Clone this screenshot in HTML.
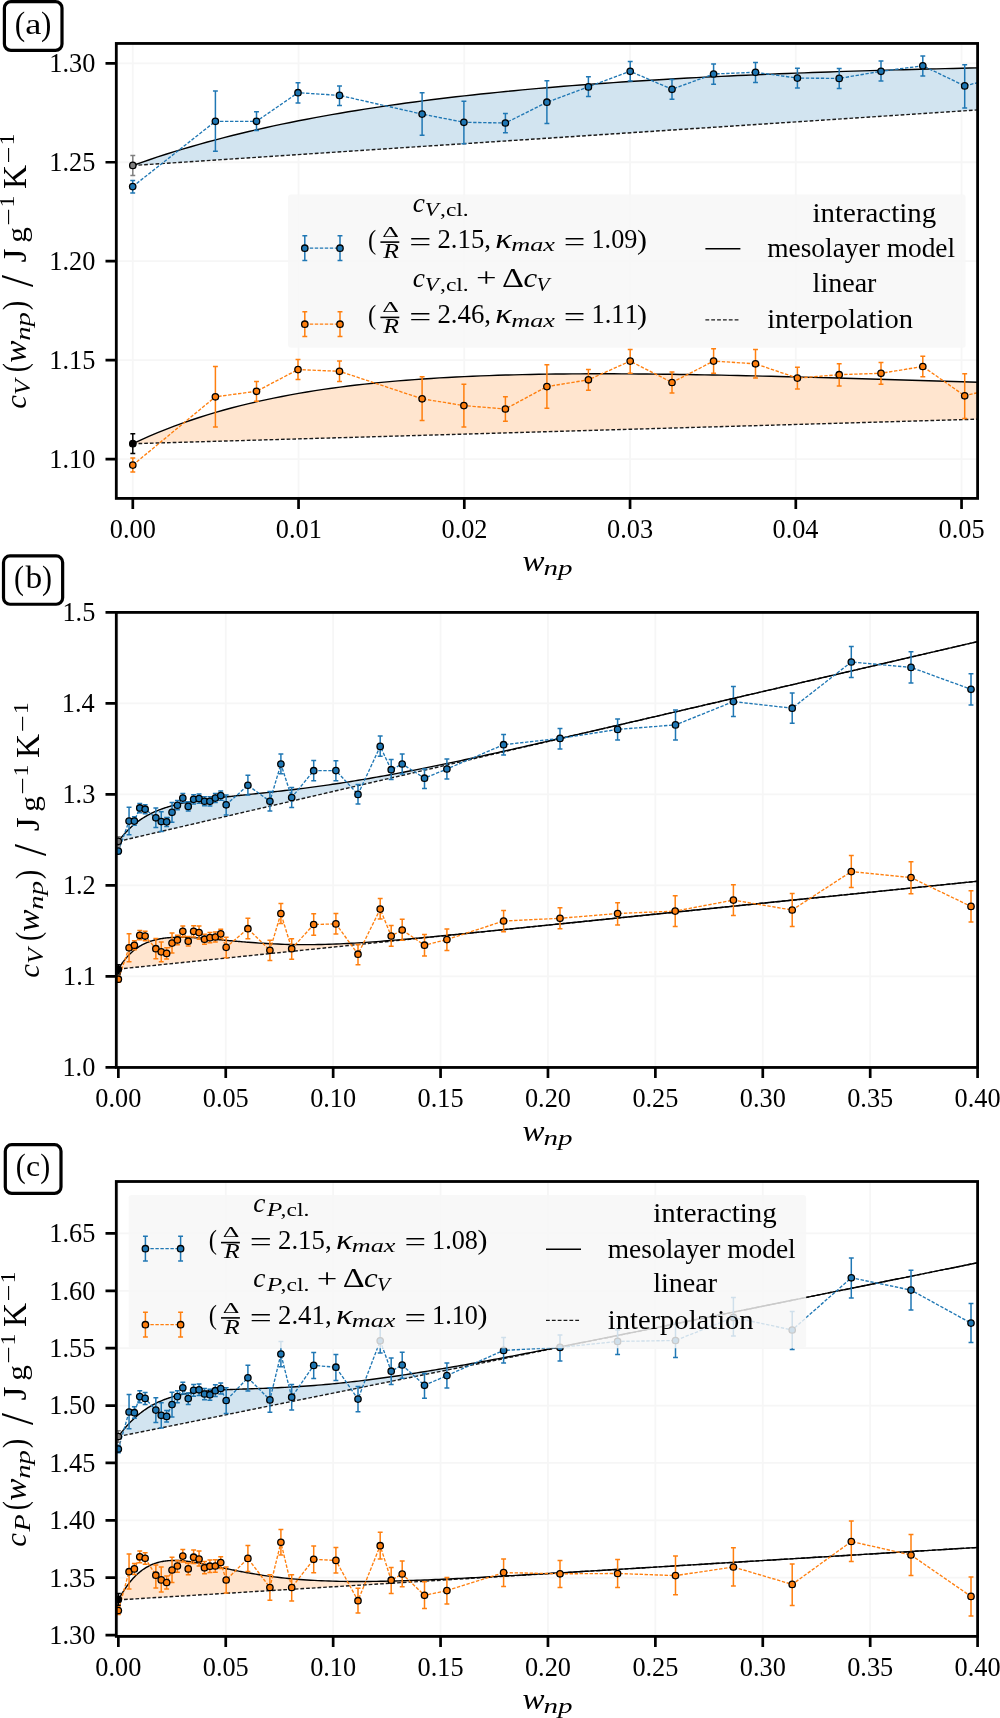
<!DOCTYPE html>
<html><head><meta charset="utf-8"><style>html,body{margin:0;padding:0;background:#fff;}</style></head><body>
<svg width="1000" height="1718" viewBox="0 0 1000 1718" style="display:block;font-family:'Liberation Serif', serif;font-kerning:none;will-change:transform">
<rect x="0" y="0" width="1000" height="1718" fill="#fff"/>
<defs><clipPath id="clipa"><rect x="116.30" y="43.45" width="861.30" height="454.95"/></clipPath></defs>
<path d="M132.80,43.45 V498.40 M298.55,43.45 V498.40 M464.30,43.45 V498.40 M630.05,43.45 V498.40 M795.80,43.45 V498.40 M961.55,43.45 V498.40 M116.30,459.10 H977.60 M116.30,360.15 H977.60 M116.30,261.20 H977.60 M116.30,162.25 H977.60 M116.30,63.30 H977.60" stroke="#f6f6f6" stroke-width="1.8" fill="none" clip-path="url(#clipa)"/>
<g clip-path="url(#clipa)">
<path d="M132.80,165.52 L141.09,162.58 L149.38,159.72 L157.66,156.95 L165.95,154.27 L174.24,151.67 L182.53,149.15 L190.81,146.71 L199.10,144.34 L207.39,142.04 L215.68,139.81 L223.96,137.64 L232.25,135.54 L240.54,133.50 L248.83,131.53 L257.11,129.60 L265.40,127.74 L273.69,125.93 L281.98,124.17 L290.26,122.46 L298.55,120.81 L306.84,119.19 L315.12,117.63 L323.41,116.11 L331.70,114.63 L339.99,113.19 L348.28,111.80 L356.56,110.44 L364.85,109.12 L373.14,107.84 L381.43,106.59 L389.71,105.38 L398.00,104.20 L406.29,103.05 L414.58,101.94 L422.86,100.85 L431.15,99.80 L439.44,98.77 L447.73,97.78 L456.01,96.80 L464.30,95.86 L472.59,94.94 L480.88,94.05 L489.16,93.18 L497.45,92.33 L505.74,91.51 L514.02,90.70 L522.31,89.92 L530.60,89.16 L538.89,88.42 L547.17,87.71 L555.46,87.01 L563.75,86.32 L572.04,85.66 L580.33,85.02 L588.61,84.39 L596.90,83.78 L605.19,83.18 L613.48,82.60 L621.76,82.04 L630.05,81.49 L638.34,80.96 L646.62,80.44 L654.91,79.93 L663.20,79.44 L671.49,78.96 L679.78,78.50 L688.06,78.04 L696.35,77.60 L704.64,77.17 L712.92,76.75 L721.21,76.35 L729.50,75.95 L737.79,75.57 L746.08,75.19 L754.36,74.83 L762.65,74.47 L770.94,74.13 L779.22,73.79 L787.51,73.46 L795.80,73.14 L804.09,72.83 L812.38,72.53 L820.66,72.24 L828.95,71.95 L837.24,71.67 L845.53,71.40 L853.81,71.14 L862.10,70.88 L870.39,70.63 L878.67,70.39 L886.96,70.15 L895.25,69.91 L903.54,69.69 L911.83,69.47 L920.11,69.25 L928.40,69.04 L936.69,68.84 L944.98,68.64 L953.26,68.44 L961.55,68.25 L969.84,68.06 L978.12,67.88 L986.41,67.70 L994.70,67.52 L1002.99,67.35 L1011.28,67.18 L1019.56,67.02 L1027.85,66.86 L1036.14,66.70 L1044.42,66.54 L1052.71,66.39 L1061.00,66.23 L1069.29,66.08 L1077.58,65.94 L1085.86,65.79 L1094.15,65.65 L1102.44,65.50 L1110.73,65.36 L1119.01,65.22 L1127.30,65.08 L1135.59,64.95 L1134.84,64.96 L1134.09,64.97 L1133.34,64.98 L1132.59,65.00 L1131.84,65.01 L1131.09,65.02 L1130.34,65.03 L1129.59,65.05 L1128.84,65.06 L1128.09,65.07 L1127.34,65.08 L1126.59,65.10 L1125.84,65.11 L1125.09,65.12 L1124.34,65.13 L1123.59,65.15 L1122.84,65.16 L1122.09,65.17 L1121.34,65.18 L1120.60,65.20 L1119.85,65.21 L1119.10,65.22 L1118.35,65.23 L1117.60,65.25 L1116.85,65.26 L1116.10,65.27 L1115.35,65.28 L1114.60,65.30 L1113.85,65.31 L1113.10,65.32 L1112.35,65.34 L1111.60,65.35 L1110.85,65.36 L1110.10,65.37 L1109.35,65.39 L1108.60,65.40 L1107.85,65.41 L1107.10,65.42 L1106.35,65.44 L1105.60,65.45 L1104.85,65.46 L1104.10,65.48 L1103.35,65.49 L1102.60,65.50 L1101.85,65.51 L1101.10,65.53 L1100.36,65.54 L1099.61,65.55 L1098.86,65.57 L1098.11,65.58 L1097.36,65.59 L1096.61,65.60 L1095.86,65.62 L1095.11,65.63 L1094.36,65.64 L1093.61,65.66 L1092.86,65.67 L1092.11,65.68 L1091.36,65.69 L1090.61,65.71 L1089.86,65.72 L1089.11,65.73 L1088.36,65.75 L1087.61,65.76 L1086.86,65.77 L1086.11,65.79 L1085.36,65.80 L1084.61,65.81 L1083.86,65.83 L1083.11,65.84 L1082.36,65.85 L1081.61,65.86 L1080.87,65.88 L1080.12,65.89 L1079.37,65.90 L1078.62,65.92 L1077.87,65.93 L1077.12,65.94 L1076.37,65.96 L1075.62,65.97 L1074.87,65.98 L1074.12,66.00 L1073.37,66.01 L1072.62,66.02 L1071.87,66.04 L1071.12,66.05 L1070.37,66.06 L1069.62,66.08 L1068.87,66.09 L1068.12,66.10 L1067.37,66.12 L1066.62,66.13 L1065.87,66.15 L1065.12,66.16 L1064.37,66.17 L1063.62,66.19 L1062.87,66.20 L1062.12,66.21 L1061.37,66.23 L1060.63,66.24 L1059.88,66.25 L1059.13,66.27 L1058.38,66.28 L1057.63,66.29 L1056.88,66.31 L1056.13,66.32 L1055.38,66.34 L1054.63,66.35 L1053.88,66.36 L1053.13,66.38 L1052.38,66.39 L1051.63,66.41 L1050.88,66.42 L1050.13,66.43 L1049.38,66.45 L1048.63,66.46 L1047.88,66.47 L1047.13,66.49 L1046.38,66.50 L1045.63,66.52 L1044.88,66.53 L1044.13,66.54 L1043.38,66.56 L1042.63,66.57 L1041.88,66.59 L1041.13,66.60 L1040.39,66.62 L1039.64,66.63 L1038.89,66.64 L1038.14,66.66 L1037.39,66.67 L1036.64,66.69 L1035.89,66.70 L1035.14,66.72 L1034.39,66.73 L1033.64,66.74 L1032.89,66.76 L1032.14,66.77 L1031.39,66.79 L1030.64,66.80 L1029.89,66.82 L1029.14,66.83 L1028.39,66.85 L1027.64,66.86 L1026.89,66.87 L1026.14,66.89 L1025.39,66.90 L1024.64,66.92 L1023.89,66.93 L1023.14,66.95 L1022.39,66.96 L1021.64,66.98 L1020.90,66.99 L1020.15,67.01 L1019.40,67.02 L1018.65,67.04 L1017.90,67.05 L1017.15,67.07 L1016.40,67.08 L1015.65,67.10 L1014.90,67.11 L1014.15,67.13 L1013.40,67.14 L1012.65,67.16 L1011.90,67.17 L1011.15,67.19 L1010.40,67.20 L1009.65,67.22 L1008.90,67.23 L1008.15,67.25 L1007.40,67.26 L1006.65,67.28 L1005.90,67.29 L1005.15,67.31 L1004.40,67.32 L1003.65,67.34 L1002.90,67.35 L1002.15,67.37 L1001.40,67.38 L1000.66,67.40 L999.91,67.42 L999.16,67.43 L998.41,67.45 L997.66,67.46 L996.91,67.48 L996.16,67.49 L995.41,67.51 L994.66,67.52 L993.91,67.54 L993.16,67.56 L992.41,67.57 L991.66,67.59 L990.91,67.60 L990.16,67.62 L989.41,67.64 L988.66,67.65 L987.91,67.67 L987.16,67.68 L986.41,67.70 L986.41,109.31 L987.16,109.26 L987.91,109.21 L988.66,109.16 L989.41,109.11 L990.16,109.06 L990.91,109.01 L991.66,108.96 L992.41,108.91 L993.16,108.86 L993.91,108.81 L994.66,108.76 L995.41,108.71 L996.16,108.67 L996.91,108.62 L997.66,108.57 L998.41,108.52 L999.16,108.47 L999.91,108.42 L1000.66,108.37 L1001.40,108.32 L1002.15,108.27 L1002.90,108.22 L1003.65,108.17 L1004.40,108.12 L1005.15,108.07 L1005.90,108.02 L1006.65,107.97 L1007.40,107.93 L1008.15,107.88 L1008.90,107.83 L1009.65,107.78 L1010.40,107.73 L1011.15,107.68 L1011.90,107.63 L1012.65,107.58 L1013.40,107.53 L1014.15,107.48 L1014.90,107.43 L1015.65,107.38 L1016.40,107.33 L1017.15,107.28 L1017.90,107.23 L1018.65,107.18 L1019.40,107.14 L1020.15,107.09 L1020.90,107.04 L1021.64,106.99 L1022.39,106.94 L1023.14,106.89 L1023.89,106.84 L1024.64,106.79 L1025.39,106.74 L1026.14,106.69 L1026.89,106.64 L1027.64,106.59 L1028.39,106.54 L1029.14,106.49 L1029.89,106.44 L1030.64,106.39 L1031.39,106.35 L1032.14,106.30 L1032.89,106.25 L1033.64,106.20 L1034.39,106.15 L1035.14,106.10 L1035.89,106.05 L1036.64,106.00 L1037.39,105.95 L1038.14,105.90 L1038.89,105.85 L1039.64,105.80 L1040.39,105.75 L1041.13,105.70 L1041.88,105.65 L1042.63,105.60 L1043.38,105.56 L1044.13,105.51 L1044.88,105.46 L1045.63,105.41 L1046.38,105.36 L1047.13,105.31 L1047.88,105.26 L1048.63,105.21 L1049.38,105.16 L1050.13,105.11 L1050.88,105.06 L1051.63,105.01 L1052.38,104.96 L1053.13,104.91 L1053.88,104.86 L1054.63,104.81 L1055.38,104.77 L1056.13,104.72 L1056.88,104.67 L1057.63,104.62 L1058.38,104.57 L1059.13,104.52 L1059.88,104.47 L1060.63,104.42 L1061.37,104.37 L1062.12,104.32 L1062.87,104.27 L1063.62,104.22 L1064.37,104.17 L1065.12,104.12 L1065.87,104.07 L1066.62,104.03 L1067.37,103.98 L1068.12,103.93 L1068.87,103.88 L1069.62,103.83 L1070.37,103.78 L1071.12,103.73 L1071.87,103.68 L1072.62,103.63 L1073.37,103.58 L1074.12,103.53 L1074.87,103.48 L1075.62,103.43 L1076.37,103.38 L1077.12,103.33 L1077.87,103.28 L1078.62,103.24 L1079.37,103.19 L1080.12,103.14 L1080.87,103.09 L1081.61,103.04 L1082.36,102.99 L1083.11,102.94 L1083.86,102.89 L1084.61,102.84 L1085.36,102.79 L1086.11,102.74 L1086.86,102.69 L1087.61,102.64 L1088.36,102.59 L1089.11,102.54 L1089.86,102.49 L1090.61,102.45 L1091.36,102.40 L1092.11,102.35 L1092.86,102.30 L1093.61,102.25 L1094.36,102.20 L1095.11,102.15 L1095.86,102.10 L1096.61,102.05 L1097.36,102.00 L1098.11,101.95 L1098.86,101.90 L1099.61,101.85 L1100.36,101.80 L1101.10,101.75 L1101.85,101.70 L1102.60,101.66 L1103.35,101.61 L1104.10,101.56 L1104.85,101.51 L1105.60,101.46 L1106.35,101.41 L1107.10,101.36 L1107.85,101.31 L1108.60,101.26 L1109.35,101.21 L1110.10,101.16 L1110.85,101.11 L1111.60,101.06 L1112.35,101.01 L1113.10,100.96 L1113.85,100.91 L1114.60,100.87 L1115.35,100.82 L1116.10,100.77 L1116.85,100.72 L1117.60,100.67 L1118.35,100.62 L1119.10,100.57 L1119.85,100.52 L1120.60,100.47 L1121.34,100.42 L1122.09,100.37 L1122.84,100.32 L1123.59,100.27 L1124.34,100.22 L1125.09,100.17 L1125.84,100.13 L1126.59,100.08 L1127.34,100.03 L1128.09,99.98 L1128.84,99.93 L1129.59,99.88 L1130.34,99.83 L1131.09,99.78 L1131.84,99.73 L1132.59,99.68 L1133.34,99.63 L1134.09,99.58 L1134.84,99.53 L1135.59,99.48 L1127.30,100.03 L1119.01,100.57 L1110.73,101.12 L1102.44,101.67 L1094.15,102.21 L1085.86,102.76 L1077.58,103.30 L1069.29,103.85 L1061.00,104.40 L1052.71,104.94 L1044.42,105.49 L1036.14,106.03 L1027.85,106.58 L1019.56,107.12 L1011.28,107.67 L1002.99,108.22 L994.70,108.76 L986.41,109.31 L978.12,109.85 L969.84,110.40 L961.55,110.94 L953.26,111.49 L944.98,112.04 L936.69,112.58 L928.40,113.13 L920.11,113.67 L911.83,114.22 L903.54,114.77 L895.25,115.31 L886.96,115.86 L878.67,116.40 L870.39,116.95 L862.10,117.49 L853.81,118.04 L845.53,118.59 L837.24,119.13 L828.95,119.68 L820.66,120.22 L812.38,120.77 L804.09,121.31 L795.80,121.86 L787.51,122.41 L779.22,122.95 L770.94,123.50 L762.65,124.04 L754.36,124.59 L746.08,125.14 L737.79,125.68 L729.50,126.23 L721.21,126.77 L712.92,127.32 L704.64,127.86 L696.35,128.41 L688.06,128.96 L679.78,129.50 L671.49,130.05 L663.20,130.59 L654.91,131.14 L646.62,131.68 L638.34,132.23 L630.05,132.78 L621.76,133.32 L613.48,133.87 L605.19,134.41 L596.90,134.96 L588.61,135.50 L580.33,136.05 L572.04,136.60 L563.75,137.14 L555.46,137.69 L547.17,138.23 L538.89,138.78 L530.60,139.33 L522.31,139.87 L514.02,140.42 L505.74,140.96 L497.45,141.51 L489.16,142.05 L480.88,142.60 L472.59,143.15 L464.30,143.69 L456.01,144.24 L447.73,144.78 L439.44,145.33 L431.15,145.87 L422.86,146.42 L414.58,146.97 L406.29,147.51 L398.00,148.06 L389.71,148.60 L381.43,149.15 L373.14,149.70 L364.85,150.24 L356.56,150.79 L348.28,151.33 L339.99,151.88 L331.70,152.42 L323.41,152.97 L315.12,153.52 L306.84,154.06 L298.55,154.61 L290.26,155.15 L281.98,155.70 L273.69,156.24 L265.40,156.79 L257.11,157.34 L248.83,157.88 L240.54,158.43 L232.25,158.97 L223.96,159.52 L215.68,160.06 L207.39,160.61 L199.10,161.16 L190.81,161.70 L182.53,162.25 L174.24,162.79 L165.95,163.34 L157.66,163.89 L149.38,164.43 L141.09,164.98 L132.80,165.52 Z" fill="#d2e4f0" stroke="none"/>
<path d="M132.80,443.72 L141.09,439.87 L149.38,436.20 L157.66,432.70 L165.95,429.36 L174.24,426.18 L182.53,423.15 L190.81,420.26 L199.10,417.52 L207.39,414.90 L215.68,412.41 L223.96,410.04 L232.25,407.79 L240.54,405.65 L248.83,403.61 L257.11,401.68 L265.40,399.85 L273.69,398.11 L281.98,396.45 L290.26,394.89 L298.55,393.41 L306.84,392.00 L315.12,390.67 L323.41,389.42 L331.70,388.23 L339.99,387.11 L348.28,386.05 L356.56,385.05 L364.85,384.12 L373.14,383.23 L381.43,382.41 L389.71,381.63 L398.00,380.90 L406.29,380.22 L414.58,379.58 L422.86,378.99 L431.15,378.43 L439.44,377.92 L447.73,377.45 L456.01,377.01 L464.30,376.60 L472.59,376.23 L480.88,375.89 L489.16,375.58 L497.45,375.30 L505.74,375.05 L514.02,374.83 L522.31,374.63 L530.60,374.45 L538.89,374.30 L547.17,374.17 L555.46,374.06 L563.75,373.97 L572.04,373.90 L580.33,373.85 L588.61,373.82 L596.90,373.81 L605.19,373.81 L613.48,373.82 L621.76,373.86 L630.05,373.90 L638.34,373.96 L646.62,374.03 L654.91,374.12 L663.20,374.21 L671.49,374.32 L679.78,374.44 L688.06,374.56 L696.35,374.70 L704.64,374.84 L712.92,375.00 L721.21,375.16 L729.50,375.33 L737.79,375.51 L746.08,375.69 L754.36,375.88 L762.65,376.08 L770.94,376.28 L779.22,376.48 L787.51,376.69 L795.80,376.91 L804.09,377.13 L812.38,377.35 L820.66,377.58 L828.95,377.81 L837.24,378.05 L845.53,378.28 L853.81,378.52 L862.10,378.76 L870.39,379.01 L878.67,379.25 L886.96,379.50 L895.25,379.75 L903.54,379.99 L911.83,380.24 L920.11,380.49 L928.40,380.74 L936.69,380.99 L944.98,381.24 L953.26,381.49 L961.55,381.74 L969.84,381.99 L978.12,382.24 L986.41,382.49 L994.70,382.73 L1002.99,382.98 L1011.28,383.22 L1019.56,383.47 L1027.85,383.71 L1036.14,383.94 L1044.42,384.18 L1052.71,384.42 L1061.00,384.65 L1069.29,384.88 L1077.58,385.11 L1085.86,385.33 L1094.15,385.56 L1102.44,385.78 L1110.73,385.99 L1119.01,386.21 L1127.30,386.42 L1135.59,386.63 L1134.84,386.61 L1134.09,386.59 L1133.34,386.57 L1132.59,386.55 L1131.84,386.53 L1131.09,386.51 L1130.34,386.49 L1129.59,386.48 L1128.84,386.46 L1128.09,386.44 L1127.34,386.42 L1126.59,386.40 L1125.84,386.38 L1125.09,386.36 L1124.34,386.34 L1123.59,386.32 L1122.84,386.30 L1122.09,386.29 L1121.34,386.27 L1120.60,386.25 L1119.85,386.23 L1119.10,386.21 L1118.35,386.19 L1117.60,386.17 L1116.85,386.15 L1116.10,386.13 L1115.35,386.11 L1114.60,386.09 L1113.85,386.07 L1113.10,386.05 L1112.35,386.03 L1111.60,386.02 L1110.85,386.00 L1110.10,385.98 L1109.35,385.96 L1108.60,385.94 L1107.85,385.92 L1107.10,385.90 L1106.35,385.88 L1105.60,385.86 L1104.85,385.84 L1104.10,385.82 L1103.35,385.80 L1102.60,385.78 L1101.85,385.76 L1101.10,385.74 L1100.36,385.72 L1099.61,385.70 L1098.86,385.68 L1098.11,385.66 L1097.36,385.64 L1096.61,385.62 L1095.86,385.60 L1095.11,385.58 L1094.36,385.56 L1093.61,385.54 L1092.86,385.52 L1092.11,385.50 L1091.36,385.48 L1090.61,385.46 L1089.86,385.44 L1089.11,385.42 L1088.36,385.40 L1087.61,385.38 L1086.86,385.36 L1086.11,385.34 L1085.36,385.32 L1084.61,385.30 L1083.86,385.28 L1083.11,385.26 L1082.36,385.24 L1081.61,385.22 L1080.87,385.20 L1080.12,385.18 L1079.37,385.16 L1078.62,385.14 L1077.87,385.12 L1077.12,385.09 L1076.37,385.07 L1075.62,385.05 L1074.87,385.03 L1074.12,385.01 L1073.37,384.99 L1072.62,384.97 L1071.87,384.95 L1071.12,384.93 L1070.37,384.91 L1069.62,384.89 L1068.87,384.87 L1068.12,384.85 L1067.37,384.83 L1066.62,384.81 L1065.87,384.78 L1065.12,384.76 L1064.37,384.74 L1063.62,384.72 L1062.87,384.70 L1062.12,384.68 L1061.37,384.66 L1060.63,384.64 L1059.88,384.62 L1059.13,384.60 L1058.38,384.58 L1057.63,384.55 L1056.88,384.53 L1056.13,384.51 L1055.38,384.49 L1054.63,384.47 L1053.88,384.45 L1053.13,384.43 L1052.38,384.41 L1051.63,384.39 L1050.88,384.36 L1050.13,384.34 L1049.38,384.32 L1048.63,384.30 L1047.88,384.28 L1047.13,384.26 L1046.38,384.24 L1045.63,384.22 L1044.88,384.19 L1044.13,384.17 L1043.38,384.15 L1042.63,384.13 L1041.88,384.11 L1041.13,384.09 L1040.39,384.07 L1039.64,384.05 L1038.89,384.02 L1038.14,384.00 L1037.39,383.98 L1036.64,383.96 L1035.89,383.94 L1035.14,383.92 L1034.39,383.89 L1033.64,383.87 L1032.89,383.85 L1032.14,383.83 L1031.39,383.81 L1030.64,383.79 L1029.89,383.77 L1029.14,383.74 L1028.39,383.72 L1027.64,383.70 L1026.89,383.68 L1026.14,383.66 L1025.39,383.64 L1024.64,383.61 L1023.89,383.59 L1023.14,383.57 L1022.39,383.55 L1021.64,383.53 L1020.90,383.50 L1020.15,383.48 L1019.40,383.46 L1018.65,383.44 L1017.90,383.42 L1017.15,383.40 L1016.40,383.37 L1015.65,383.35 L1014.90,383.33 L1014.15,383.31 L1013.40,383.29 L1012.65,383.26 L1011.90,383.24 L1011.15,383.22 L1010.40,383.20 L1009.65,383.18 L1008.90,383.15 L1008.15,383.13 L1007.40,383.11 L1006.65,383.09 L1005.90,383.07 L1005.15,383.04 L1004.40,383.02 L1003.65,383.00 L1002.90,382.98 L1002.15,382.96 L1001.40,382.93 L1000.66,382.91 L999.91,382.89 L999.16,382.87 L998.41,382.84 L997.66,382.82 L996.91,382.80 L996.16,382.78 L995.41,382.76 L994.66,382.73 L993.91,382.71 L993.16,382.69 L992.41,382.67 L991.66,382.64 L990.91,382.62 L990.16,382.60 L989.41,382.58 L988.66,382.56 L987.91,382.53 L987.16,382.51 L986.41,382.49 L986.41,418.93 L987.16,418.91 L987.91,418.89 L988.66,418.86 L989.41,418.84 L990.16,418.82 L990.91,418.80 L991.66,418.78 L992.41,418.76 L993.16,418.73 L993.91,418.71 L994.66,418.69 L995.41,418.67 L996.16,418.65 L996.91,418.62 L997.66,418.60 L998.41,418.58 L999.16,418.56 L999.91,418.54 L1000.66,418.52 L1001.40,418.49 L1002.15,418.47 L1002.90,418.45 L1003.65,418.43 L1004.40,418.41 L1005.15,418.39 L1005.90,418.36 L1006.65,418.34 L1007.40,418.32 L1008.15,418.30 L1008.90,418.28 L1009.65,418.25 L1010.40,418.23 L1011.15,418.21 L1011.90,418.19 L1012.65,418.17 L1013.40,418.15 L1014.15,418.12 L1014.90,418.10 L1015.65,418.08 L1016.40,418.06 L1017.15,418.04 L1017.90,418.02 L1018.65,417.99 L1019.40,417.97 L1020.15,417.95 L1020.90,417.93 L1021.64,417.91 L1022.39,417.88 L1023.14,417.86 L1023.89,417.84 L1024.64,417.82 L1025.39,417.80 L1026.14,417.78 L1026.89,417.75 L1027.64,417.73 L1028.39,417.71 L1029.14,417.69 L1029.89,417.67 L1030.64,417.65 L1031.39,417.62 L1032.14,417.60 L1032.89,417.58 L1033.64,417.56 L1034.39,417.54 L1035.14,417.51 L1035.89,417.49 L1036.64,417.47 L1037.39,417.45 L1038.14,417.43 L1038.89,417.41 L1039.64,417.38 L1040.39,417.36 L1041.13,417.34 L1041.88,417.32 L1042.63,417.30 L1043.38,417.28 L1044.13,417.25 L1044.88,417.23 L1045.63,417.21 L1046.38,417.19 L1047.13,417.17 L1047.88,417.14 L1048.63,417.12 L1049.38,417.10 L1050.13,417.08 L1050.88,417.06 L1051.63,417.04 L1052.38,417.01 L1053.13,416.99 L1053.88,416.97 L1054.63,416.95 L1055.38,416.93 L1056.13,416.90 L1056.88,416.88 L1057.63,416.86 L1058.38,416.84 L1059.13,416.82 L1059.88,416.80 L1060.63,416.77 L1061.37,416.75 L1062.12,416.73 L1062.87,416.71 L1063.62,416.69 L1064.37,416.67 L1065.12,416.64 L1065.87,416.62 L1066.62,416.60 L1067.37,416.58 L1068.12,416.56 L1068.87,416.53 L1069.62,416.51 L1070.37,416.49 L1071.12,416.47 L1071.87,416.45 L1072.62,416.43 L1073.37,416.40 L1074.12,416.38 L1074.87,416.36 L1075.62,416.34 L1076.37,416.32 L1077.12,416.30 L1077.87,416.27 L1078.62,416.25 L1079.37,416.23 L1080.12,416.21 L1080.87,416.19 L1081.61,416.16 L1082.36,416.14 L1083.11,416.12 L1083.86,416.10 L1084.61,416.08 L1085.36,416.06 L1086.11,416.03 L1086.86,416.01 L1087.61,415.99 L1088.36,415.97 L1089.11,415.95 L1089.86,415.93 L1090.61,415.90 L1091.36,415.88 L1092.11,415.86 L1092.86,415.84 L1093.61,415.82 L1094.36,415.79 L1095.11,415.77 L1095.86,415.75 L1096.61,415.73 L1097.36,415.71 L1098.11,415.69 L1098.86,415.66 L1099.61,415.64 L1100.36,415.62 L1101.10,415.60 L1101.85,415.58 L1102.60,415.56 L1103.35,415.53 L1104.10,415.51 L1104.85,415.49 L1105.60,415.47 L1106.35,415.45 L1107.10,415.42 L1107.85,415.40 L1108.60,415.38 L1109.35,415.36 L1110.10,415.34 L1110.85,415.32 L1111.60,415.29 L1112.35,415.27 L1113.10,415.25 L1113.85,415.23 L1114.60,415.21 L1115.35,415.19 L1116.10,415.16 L1116.85,415.14 L1117.60,415.12 L1118.35,415.10 L1119.10,415.08 L1119.85,415.05 L1120.60,415.03 L1121.34,415.01 L1122.09,414.99 L1122.84,414.97 L1123.59,414.95 L1124.34,414.92 L1125.09,414.90 L1125.84,414.88 L1126.59,414.86 L1127.34,414.84 L1128.09,414.81 L1128.84,414.79 L1129.59,414.77 L1130.34,414.75 L1131.09,414.73 L1131.84,414.71 L1132.59,414.68 L1133.34,414.66 L1134.09,414.64 L1134.84,414.62 L1135.59,414.60 L1127.30,414.84 L1119.01,415.08 L1110.73,415.32 L1102.44,415.56 L1094.15,415.80 L1085.86,416.04 L1077.58,416.28 L1069.29,416.52 L1061.00,416.76 L1052.71,417.00 L1044.42,417.24 L1036.14,417.49 L1027.85,417.73 L1019.56,417.97 L1011.28,418.21 L1002.99,418.45 L994.70,418.69 L986.41,418.93 L978.12,419.17 L969.84,419.41 L961.55,419.65 L953.26,419.89 L944.98,420.13 L936.69,420.37 L928.40,420.61 L920.11,420.86 L911.83,421.10 L903.54,421.34 L895.25,421.58 L886.96,421.82 L878.67,422.06 L870.39,422.30 L862.10,422.54 L853.81,422.78 L845.53,423.02 L837.24,423.26 L828.95,423.50 L820.66,423.74 L812.38,423.98 L804.09,424.22 L795.80,424.47 L787.51,424.71 L779.22,424.95 L770.94,425.19 L762.65,425.43 L754.36,425.67 L746.08,425.91 L737.79,426.15 L729.50,426.39 L721.21,426.63 L712.92,426.87 L704.64,427.11 L696.35,427.35 L688.06,427.59 L679.78,427.84 L671.49,428.08 L663.20,428.32 L654.91,428.56 L646.62,428.80 L638.34,429.04 L630.05,429.28 L621.76,429.52 L613.48,429.76 L605.19,430.00 L596.90,430.24 L588.61,430.48 L580.33,430.72 L572.04,430.96 L563.75,431.20 L555.46,431.45 L547.17,431.69 L538.89,431.93 L530.60,432.17 L522.31,432.41 L514.02,432.65 L505.74,432.89 L497.45,433.13 L489.16,433.37 L480.88,433.61 L472.59,433.85 L464.30,434.09 L456.01,434.33 L447.73,434.57 L439.44,434.82 L431.15,435.06 L422.86,435.30 L414.58,435.54 L406.29,435.78 L398.00,436.02 L389.71,436.26 L381.43,436.50 L373.14,436.74 L364.85,436.98 L356.56,437.22 L348.28,437.46 L339.99,437.70 L331.70,437.94 L323.41,438.19 L315.12,438.43 L306.84,438.67 L298.55,438.91 L290.26,439.15 L281.98,439.39 L273.69,439.63 L265.40,439.87 L257.11,440.11 L248.83,440.35 L240.54,440.59 L232.25,440.83 L223.96,441.07 L215.68,441.31 L207.39,441.55 L199.10,441.80 L190.81,442.04 L182.53,442.28 L174.24,442.52 L165.95,442.76 L157.66,443.00 L149.38,443.24 L141.09,443.48 L132.80,443.72 Z" fill="#ffe5cf" stroke="none"/>
<path d="M132.80,165.52 L986.41,109.31" stroke="#1a1a1a" stroke-width="1.4" stroke-dasharray="3.7 2.0" fill="none"/>
<path d="M132.80,165.52 L141.09,162.58 L149.38,159.72 L157.66,156.95 L165.95,154.27 L174.24,151.67 L182.53,149.15 L190.81,146.71 L199.10,144.34 L207.39,142.04 L215.68,139.81 L223.96,137.64 L232.25,135.54 L240.54,133.50 L248.83,131.53 L257.11,129.60 L265.40,127.74 L273.69,125.93 L281.98,124.17 L290.26,122.46 L298.55,120.81 L306.84,119.19 L315.12,117.63 L323.41,116.11 L331.70,114.63 L339.99,113.19 L348.28,111.80 L356.56,110.44 L364.85,109.12 L373.14,107.84 L381.43,106.59 L389.71,105.38 L398.00,104.20 L406.29,103.05 L414.58,101.94 L422.86,100.85 L431.15,99.80 L439.44,98.77 L447.73,97.78 L456.01,96.80 L464.30,95.86 L472.59,94.94 L480.88,94.05 L489.16,93.18 L497.45,92.33 L505.74,91.51 L514.02,90.70 L522.31,89.92 L530.60,89.16 L538.89,88.42 L547.17,87.71 L555.46,87.01 L563.75,86.32 L572.04,85.66 L580.33,85.02 L588.61,84.39 L596.90,83.78 L605.19,83.18 L613.48,82.60 L621.76,82.04 L630.05,81.49 L638.34,80.96 L646.62,80.44 L654.91,79.93 L663.20,79.44 L671.49,78.96 L679.78,78.50 L688.06,78.04 L696.35,77.60 L704.64,77.17 L712.92,76.75 L721.21,76.35 L729.50,75.95 L737.79,75.57 L746.08,75.19 L754.36,74.83 L762.65,74.47 L770.94,74.13 L779.22,73.79 L787.51,73.46 L795.80,73.14 L804.09,72.83 L812.38,72.53 L820.66,72.24 L828.95,71.95 L837.24,71.67 L845.53,71.40 L853.81,71.14 L862.10,70.88 L870.39,70.63 L878.67,70.39 L886.96,70.15 L895.25,69.91 L903.54,69.69 L911.83,69.47 L920.11,69.25 L928.40,69.04 L936.69,68.84 L944.98,68.64 L953.26,68.44 L961.55,68.25 L969.84,68.06 L978.12,67.88 L986.41,67.70 L994.70,67.52 L1002.99,67.35 L1011.28,67.18 L1019.56,67.02 L1027.85,66.86 L1036.14,66.70 L1044.42,66.54 L1052.71,66.39 L1061.00,66.23 L1069.29,66.08 L1077.58,65.94 L1085.86,65.79 L1094.15,65.65 L1102.44,65.50 L1110.73,65.36 L1119.01,65.22 L1127.30,65.08 L1135.59,64.95 L1134.84,64.96 L1134.09,64.97 L1133.34,64.98 L1132.59,65.00 L1131.84,65.01 L1131.09,65.02 L1130.34,65.03 L1129.59,65.05 L1128.84,65.06 L1128.09,65.07 L1127.34,65.08 L1126.59,65.10 L1125.84,65.11 L1125.09,65.12 L1124.34,65.13 L1123.59,65.15 L1122.84,65.16 L1122.09,65.17 L1121.34,65.18 L1120.60,65.20 L1119.85,65.21 L1119.10,65.22 L1118.35,65.23 L1117.60,65.25 L1116.85,65.26 L1116.10,65.27 L1115.35,65.28 L1114.60,65.30 L1113.85,65.31 L1113.10,65.32 L1112.35,65.34 L1111.60,65.35 L1110.85,65.36 L1110.10,65.37 L1109.35,65.39 L1108.60,65.40 L1107.85,65.41 L1107.10,65.42 L1106.35,65.44 L1105.60,65.45 L1104.85,65.46 L1104.10,65.48 L1103.35,65.49 L1102.60,65.50 L1101.85,65.51 L1101.10,65.53 L1100.36,65.54 L1099.61,65.55 L1098.86,65.57 L1098.11,65.58 L1097.36,65.59 L1096.61,65.60 L1095.86,65.62 L1095.11,65.63 L1094.36,65.64 L1093.61,65.66 L1092.86,65.67 L1092.11,65.68 L1091.36,65.69 L1090.61,65.71 L1089.86,65.72 L1089.11,65.73 L1088.36,65.75 L1087.61,65.76 L1086.86,65.77 L1086.11,65.79 L1085.36,65.80 L1084.61,65.81 L1083.86,65.83 L1083.11,65.84 L1082.36,65.85 L1081.61,65.86 L1080.87,65.88 L1080.12,65.89 L1079.37,65.90 L1078.62,65.92 L1077.87,65.93 L1077.12,65.94 L1076.37,65.96 L1075.62,65.97 L1074.87,65.98 L1074.12,66.00 L1073.37,66.01 L1072.62,66.02 L1071.87,66.04 L1071.12,66.05 L1070.37,66.06 L1069.62,66.08 L1068.87,66.09 L1068.12,66.10 L1067.37,66.12 L1066.62,66.13 L1065.87,66.15 L1065.12,66.16 L1064.37,66.17 L1063.62,66.19 L1062.87,66.20 L1062.12,66.21 L1061.37,66.23 L1060.63,66.24 L1059.88,66.25 L1059.13,66.27 L1058.38,66.28 L1057.63,66.29 L1056.88,66.31 L1056.13,66.32 L1055.38,66.34 L1054.63,66.35 L1053.88,66.36 L1053.13,66.38 L1052.38,66.39 L1051.63,66.41 L1050.88,66.42 L1050.13,66.43 L1049.38,66.45 L1048.63,66.46 L1047.88,66.47 L1047.13,66.49 L1046.38,66.50 L1045.63,66.52 L1044.88,66.53 L1044.13,66.54 L1043.38,66.56 L1042.63,66.57 L1041.88,66.59 L1041.13,66.60 L1040.39,66.62 L1039.64,66.63 L1038.89,66.64 L1038.14,66.66 L1037.39,66.67 L1036.64,66.69 L1035.89,66.70 L1035.14,66.72 L1034.39,66.73 L1033.64,66.74 L1032.89,66.76 L1032.14,66.77 L1031.39,66.79 L1030.64,66.80 L1029.89,66.82 L1029.14,66.83 L1028.39,66.85 L1027.64,66.86 L1026.89,66.87 L1026.14,66.89 L1025.39,66.90 L1024.64,66.92 L1023.89,66.93 L1023.14,66.95 L1022.39,66.96 L1021.64,66.98 L1020.90,66.99 L1020.15,67.01 L1019.40,67.02 L1018.65,67.04 L1017.90,67.05 L1017.15,67.07 L1016.40,67.08 L1015.65,67.10 L1014.90,67.11 L1014.15,67.13 L1013.40,67.14 L1012.65,67.16 L1011.90,67.17 L1011.15,67.19 L1010.40,67.20 L1009.65,67.22 L1008.90,67.23 L1008.15,67.25 L1007.40,67.26 L1006.65,67.28 L1005.90,67.29 L1005.15,67.31 L1004.40,67.32 L1003.65,67.34 L1002.90,67.35 L1002.15,67.37 L1001.40,67.38 L1000.66,67.40 L999.91,67.42 L999.16,67.43 L998.41,67.45 L997.66,67.46 L996.91,67.48 L996.16,67.49 L995.41,67.51 L994.66,67.52 L993.91,67.54 L993.16,67.56 L992.41,67.57 L991.66,67.59 L990.91,67.60 L990.16,67.62 L989.41,67.64 L988.66,67.65 L987.91,67.67 L987.16,67.68 L986.41,67.70" stroke="#000" stroke-width="1.4" fill="none" stroke-linejoin="round"/>
<path d="M132.80,443.72 L986.41,418.93" stroke="#1a1a1a" stroke-width="1.4" stroke-dasharray="3.7 2.0" fill="none"/>
<path d="M132.80,443.72 L141.09,439.87 L149.38,436.20 L157.66,432.70 L165.95,429.36 L174.24,426.18 L182.53,423.15 L190.81,420.26 L199.10,417.52 L207.39,414.90 L215.68,412.41 L223.96,410.04 L232.25,407.79 L240.54,405.65 L248.83,403.61 L257.11,401.68 L265.40,399.85 L273.69,398.11 L281.98,396.45 L290.26,394.89 L298.55,393.41 L306.84,392.00 L315.12,390.67 L323.41,389.42 L331.70,388.23 L339.99,387.11 L348.28,386.05 L356.56,385.05 L364.85,384.12 L373.14,383.23 L381.43,382.41 L389.71,381.63 L398.00,380.90 L406.29,380.22 L414.58,379.58 L422.86,378.99 L431.15,378.43 L439.44,377.92 L447.73,377.45 L456.01,377.01 L464.30,376.60 L472.59,376.23 L480.88,375.89 L489.16,375.58 L497.45,375.30 L505.74,375.05 L514.02,374.83 L522.31,374.63 L530.60,374.45 L538.89,374.30 L547.17,374.17 L555.46,374.06 L563.75,373.97 L572.04,373.90 L580.33,373.85 L588.61,373.82 L596.90,373.81 L605.19,373.81 L613.48,373.82 L621.76,373.86 L630.05,373.90 L638.34,373.96 L646.62,374.03 L654.91,374.12 L663.20,374.21 L671.49,374.32 L679.78,374.44 L688.06,374.56 L696.35,374.70 L704.64,374.84 L712.92,375.00 L721.21,375.16 L729.50,375.33 L737.79,375.51 L746.08,375.69 L754.36,375.88 L762.65,376.08 L770.94,376.28 L779.22,376.48 L787.51,376.69 L795.80,376.91 L804.09,377.13 L812.38,377.35 L820.66,377.58 L828.95,377.81 L837.24,378.05 L845.53,378.28 L853.81,378.52 L862.10,378.76 L870.39,379.01 L878.67,379.25 L886.96,379.50 L895.25,379.75 L903.54,379.99 L911.83,380.24 L920.11,380.49 L928.40,380.74 L936.69,380.99 L944.98,381.24 L953.26,381.49 L961.55,381.74 L969.84,381.99 L978.12,382.24 L986.41,382.49 L994.70,382.73 L1002.99,382.98 L1011.28,383.22 L1019.56,383.47 L1027.85,383.71 L1036.14,383.94 L1044.42,384.18 L1052.71,384.42 L1061.00,384.65 L1069.29,384.88 L1077.58,385.11 L1085.86,385.33 L1094.15,385.56 L1102.44,385.78 L1110.73,385.99 L1119.01,386.21 L1127.30,386.42 L1135.59,386.63 L1134.84,386.61 L1134.09,386.59 L1133.34,386.57 L1132.59,386.55 L1131.84,386.53 L1131.09,386.51 L1130.34,386.49 L1129.59,386.48 L1128.84,386.46 L1128.09,386.44 L1127.34,386.42 L1126.59,386.40 L1125.84,386.38 L1125.09,386.36 L1124.34,386.34 L1123.59,386.32 L1122.84,386.30 L1122.09,386.29 L1121.34,386.27 L1120.60,386.25 L1119.85,386.23 L1119.10,386.21 L1118.35,386.19 L1117.60,386.17 L1116.85,386.15 L1116.10,386.13 L1115.35,386.11 L1114.60,386.09 L1113.85,386.07 L1113.10,386.05 L1112.35,386.03 L1111.60,386.02 L1110.85,386.00 L1110.10,385.98 L1109.35,385.96 L1108.60,385.94 L1107.85,385.92 L1107.10,385.90 L1106.35,385.88 L1105.60,385.86 L1104.85,385.84 L1104.10,385.82 L1103.35,385.80 L1102.60,385.78 L1101.85,385.76 L1101.10,385.74 L1100.36,385.72 L1099.61,385.70 L1098.86,385.68 L1098.11,385.66 L1097.36,385.64 L1096.61,385.62 L1095.86,385.60 L1095.11,385.58 L1094.36,385.56 L1093.61,385.54 L1092.86,385.52 L1092.11,385.50 L1091.36,385.48 L1090.61,385.46 L1089.86,385.44 L1089.11,385.42 L1088.36,385.40 L1087.61,385.38 L1086.86,385.36 L1086.11,385.34 L1085.36,385.32 L1084.61,385.30 L1083.86,385.28 L1083.11,385.26 L1082.36,385.24 L1081.61,385.22 L1080.87,385.20 L1080.12,385.18 L1079.37,385.16 L1078.62,385.14 L1077.87,385.12 L1077.12,385.09 L1076.37,385.07 L1075.62,385.05 L1074.87,385.03 L1074.12,385.01 L1073.37,384.99 L1072.62,384.97 L1071.87,384.95 L1071.12,384.93 L1070.37,384.91 L1069.62,384.89 L1068.87,384.87 L1068.12,384.85 L1067.37,384.83 L1066.62,384.81 L1065.87,384.78 L1065.12,384.76 L1064.37,384.74 L1063.62,384.72 L1062.87,384.70 L1062.12,384.68 L1061.37,384.66 L1060.63,384.64 L1059.88,384.62 L1059.13,384.60 L1058.38,384.58 L1057.63,384.55 L1056.88,384.53 L1056.13,384.51 L1055.38,384.49 L1054.63,384.47 L1053.88,384.45 L1053.13,384.43 L1052.38,384.41 L1051.63,384.39 L1050.88,384.36 L1050.13,384.34 L1049.38,384.32 L1048.63,384.30 L1047.88,384.28 L1047.13,384.26 L1046.38,384.24 L1045.63,384.22 L1044.88,384.19 L1044.13,384.17 L1043.38,384.15 L1042.63,384.13 L1041.88,384.11 L1041.13,384.09 L1040.39,384.07 L1039.64,384.05 L1038.89,384.02 L1038.14,384.00 L1037.39,383.98 L1036.64,383.96 L1035.89,383.94 L1035.14,383.92 L1034.39,383.89 L1033.64,383.87 L1032.89,383.85 L1032.14,383.83 L1031.39,383.81 L1030.64,383.79 L1029.89,383.77 L1029.14,383.74 L1028.39,383.72 L1027.64,383.70 L1026.89,383.68 L1026.14,383.66 L1025.39,383.64 L1024.64,383.61 L1023.89,383.59 L1023.14,383.57 L1022.39,383.55 L1021.64,383.53 L1020.90,383.50 L1020.15,383.48 L1019.40,383.46 L1018.65,383.44 L1017.90,383.42 L1017.15,383.40 L1016.40,383.37 L1015.65,383.35 L1014.90,383.33 L1014.15,383.31 L1013.40,383.29 L1012.65,383.26 L1011.90,383.24 L1011.15,383.22 L1010.40,383.20 L1009.65,383.18 L1008.90,383.15 L1008.15,383.13 L1007.40,383.11 L1006.65,383.09 L1005.90,383.07 L1005.15,383.04 L1004.40,383.02 L1003.65,383.00 L1002.90,382.98 L1002.15,382.96 L1001.40,382.93 L1000.66,382.91 L999.91,382.89 L999.16,382.87 L998.41,382.84 L997.66,382.82 L996.91,382.80 L996.16,382.78 L995.41,382.76 L994.66,382.73 L993.91,382.71 L993.16,382.69 L992.41,382.67 L991.66,382.64 L990.91,382.62 L990.16,382.60 L989.41,382.58 L988.66,382.56 L987.91,382.53 L987.16,382.51 L986.41,382.49" stroke="#000" stroke-width="1.4" fill="none" stroke-linejoin="round"/>
<path d="M132.70,186.60 L215.40,121.30 L256.50,121.30 L298.00,92.70 L339.50,95.40 L422.10,114.10 L463.90,122.30 L505.40,123.00 L546.90,102.20 L588.40,86.90 L630.20,71.30 L672.00,89.30 L713.60,74.00 L755.50,72.30 L797.40,78.10 L839.20,78.40 L881.00,71.30 L922.80,65.80 L964.70,85.90 L1132.42,43.47 L1302.18,78.26 L1387.06,-2.85 L1470.39,70.00 L1640.14,11.72 L1811.44,11.50 L1981.97,63.26 L2153.27,-41.12 L2238.14,9.55 L2323.02,-2.85 L2495.09,28.03 L2667.93,8.02 L3105.44,-44.82 L3540.62,-58.51 L3985.07,-78.09 L4431.84,-87.87 L4878.60,-138.54 L5332.31,-124.18 L5788.33,-224.65 L6248.98,-212.90 L6711.95,-165.28" stroke="#1f77b4" stroke-width="1.35" stroke-dasharray="3.4 1.6" fill="none"/>
<path d="M132.70,180.40 V193.00 M130.25,180.40 H135.15 M130.25,193.00 H135.15 M215.40,91.00 V151.20 M212.95,91.00 H217.85 M212.95,151.20 H217.85 M256.50,111.70 V130.40 M254.05,111.70 H258.95 M254.05,130.40 H258.95 M298.00,82.80 V102.90 M295.55,82.80 H300.45 M295.55,102.90 H300.45 M339.50,85.90 V105.60 M337.05,85.90 H341.95 M337.05,105.60 H341.95 M422.10,92.70 V135.20 M419.65,92.70 H424.55 M419.65,135.20 H424.55 M463.90,101.20 V143.70 M461.45,101.20 H466.35 M461.45,143.70 H466.35 M505.40,113.40 V132.80 M502.95,113.40 H507.85 M502.95,132.80 H507.85 M546.90,80.80 V123.60 M544.45,80.80 H549.35 M544.45,123.60 H549.35 M588.40,76.70 V96.40 M585.95,76.70 H590.85 M585.95,96.40 H590.85 M630.20,61.40 V81.10 M627.75,61.40 H632.65 M627.75,81.10 H632.65 M672.00,79.40 V99.20 M669.55,79.40 H674.45 M669.55,99.20 H674.45 M713.60,64.10 V84.20 M711.15,64.10 H716.05 M711.15,84.20 H716.05 M755.50,62.40 V82.50 M753.05,62.40 H757.95 M753.05,82.50 H757.95 M797.40,68.20 V87.90 M794.95,68.20 H799.85 M794.95,87.90 H799.85 M839.20,68.60 V88.60 M836.75,68.60 H841.65 M836.75,88.60 H841.65 M881.00,61.10 V81.10 M878.55,61.10 H883.45 M878.55,81.10 H883.45 M922.80,56.00 V76.00 M920.35,56.00 H925.25 M920.35,76.00 H925.25 M964.70,64.80 V108.00 M962.25,64.80 H967.15 M962.25,108.00 H967.15 M1132.42,21.72 V64.56 M1129.97,21.72 H1134.87 M1129.97,64.56 H1134.87 M1302.18,57.17 V99.14 M1299.73,57.17 H1304.63 M1299.73,99.14 H1304.63 M1387.06,-24.59 V18.24 M1384.61,-24.59 H1389.51 M1384.61,18.24 H1389.51 M1470.39,48.25 V91.96 M1467.94,48.25 H1472.84 M1467.94,91.96 H1472.84 M1640.14,-10.68 V33.47 M1637.69,-10.68 H1642.59 M1637.69,33.47 H1642.59 M1811.44,-10.02 V33.47 M1808.99,-10.02 H1813.89 M1808.99,33.47 H1813.89 M1981.97,41.73 V84.13 M1979.52,41.73 H1984.42 M1979.52,84.13 H1984.42 M2153.27,-63.52 V-19.59 M2150.82,-63.52 H2155.72 M2150.82,-19.59 H2155.72 M2238.14,-12.42 V30.64 M2235.69,-12.42 H2240.59 M2235.69,30.64 H2240.59 M2323.02,-24.38 V18.68 M2320.57,-24.38 H2325.47 M2320.57,18.68 H2325.47 M2495.09,8.02 V50.43 M2492.64,8.02 H2497.54 M2492.64,50.43 H2497.54 M2667.93,-13.50 V29.55 M2665.48,-13.50 H2670.38 M2665.48,29.55 H2670.38 M3105.44,-67.00 V-22.64 M3102.99,-67.00 H3107.89 M3102.99,-22.64 H3107.89 M3540.62,-80.04 V-35.68 M3538.17,-80.04 H3543.07 M3538.17,-35.68 H3543.07 M3985.07,-100.92 V-55.25 M3982.62,-100.92 H3987.52 M3982.62,-55.25 H3987.52 M4431.84,-120.49 V-55.25 M4429.39,-120.49 H4434.29 M4429.39,-55.25 H4434.29 M4878.60,-171.15 V-105.92 M4876.15,-171.15 H4881.05 M4876.15,-105.92 H4881.05 M5332.31,-157.45 V-91.57 M5329.86,-157.45 H5334.76 M5329.86,-91.57 H5334.76 M5788.33,-258.57 V-190.72 M5785.88,-258.57 H5790.78 M5785.88,-190.72 H5790.78 M6248.98,-246.83 V-178.98 M6246.53,-246.83 H6251.43 M6246.53,-178.98 H6251.43 M6711.95,-199.20 V-131.36 M6709.50,-199.20 H6714.40 M6709.50,-131.36 H6714.40" stroke="#1f77b4" stroke-width="1.5" fill="none"/>
<g fill="#1f77b4" stroke="#000" stroke-width="1.3"><circle cx="132.70" cy="186.60" r="3.2"/><circle cx="215.40" cy="121.30" r="3.2"/><circle cx="256.50" cy="121.30" r="3.2"/><circle cx="298.00" cy="92.70" r="3.2"/><circle cx="339.50" cy="95.40" r="3.2"/><circle cx="422.10" cy="114.10" r="3.2"/><circle cx="463.90" cy="122.30" r="3.2"/><circle cx="505.40" cy="123.00" r="3.2"/><circle cx="546.90" cy="102.20" r="3.2"/><circle cx="588.40" cy="86.90" r="3.2"/><circle cx="630.20" cy="71.30" r="3.2"/><circle cx="672.00" cy="89.30" r="3.2"/><circle cx="713.60" cy="74.00" r="3.2"/><circle cx="755.50" cy="72.30" r="3.2"/><circle cx="797.40" cy="78.10" r="3.2"/><circle cx="839.20" cy="78.40" r="3.2"/><circle cx="881.00" cy="71.30" r="3.2"/><circle cx="922.80" cy="65.80" r="3.2"/><circle cx="964.70" cy="85.90" r="3.2"/><circle cx="1132.42" cy="43.47" r="3.2"/><circle cx="1302.18" cy="78.26" r="3.2"/><circle cx="1387.06" cy="-2.85" r="3.2"/><circle cx="1470.39" cy="70.00" r="3.2"/><circle cx="1640.14" cy="11.72" r="3.2"/><circle cx="1811.44" cy="11.50" r="3.2"/><circle cx="1981.97" cy="63.26" r="3.2"/><circle cx="2153.27" cy="-41.12" r="3.2"/><circle cx="2238.14" cy="9.55" r="3.2"/><circle cx="2323.02" cy="-2.85" r="3.2"/><circle cx="2495.09" cy="28.03" r="3.2"/><circle cx="2667.93" cy="8.02" r="3.2"/><circle cx="3105.44" cy="-44.82" r="3.2"/><circle cx="3540.62" cy="-58.51" r="3.2"/><circle cx="3985.07" cy="-78.09" r="3.2"/><circle cx="4431.84" cy="-87.87" r="3.2"/><circle cx="4878.60" cy="-138.54" r="3.2"/><circle cx="5332.31" cy="-124.18" r="3.2"/><circle cx="5788.33" cy="-224.65" r="3.2"/><circle cx="6248.98" cy="-212.90" r="3.2"/><circle cx="6711.95" cy="-165.28" r="3.2"/></g>
<path d="M132.80,155.50 V175.50 M130.35,155.50 H135.25 M130.35,175.50 H135.25" stroke="#7f7f7f" stroke-width="1.5" fill="none"/>
<circle cx="132.80" cy="165.40" r="3.2" fill="#7f7f7f" stroke="#000" stroke-width="1.3"/>
<path d="M132.80,465.10 L215.40,396.80 L256.50,391.30 L298.00,369.60 L339.50,371.30 L422.10,398.80 L463.90,405.60 L505.40,409.00 L546.90,386.60 L588.40,379.80 L630.20,361.10 L672.00,382.50 L713.60,361.10 L755.50,363.80 L797.40,378.10 L839.20,374.70 L881.00,373.30 L922.80,366.50 L964.70,395.80 L1132.42,355.29 L1302.18,402.26 L1387.06,322.24 L1470.39,398.78 L1640.14,346.16 L1811.44,344.85 L1981.97,410.74 L2153.27,312.67 L2238.14,371.16 L2323.02,358.12 L2495.09,391.17 L2667.93,378.99 L3105.44,338.55 L3540.62,332.68 L3985.07,322.24 L4429.52,317.02 L4878.60,293.10 L5332.31,314.63 L5788.33,231.13 L6248.98,244.17 L6711.95,306.80" stroke="#ff7f0e" stroke-width="1.35" stroke-dasharray="3.4 1.6" fill="none"/>
<path d="M132.80,458.00 V471.90 M130.35,458.00 H135.25 M130.35,471.90 H135.25 M215.40,366.50 V427.00 M212.95,366.50 H217.85 M212.95,427.00 H217.85 M256.50,381.50 V401.20 M254.05,381.50 H258.95 M254.05,401.20 H258.95 M298.00,359.40 V379.40 M295.55,359.40 H300.45 M295.55,379.40 H300.45 M339.50,361.10 V381.50 M337.05,361.10 H341.95 M337.05,381.50 H341.95 M422.10,376.70 V420.60 M419.65,376.70 H424.55 M419.65,420.60 H424.55 M463.90,384.20 V427.00 M461.45,384.20 H466.35 M461.45,427.00 H466.35 M505.40,396.80 V421.30 M502.95,396.80 H507.85 M502.95,421.30 H507.85 M546.90,364.80 V408.30 M544.45,364.80 H549.35 M544.45,408.30 H549.35 M588.40,369.60 V390.30 M585.95,369.60 H590.85 M585.95,390.30 H590.85 M630.20,349.50 V373.30 M627.75,349.50 H632.65 M627.75,373.30 H632.65 M672.00,372.00 V393.00 M669.55,372.00 H674.45 M669.55,393.00 H674.45 M713.60,348.80 V373.30 M711.15,348.80 H716.05 M711.15,373.30 H716.05 M755.50,349.50 V378.10 M753.05,349.50 H757.95 M753.05,378.10 H757.95 M797.40,367.20 V389.00 M794.95,367.20 H799.85 M794.95,389.00 H799.85 M839.20,363.80 V385.90 M836.75,363.80 H841.65 M836.75,385.90 H841.65 M881.00,362.40 V384.20 M878.55,362.40 H883.45 M878.55,384.20 H883.45 M922.80,356.30 V376.70 M920.35,356.30 H925.25 M920.35,376.70 H925.25 M964.70,373.70 V418.50 M962.25,373.70 H967.15 M962.25,418.50 H967.15 M1132.42,332.46 V377.25 M1129.97,332.46 H1134.87 M1129.97,377.25 H1134.87 M1302.18,380.30 V424.22 M1299.73,380.30 H1304.63 M1299.73,424.22 H1304.63 M1387.06,300.71 V343.77 M1384.61,300.71 H1389.51 M1384.61,343.77 H1389.51 M1470.39,377.25 V421.83 M1467.94,377.25 H1472.84 M1467.94,421.83 H1472.84 M1640.14,322.89 V369.64 M1637.69,322.89 H1642.59 M1637.69,369.64 H1642.59 M1811.44,322.24 V366.81 M1808.99,322.24 H1813.89 M1808.99,366.81 H1813.89 M1981.97,389.86 V433.79 M1979.52,389.86 H1984.42 M1979.52,433.79 H1984.42 M2153.27,289.40 V334.20 M2150.82,289.40 H2155.72 M2150.82,334.20 H2155.72 M2238.14,348.55 V393.56 M2235.69,348.55 H2240.59 M2235.69,393.56 H2240.59 M2323.02,334.85 V380.30 M2320.57,334.85 H2325.47 M2320.57,380.30 H2325.47 M2495.09,368.12 V414.44 M2492.64,368.12 H2497.54 M2492.64,414.44 H2497.54 M2667.93,356.16 V402.48 M2665.48,356.16 H2670.38 M2665.48,402.48 H2670.38 M3105.44,315.71 V362.03 M3102.99,315.71 H3107.89 M3102.99,362.03 H3107.89 M3540.62,309.84 V355.51 M3538.17,309.84 H3543.07 M3538.17,355.51 H3543.07 M3985.07,298.75 V347.03 M3982.62,298.75 H3987.52 M3982.62,347.03 H3987.52 M4429.52,283.75 V350.29 M4427.07,283.75 H4431.97 M4427.07,350.29 H4431.97 M4878.60,259.83 V326.37 M4876.15,259.83 H4881.05 M4876.15,326.37 H4881.05 M5332.31,278.75 V350.51 M5329.86,278.75 H5334.76 M5329.86,350.51 H5334.76 M5788.33,195.90 V265.70 M5785.88,195.90 H5790.78 M5785.88,265.70 H5790.78 M6248.98,209.60 V279.40 M6246.53,209.60 H6251.43 M6246.53,279.40 H6251.43 M6711.95,272.88 V340.72 M6709.50,272.88 H6714.40 M6709.50,340.72 H6714.40" stroke="#ff7f0e" stroke-width="1.5" fill="none"/>
<g fill="#ff7f0e" stroke="#000" stroke-width="1.3"><circle cx="132.80" cy="465.10" r="3.2"/><circle cx="215.40" cy="396.80" r="3.2"/><circle cx="256.50" cy="391.30" r="3.2"/><circle cx="298.00" cy="369.60" r="3.2"/><circle cx="339.50" cy="371.30" r="3.2"/><circle cx="422.10" cy="398.80" r="3.2"/><circle cx="463.90" cy="405.60" r="3.2"/><circle cx="505.40" cy="409.00" r="3.2"/><circle cx="546.90" cy="386.60" r="3.2"/><circle cx="588.40" cy="379.80" r="3.2"/><circle cx="630.20" cy="361.10" r="3.2"/><circle cx="672.00" cy="382.50" r="3.2"/><circle cx="713.60" cy="361.10" r="3.2"/><circle cx="755.50" cy="363.80" r="3.2"/><circle cx="797.40" cy="378.10" r="3.2"/><circle cx="839.20" cy="374.70" r="3.2"/><circle cx="881.00" cy="373.30" r="3.2"/><circle cx="922.80" cy="366.50" r="3.2"/><circle cx="964.70" cy="395.80" r="3.2"/><circle cx="1132.42" cy="355.29" r="3.2"/><circle cx="1302.18" cy="402.26" r="3.2"/><circle cx="1387.06" cy="322.24" r="3.2"/><circle cx="1470.39" cy="398.78" r="3.2"/><circle cx="1640.14" cy="346.16" r="3.2"/><circle cx="1811.44" cy="344.85" r="3.2"/><circle cx="1981.97" cy="410.74" r="3.2"/><circle cx="2153.27" cy="312.67" r="3.2"/><circle cx="2238.14" cy="371.16" r="3.2"/><circle cx="2323.02" cy="358.12" r="3.2"/><circle cx="2495.09" cy="391.17" r="3.2"/><circle cx="2667.93" cy="378.99" r="3.2"/><circle cx="3105.44" cy="338.55" r="3.2"/><circle cx="3540.62" cy="332.68" r="3.2"/><circle cx="3985.07" cy="322.24" r="3.2"/><circle cx="4429.52" cy="317.02" r="3.2"/><circle cx="4878.60" cy="293.10" r="3.2"/><circle cx="5332.31" cy="314.63" r="3.2"/><circle cx="5788.33" cy="231.13" r="3.2"/><circle cx="6248.98" cy="244.17" r="3.2"/><circle cx="6711.95" cy="306.80" r="3.2"/></g>
<path d="M132.80,433.80 V453.60 M130.35,433.80 H135.25 M130.35,453.60 H135.25" stroke="#000" stroke-width="1.5" fill="none"/>
<circle cx="132.80" cy="443.70" r="3.2" fill="#000" stroke="#000" stroke-width="1.3"/>
</g>
<rect x="116.30" y="43.45" width="861.30" height="454.95" fill="none" stroke="#000" stroke-width="2.8"/>
<path d="M132.80,498.40 V508.90 M298.55,498.40 V508.90 M464.30,498.40 V508.90 M630.05,498.40 V508.90 M795.80,498.40 V508.90 M961.55,498.40 V508.90 M105.50,459.10 H116.30 M105.50,360.15 H116.30 M105.50,261.20 H116.30 M105.50,162.25 H116.30 M105.50,63.30 H116.30" stroke="#000" stroke-width="2.7" fill="none"/>
<text x="109.79" y="537.90" font-size="26.30" font-style="normal" fill="#000">0.00</text>
<text x="275.83" y="537.90" font-size="26.30" font-style="normal" fill="#000">0.01</text>
<text x="441.51" y="537.90" font-size="26.30" font-style="normal" fill="#000">0.02</text>
<text x="607.05" y="537.90" font-size="26.30" font-style="normal" fill="#000">0.03</text>
<text x="772.49" y="537.90" font-size="26.30" font-style="normal" fill="#000">0.04</text>
<text x="938.55" y="537.90" font-size="26.30" font-style="normal" fill="#000">0.05</text>
<text x="49.28" y="468.00" font-size="26.30" font-style="normal" fill="#000">1.10</text>
<text x="49.30" y="369.05" font-size="26.30" font-style="normal" fill="#000">1.15</text>
<text x="49.28" y="270.10" font-size="26.30" font-style="normal" fill="#000">1.20</text>
<text x="49.30" y="171.15" font-size="26.30" font-style="normal" fill="#000">1.25</text>
<text x="49.28" y="72.20" font-size="26.30" font-style="normal" fill="#000">1.30</text>
<defs><clipPath id="clipb"><rect x="116.30" y="612.40" width="861.30" height="455.05"/></clipPath></defs>
<path d="M118.35,612.40 V1067.45 M225.75,612.40 V1067.45 M333.16,612.40 V1067.45 M440.57,612.40 V1067.45 M547.97,612.40 V1067.45 M655.38,612.40 V1067.45 M762.78,612.40 V1067.45 M870.19,612.40 V1067.45 M977.59,612.40 V1067.45 M116.30,1067.45 H977.60 M116.30,976.44 H977.60 M116.30,885.43 H977.60 M116.30,794.42 H977.60 M116.30,703.41 H977.60 M116.30,612.40 H977.60" stroke="#f6f6f6" stroke-width="1.8" fill="none" clip-path="url(#clipb)"/>
<g clip-path="url(#clipb)">
<path d="M118.35,841.38 L119.42,839.94 L120.50,838.56 L121.57,837.22 L122.65,835.92 L123.72,834.66 L124.79,833.45 L125.87,832.28 L126.94,831.14 L128.02,830.04 L129.09,828.98 L130.16,827.96 L131.24,826.97 L132.31,826.01 L133.39,825.08 L134.46,824.18 L135.53,823.31 L136.61,822.47 L137.68,821.66 L138.76,820.88 L139.83,820.12 L140.91,819.38 L141.98,818.67 L143.05,817.98 L144.13,817.32 L145.20,816.67 L146.28,816.05 L147.35,815.45 L148.42,814.86 L149.50,814.30 L150.57,813.75 L151.65,813.22 L152.72,812.71 L153.79,812.21 L154.87,811.73 L155.94,811.26 L157.02,810.81 L158.09,810.37 L159.16,809.95 L160.24,809.54 L161.31,809.14 L162.39,808.75 L163.46,808.37 L164.53,808.01 L165.61,807.65 L166.68,807.31 L167.76,806.98 L168.83,806.65 L169.90,806.34 L170.98,806.03 L172.05,805.73 L173.13,805.45 L174.20,805.16 L175.27,804.89 L176.35,804.62 L177.42,804.37 L178.50,804.11 L179.57,803.87 L180.64,803.63 L181.72,803.39 L182.79,803.17 L183.87,802.94 L184.94,802.73 L186.02,802.52 L187.09,802.31 L188.16,802.11 L189.24,801.91 L190.31,801.72 L191.39,801.53 L192.46,801.34 L193.53,801.16 L194.61,800.99 L195.68,800.81 L196.76,800.64 L197.83,800.48 L198.90,800.31 L199.98,800.15 L201.05,799.99 L202.13,799.84 L203.20,799.69 L204.27,799.54 L205.35,799.39 L206.42,799.24 L207.50,799.10 L208.57,798.96 L209.64,798.82 L210.72,798.68 L211.79,798.55 L212.87,798.42 L213.94,798.28 L215.01,798.15 L216.09,798.03 L217.16,797.90 L218.24,797.77 L219.31,797.65 L220.38,797.52 L221.46,797.40 L222.53,797.28 L223.61,797.16 L224.68,797.04 L225.75,796.92 L226.83,796.80 L227.90,796.69 L228.98,796.57 L230.05,796.45 L231.13,796.34 L232.20,796.22 L233.27,796.11 L234.35,796.00 L235.42,795.88 L236.50,795.77 L237.57,795.66 L238.64,795.55 L239.72,795.43 L240.79,795.32 L241.87,795.21 L242.94,795.10 L244.01,794.99 L245.09,794.88 L246.16,794.77 L247.24,794.66 L248.31,794.54 L251.97,794.16 L255.64,793.78 L259.30,793.40 L262.97,793.01 L266.63,792.62 L270.30,792.22 L273.96,791.82 L277.63,791.41 L281.29,791.00 L284.96,790.57 L288.62,790.14 L292.29,789.70 L295.95,789.26 L299.62,788.80 L303.28,788.34 L306.95,787.87 L310.61,787.39 L314.28,786.90 L317.94,786.40 L321.60,785.89 L325.27,785.37 L328.93,784.84 L332.60,784.31 L336.26,783.76 L339.93,783.21 L343.59,782.64 L347.26,782.07 L350.92,781.48 L354.59,780.89 L358.25,780.29 L361.92,779.68 L365.58,779.07 L369.25,778.44 L372.91,777.81 L376.58,777.16 L380.24,776.51 L383.90,775.85 L387.57,775.19 L391.23,774.52 L394.90,773.83 L398.56,773.15 L402.23,772.45 L405.89,771.75 L409.56,771.04 L413.22,770.33 L416.89,769.61 L420.55,768.88 L424.22,768.15 L427.88,767.42 L431.55,766.67 L435.21,765.93 L438.88,765.17 L442.54,764.42 L446.21,763.65 L449.87,762.89 L453.53,762.12 L457.20,761.34 L460.86,760.56 L464.53,759.78 L468.19,759.00 L471.86,758.21 L475.52,757.41 L479.19,756.62 L482.85,755.82 L486.52,755.02 L490.18,754.21 L493.85,753.40 L497.51,752.60 L501.18,751.78 L504.84,750.97 L508.51,750.15 L512.17,749.33 L515.83,748.51 L519.50,747.69 L523.16,746.87 L526.83,746.04 L530.49,745.21 L534.16,744.38 L537.82,743.55 L541.49,742.72 L545.15,741.89 L548.82,741.05 L552.48,740.22 L556.15,739.38 L559.81,738.54 L563.48,737.71 L567.14,736.87 L570.81,736.03 L574.47,735.19 L578.14,734.34 L581.80,733.50 L585.46,732.66 L589.13,731.82 L592.79,730.97 L596.46,730.13 L600.12,729.28 L603.79,728.44 L607.45,727.59 L611.12,726.74 L614.78,725.90 L618.45,725.05 L622.11,724.20 L625.78,723.35 L629.44,722.50 L633.11,721.66 L636.77,720.81 L640.44,719.96 L644.10,719.11 L647.76,718.26 L651.43,717.41 L655.09,716.56 L658.76,715.71 L662.42,714.86 L666.09,714.01 L669.75,713.16 L673.42,712.31 L677.08,711.46 L680.75,710.61 L684.41,709.76 L688.08,708.91 L691.74,708.05 L695.41,707.20 L699.07,706.35 L702.74,705.50 L706.40,704.65 L710.07,703.80 L713.73,702.95 L717.39,702.09 L721.06,701.24 L724.72,700.39 L728.39,699.54 L732.05,698.69 L735.72,697.84 L739.38,696.99 L743.05,696.13 L746.71,695.28 L750.38,694.43 L754.04,693.58 L757.71,692.73 L761.37,691.87 L765.04,691.02 L768.70,690.17 L772.37,689.32 L776.03,688.47 L779.69,687.61 L783.36,686.76 L787.02,685.91 L790.69,685.06 L794.35,684.21 L798.02,683.36 L801.68,682.50 L805.35,681.65 L809.01,680.80 L812.68,679.95 L816.34,679.10 L820.01,678.24 L823.67,677.39 L827.34,676.54 L831.00,675.69 L834.67,674.84 L838.33,673.98 L842.00,673.13 L845.66,672.28 L849.32,671.43 L852.99,670.58 L856.65,669.72 L860.32,668.87 L863.98,668.02 L867.65,667.17 L871.31,666.32 L874.98,665.46 L878.64,664.61 L882.31,663.76 L885.97,662.91 L889.64,662.05 L893.30,661.20 L896.97,660.35 L900.63,659.50 L904.30,658.65 L907.96,657.79 L911.62,656.94 L915.29,656.09 L918.95,655.24 L922.62,654.39 L926.28,653.53 L929.95,652.68 L933.61,651.83 L937.28,650.98 L940.94,650.13 L944.61,649.27 L948.27,648.42 L951.94,647.57 L955.60,646.72 L959.27,645.87 L962.93,645.01 L966.60,644.16 L970.26,643.31 L973.93,642.46 L977.59,641.61 L977.59,641.61 L973.93,642.46 L970.26,643.31 L966.60,644.16 L962.93,645.01 L959.27,645.87 L955.60,646.72 L951.94,647.57 L948.27,648.42 L944.61,649.27 L940.94,650.13 L937.28,650.98 L933.61,651.83 L929.95,652.68 L926.28,653.53 L922.62,654.39 L918.95,655.24 L915.29,656.09 L911.62,656.94 L907.96,657.79 L904.30,658.65 L900.63,659.50 L896.97,660.35 L893.30,661.20 L889.64,662.05 L885.97,662.91 L882.31,663.76 L878.64,664.61 L874.98,665.46 L871.31,666.32 L867.65,667.17 L863.98,668.02 L860.32,668.87 L856.65,669.72 L852.99,670.58 L849.32,671.43 L845.66,672.28 L842.00,673.13 L838.33,673.98 L834.67,674.84 L831.00,675.69 L827.34,676.54 L823.67,677.39 L820.01,678.24 L816.34,679.10 L812.68,679.95 L809.01,680.80 L805.35,681.65 L801.68,682.50 L798.02,683.36 L794.35,684.21 L790.69,685.06 L787.02,685.91 L783.36,686.76 L779.69,687.62 L776.03,688.47 L772.37,689.32 L768.70,690.17 L765.04,691.02 L761.37,691.88 L757.71,692.73 L754.04,693.58 L750.38,694.43 L746.71,695.28 L743.05,696.14 L739.38,696.99 L735.72,697.84 L732.05,698.69 L728.39,699.54 L724.72,700.40 L721.06,701.25 L717.39,702.10 L713.73,702.95 L710.07,703.80 L706.40,704.66 L702.74,705.51 L699.07,706.36 L695.41,707.21 L691.74,708.06 L688.08,708.92 L684.41,709.77 L680.75,710.62 L677.08,711.47 L673.42,712.32 L669.75,713.18 L666.09,714.03 L662.42,714.88 L658.76,715.73 L655.09,716.58 L651.43,717.44 L647.76,718.29 L644.10,719.14 L640.44,719.99 L636.77,720.85 L633.11,721.70 L629.44,722.55 L625.78,723.40 L622.11,724.25 L618.45,725.11 L614.78,725.96 L611.12,726.81 L607.45,727.66 L603.79,728.51 L600.12,729.37 L596.46,730.22 L592.79,731.07 L589.13,731.92 L585.46,732.77 L581.80,733.63 L578.14,734.48 L574.47,735.33 L570.81,736.18 L567.14,737.03 L563.48,737.89 L559.81,738.74 L556.15,739.59 L552.48,740.44 L548.82,741.29 L545.15,742.15 L541.49,743.00 L537.82,743.85 L534.16,744.70 L530.49,745.55 L526.83,746.41 L523.16,747.26 L519.50,748.11 L515.83,748.96 L512.17,749.81 L508.51,750.67 L504.84,751.52 L501.18,752.37 L497.51,753.22 L493.85,754.07 L490.18,754.93 L486.52,755.78 L482.85,756.63 L479.19,757.48 L475.52,758.33 L471.86,759.19 L468.19,760.04 L464.53,760.89 L460.86,761.74 L457.20,762.59 L453.53,763.45 L449.87,764.30 L446.21,765.15 L442.54,766.00 L438.88,766.85 L435.21,767.71 L431.55,768.56 L427.88,769.41 L424.22,770.26 L420.55,771.12 L416.89,771.97 L413.22,772.82 L409.56,773.67 L405.89,774.52 L402.23,775.38 L398.56,776.23 L394.90,777.08 L391.23,777.93 L387.57,778.78 L383.90,779.64 L380.24,780.49 L376.58,781.34 L372.91,782.19 L369.25,783.04 L365.58,783.90 L361.92,784.75 L358.25,785.60 L354.59,786.45 L350.92,787.30 L347.26,788.16 L343.59,789.01 L339.93,789.86 L336.26,790.71 L332.60,791.56 L328.93,792.42 L325.27,793.27 L321.60,794.12 L317.94,794.97 L314.28,795.82 L310.61,796.68 L306.95,797.53 L303.28,798.38 L299.62,799.23 L295.95,800.08 L292.29,800.94 L288.62,801.79 L284.96,802.64 L281.29,803.49 L277.63,804.34 L273.96,805.20 L270.30,806.05 L266.63,806.90 L262.97,807.75 L259.30,808.60 L255.64,809.46 L251.97,810.31 L248.31,811.16 L247.24,811.41 L246.16,811.66 L245.09,811.91 L244.01,812.16 L242.94,812.41 L241.87,812.66 L240.79,812.91 L239.72,813.16 L238.64,813.41 L237.57,813.66 L236.50,813.91 L235.42,814.16 L234.35,814.41 L233.27,814.66 L232.20,814.91 L231.13,815.16 L230.05,815.41 L228.98,815.66 L227.90,815.91 L226.83,816.15 L225.75,816.40 L224.68,816.65 L223.61,816.90 L222.53,817.15 L221.46,817.40 L220.38,817.65 L219.31,817.90 L218.24,818.15 L217.16,818.40 L216.09,818.65 L215.01,818.90 L213.94,819.15 L212.87,819.40 L211.79,819.65 L210.72,819.90 L209.64,820.15 L208.57,820.40 L207.50,820.65 L206.42,820.90 L205.35,821.15 L204.27,821.40 L203.20,821.65 L202.13,821.90 L201.05,822.15 L199.98,822.40 L198.90,822.65 L197.83,822.90 L196.76,823.15 L195.68,823.40 L194.61,823.65 L193.53,823.90 L192.46,824.15 L191.39,824.40 L190.31,824.65 L189.24,824.89 L188.16,825.14 L187.09,825.39 L186.02,825.64 L184.94,825.89 L183.87,826.14 L182.79,826.39 L181.72,826.64 L180.64,826.89 L179.57,827.14 L178.50,827.39 L177.42,827.64 L176.35,827.89 L175.27,828.14 L174.20,828.39 L173.13,828.64 L172.05,828.89 L170.98,829.14 L169.90,829.39 L168.83,829.64 L167.76,829.89 L166.68,830.14 L165.61,830.39 L164.53,830.64 L163.46,830.89 L162.39,831.14 L161.31,831.39 L160.24,831.64 L159.16,831.89 L158.09,832.14 L157.02,832.39 L155.94,832.64 L154.87,832.89 L153.79,833.14 L152.72,833.38 L151.65,833.63 L150.57,833.88 L149.50,834.13 L148.42,834.38 L147.35,834.63 L146.28,834.88 L145.20,835.13 L144.13,835.38 L143.05,835.63 L141.98,835.88 L140.91,836.13 L139.83,836.38 L138.76,836.63 L137.68,836.88 L136.61,837.13 L135.53,837.38 L134.46,837.63 L133.39,837.88 L132.31,838.13 L131.24,838.38 L130.16,838.63 L129.09,838.88 L128.02,839.13 L126.94,839.38 L125.87,839.63 L124.79,839.88 L123.72,840.13 L122.65,840.38 L121.57,840.63 L120.50,840.88 L119.42,841.13 L118.35,841.38 Z" fill="#d2e4f0" stroke="none"/>
<path d="M118.35,969.06 L119.42,967.30 L120.50,965.62 L121.57,964.03 L122.65,962.51 L123.72,961.06 L124.79,959.68 L125.87,958.37 L126.94,957.12 L128.02,955.93 L129.09,954.80 L130.16,953.73 L131.24,952.71 L132.31,951.74 L133.39,950.82 L134.46,949.95 L135.53,949.12 L136.61,948.33 L137.68,947.59 L138.76,946.88 L139.83,946.21 L140.91,945.58 L141.98,944.98 L143.05,944.42 L144.13,943.88 L145.20,943.38 L146.28,942.90 L147.35,942.45 L148.42,942.03 L149.50,941.63 L150.57,941.26 L151.65,940.91 L152.72,940.58 L153.79,940.27 L154.87,939.98 L155.94,939.71 L157.02,939.46 L158.09,939.23 L159.16,939.01 L160.24,938.81 L161.31,938.63 L162.39,938.46 L163.46,938.30 L164.53,938.16 L165.61,938.03 L166.68,937.91 L167.76,937.80 L168.83,937.71 L169.90,937.62 L170.98,937.55 L172.05,937.48 L173.13,937.42 L174.20,937.38 L175.27,937.34 L176.35,937.31 L177.42,937.28 L178.50,937.27 L179.57,937.26 L180.64,937.26 L181.72,937.26 L182.79,937.27 L183.87,937.29 L184.94,937.31 L186.02,937.34 L187.09,937.37 L188.16,937.40 L189.24,937.45 L190.31,937.49 L191.39,937.54 L192.46,937.59 L193.53,937.65 L194.61,937.71 L195.68,937.77 L196.76,937.84 L197.83,937.91 L198.90,937.98 L199.98,938.06 L201.05,938.13 L202.13,938.21 L203.20,938.30 L204.27,938.38 L205.35,938.46 L206.42,938.55 L207.50,938.64 L208.57,938.73 L209.64,938.82 L210.72,938.91 L211.79,939.01 L212.87,939.10 L213.94,939.20 L215.01,939.30 L216.09,939.39 L217.16,939.49 L218.24,939.59 L219.31,939.69 L220.38,939.79 L221.46,939.89 L222.53,939.99 L223.61,940.09 L224.68,940.19 L225.75,940.29 L226.83,940.39 L227.90,940.49 L228.98,940.59 L230.05,940.69 L231.13,940.79 L232.20,940.88 L233.27,940.98 L234.35,941.08 L235.42,941.18 L236.50,941.27 L237.57,941.37 L238.64,941.46 L239.72,941.56 L240.79,941.65 L241.87,941.74 L242.94,941.83 L244.01,941.92 L245.09,942.01 L246.16,942.10 L247.24,942.19 L248.31,942.27 L251.97,942.56 L255.64,942.82 L259.30,943.08 L262.97,943.31 L266.63,943.53 L270.30,943.73 L273.96,943.91 L277.63,944.07 L281.29,944.21 L284.96,944.33 L288.62,944.43 L292.29,944.51 L295.95,944.58 L299.62,944.62 L303.28,944.64 L306.95,944.64 L310.61,944.62 L314.28,944.58 L317.94,944.53 L321.60,944.45 L325.27,944.36 L328.93,944.26 L332.60,944.13 L336.26,944.00 L339.93,943.84 L343.59,943.67 L347.26,943.49 L350.92,943.30 L354.59,943.09 L358.25,942.87 L361.92,942.64 L365.58,942.40 L369.25,942.15 L372.91,941.89 L376.58,941.62 L380.24,941.34 L383.90,941.05 L387.57,940.76 L391.23,940.46 L394.90,940.15 L398.56,939.84 L402.23,939.52 L405.89,939.20 L409.56,938.87 L413.22,938.54 L416.89,938.21 L420.55,937.87 L424.22,937.52 L427.88,937.18 L431.55,936.83 L435.21,936.48 L438.88,936.12 L442.54,935.77 L446.21,935.41 L449.87,935.05 L453.53,934.69 L457.20,934.33 L460.86,933.96 L464.53,933.60 L468.19,933.23 L471.86,932.86 L475.52,932.50 L479.19,932.13 L482.85,931.76 L486.52,931.39 L490.18,931.02 L493.85,930.65 L497.51,930.28 L501.18,929.90 L504.84,929.53 L508.51,929.16 L512.17,928.79 L515.83,928.41 L519.50,928.04 L523.16,927.67 L526.83,927.29 L530.49,926.92 L534.16,926.54 L537.82,926.17 L541.49,925.80 L545.15,925.42 L548.82,925.05 L552.48,924.67 L556.15,924.30 L559.81,923.92 L563.48,923.55 L567.14,923.18 L570.81,922.80 L574.47,922.43 L578.14,922.05 L581.80,921.68 L585.46,921.30 L589.13,920.93 L592.79,920.55 L596.46,920.18 L600.12,919.80 L603.79,919.43 L607.45,919.06 L611.12,918.68 L614.78,918.31 L618.45,917.93 L622.11,917.56 L625.78,917.18 L629.44,916.81 L633.11,916.43 L636.77,916.06 L640.44,915.68 L644.10,915.31 L647.76,914.93 L651.43,914.56 L655.09,914.18 L658.76,913.81 L662.42,913.44 L666.09,913.06 L669.75,912.69 L673.42,912.31 L677.08,911.94 L680.75,911.56 L684.41,911.19 L688.08,910.81 L691.74,910.44 L695.41,910.06 L699.07,909.69 L702.74,909.31 L706.40,908.94 L710.07,908.56 L713.73,908.19 L717.39,907.82 L721.06,907.44 L724.72,907.07 L728.39,906.69 L732.05,906.32 L735.72,905.94 L739.38,905.57 L743.05,905.19 L746.71,904.82 L750.38,904.44 L754.04,904.07 L757.71,903.69 L761.37,903.32 L765.04,902.94 L768.70,902.57 L772.37,902.20 L776.03,901.82 L779.69,901.45 L783.36,901.07 L787.02,900.70 L790.69,900.32 L794.35,899.95 L798.02,899.57 L801.68,899.20 L805.35,898.82 L809.01,898.45 L812.68,898.07 L816.34,897.70 L820.01,897.32 L823.67,896.95 L827.34,896.58 L831.00,896.20 L834.67,895.83 L838.33,895.45 L842.00,895.08 L845.66,894.70 L849.32,894.33 L852.99,893.95 L856.65,893.58 L860.32,893.20 L863.98,892.83 L867.65,892.45 L871.31,892.08 L874.98,891.70 L878.64,891.33 L882.31,890.95 L885.97,890.58 L889.64,890.21 L893.30,889.83 L896.97,889.46 L900.63,889.08 L904.30,888.71 L907.96,888.33 L911.62,887.96 L915.29,887.58 L918.95,887.21 L922.62,886.83 L926.28,886.46 L929.95,886.08 L933.61,885.71 L937.28,885.33 L940.94,884.96 L944.61,884.59 L948.27,884.21 L951.94,883.84 L955.60,883.46 L959.27,883.09 L962.93,882.71 L966.60,882.34 L970.26,881.96 L973.93,881.59 L977.59,881.21 L977.59,881.21 L973.93,881.59 L970.26,881.96 L966.60,882.34 L962.93,882.71 L959.27,883.09 L955.60,883.46 L951.94,883.84 L948.27,884.21 L944.61,884.59 L940.94,884.96 L937.28,885.33 L933.61,885.71 L929.95,886.08 L926.28,886.46 L922.62,886.83 L918.95,887.21 L915.29,887.58 L911.62,887.96 L907.96,888.33 L904.30,888.71 L900.63,889.08 L896.97,889.46 L893.30,889.83 L889.64,890.21 L885.97,890.58 L882.31,890.95 L878.64,891.33 L874.98,891.70 L871.31,892.08 L867.65,892.45 L863.98,892.83 L860.32,893.20 L856.65,893.58 L852.99,893.95 L849.32,894.33 L845.66,894.70 L842.00,895.08 L838.33,895.45 L834.67,895.83 L831.00,896.20 L827.34,896.58 L823.67,896.95 L820.01,897.32 L816.34,897.70 L812.68,898.07 L809.01,898.45 L805.35,898.82 L801.68,899.20 L798.02,899.57 L794.35,899.95 L790.69,900.32 L787.02,900.70 L783.36,901.07 L779.69,901.45 L776.03,901.82 L772.37,902.20 L768.70,902.57 L765.04,902.94 L761.37,903.32 L757.71,903.69 L754.04,904.07 L750.38,904.44 L746.71,904.82 L743.05,905.19 L739.38,905.57 L735.72,905.94 L732.05,906.32 L728.39,906.69 L724.72,907.07 L721.06,907.44 L717.39,907.82 L713.73,908.19 L710.07,908.56 L706.40,908.94 L702.74,909.31 L699.07,909.69 L695.41,910.06 L691.74,910.44 L688.08,910.81 L684.41,911.19 L680.75,911.56 L677.08,911.94 L673.42,912.31 L669.75,912.69 L666.09,913.06 L662.42,913.44 L658.76,913.81 L655.09,914.18 L651.43,914.56 L647.76,914.93 L644.10,915.31 L640.44,915.68 L636.77,916.06 L633.11,916.43 L629.44,916.81 L625.78,917.18 L622.11,917.56 L618.45,917.93 L614.78,918.31 L611.12,918.68 L607.45,919.06 L603.79,919.43 L600.12,919.81 L596.46,920.18 L592.79,920.55 L589.13,920.93 L585.46,921.30 L581.80,921.68 L578.14,922.05 L574.47,922.43 L570.81,922.80 L567.14,923.18 L563.48,923.55 L559.81,923.93 L556.15,924.30 L552.48,924.68 L548.82,925.05 L545.15,925.43 L541.49,925.80 L537.82,926.17 L534.16,926.55 L530.49,926.92 L526.83,927.30 L523.16,927.67 L519.50,928.05 L515.83,928.42 L512.17,928.80 L508.51,929.17 L504.84,929.55 L501.18,929.92 L497.51,930.30 L493.85,930.67 L490.18,931.05 L486.52,931.42 L482.85,931.79 L479.19,932.17 L475.52,932.54 L471.86,932.92 L468.19,933.29 L464.53,933.67 L460.86,934.04 L457.20,934.42 L453.53,934.79 L449.87,935.17 L446.21,935.54 L442.54,935.92 L438.88,936.29 L435.21,936.67 L431.55,937.04 L427.88,937.42 L424.22,937.79 L420.55,938.16 L416.89,938.54 L413.22,938.91 L409.56,939.29 L405.89,939.66 L402.23,940.04 L398.56,940.41 L394.90,940.79 L391.23,941.16 L387.57,941.54 L383.90,941.91 L380.24,942.29 L376.58,942.66 L372.91,943.04 L369.25,943.41 L365.58,943.78 L361.92,944.16 L358.25,944.53 L354.59,944.91 L350.92,945.28 L347.26,945.66 L343.59,946.03 L339.93,946.41 L336.26,946.78 L332.60,947.16 L328.93,947.53 L325.27,947.91 L321.60,948.28 L317.94,948.66 L314.28,949.03 L310.61,949.40 L306.95,949.78 L303.28,950.15 L299.62,950.53 L295.95,950.90 L292.29,951.28 L288.62,951.65 L284.96,952.03 L281.29,952.40 L277.63,952.78 L273.96,953.15 L270.30,953.53 L266.63,953.90 L262.97,954.28 L259.30,954.65 L255.64,955.02 L251.97,955.40 L248.31,955.77 L247.24,955.88 L246.16,955.99 L245.09,956.10 L244.01,956.21 L242.94,956.32 L241.87,956.43 L240.79,956.54 L239.72,956.65 L238.64,956.76 L237.57,956.87 L236.50,956.98 L235.42,957.09 L234.35,957.20 L233.27,957.31 L232.20,957.42 L231.13,957.53 L230.05,957.64 L228.98,957.75 L227.90,957.86 L226.83,957.97 L225.75,958.08 L224.68,958.19 L223.61,958.30 L222.53,958.41 L221.46,958.52 L220.38,958.63 L219.31,958.74 L218.24,958.85 L217.16,958.96 L216.09,959.07 L215.01,959.18 L213.94,959.29 L212.87,959.40 L211.79,959.51 L210.72,959.62 L209.64,959.73 L208.57,959.84 L207.50,959.95 L206.42,960.06 L205.35,960.17 L204.27,960.28 L203.20,960.39 L202.13,960.50 L201.05,960.61 L199.98,960.72 L198.90,960.83 L197.83,960.94 L196.76,961.05 L195.68,961.15 L194.61,961.26 L193.53,961.37 L192.46,961.48 L191.39,961.59 L190.31,961.70 L189.24,961.81 L188.16,961.92 L187.09,962.03 L186.02,962.14 L184.94,962.25 L183.87,962.36 L182.79,962.47 L181.72,962.58 L180.64,962.69 L179.57,962.80 L178.50,962.91 L177.42,963.02 L176.35,963.13 L175.27,963.24 L174.20,963.35 L173.13,963.46 L172.05,963.57 L170.98,963.68 L169.90,963.79 L168.83,963.90 L167.76,964.01 L166.68,964.12 L165.61,964.23 L164.53,964.34 L163.46,964.45 L162.39,964.56 L161.31,964.67 L160.24,964.78 L159.16,964.89 L158.09,965.00 L157.02,965.11 L155.94,965.22 L154.87,965.33 L153.79,965.44 L152.72,965.55 L151.65,965.66 L150.57,965.77 L149.50,965.88 L148.42,965.99 L147.35,966.10 L146.28,966.21 L145.20,966.32 L144.13,966.43 L143.05,966.54 L141.98,966.65 L140.91,966.76 L139.83,966.87 L138.76,966.97 L137.68,967.08 L136.61,967.19 L135.53,967.30 L134.46,967.41 L133.39,967.52 L132.31,967.63 L131.24,967.74 L130.16,967.85 L129.09,967.96 L128.02,968.07 L126.94,968.18 L125.87,968.29 L124.79,968.40 L123.72,968.51 L122.65,968.62 L121.57,968.73 L120.50,968.84 L119.42,968.95 L118.35,969.06 Z" fill="#ffe5cf" stroke="none"/>
<path d="M118.35,841.38 L977.59,641.61" stroke="#1a1a1a" stroke-width="1.4" stroke-dasharray="3.7 2.0" fill="none"/>
<path d="M118.35,841.38 L119.42,839.94 L120.50,838.56 L121.57,837.22 L122.65,835.92 L123.72,834.66 L124.79,833.45 L125.87,832.28 L126.94,831.14 L128.02,830.04 L129.09,828.98 L130.16,827.96 L131.24,826.97 L132.31,826.01 L133.39,825.08 L134.46,824.18 L135.53,823.31 L136.61,822.47 L137.68,821.66 L138.76,820.88 L139.83,820.12 L140.91,819.38 L141.98,818.67 L143.05,817.98 L144.13,817.32 L145.20,816.67 L146.28,816.05 L147.35,815.45 L148.42,814.86 L149.50,814.30 L150.57,813.75 L151.65,813.22 L152.72,812.71 L153.79,812.21 L154.87,811.73 L155.94,811.26 L157.02,810.81 L158.09,810.37 L159.16,809.95 L160.24,809.54 L161.31,809.14 L162.39,808.75 L163.46,808.37 L164.53,808.01 L165.61,807.65 L166.68,807.31 L167.76,806.98 L168.83,806.65 L169.90,806.34 L170.98,806.03 L172.05,805.73 L173.13,805.45 L174.20,805.16 L175.27,804.89 L176.35,804.62 L177.42,804.37 L178.50,804.11 L179.57,803.87 L180.64,803.63 L181.72,803.39 L182.79,803.17 L183.87,802.94 L184.94,802.73 L186.02,802.52 L187.09,802.31 L188.16,802.11 L189.24,801.91 L190.31,801.72 L191.39,801.53 L192.46,801.34 L193.53,801.16 L194.61,800.99 L195.68,800.81 L196.76,800.64 L197.83,800.48 L198.90,800.31 L199.98,800.15 L201.05,799.99 L202.13,799.84 L203.20,799.69 L204.27,799.54 L205.35,799.39 L206.42,799.24 L207.50,799.10 L208.57,798.96 L209.64,798.82 L210.72,798.68 L211.79,798.55 L212.87,798.42 L213.94,798.28 L215.01,798.15 L216.09,798.03 L217.16,797.90 L218.24,797.77 L219.31,797.65 L220.38,797.52 L221.46,797.40 L222.53,797.28 L223.61,797.16 L224.68,797.04 L225.75,796.92 L226.83,796.80 L227.90,796.69 L228.98,796.57 L230.05,796.45 L231.13,796.34 L232.20,796.22 L233.27,796.11 L234.35,796.00 L235.42,795.88 L236.50,795.77 L237.57,795.66 L238.64,795.55 L239.72,795.43 L240.79,795.32 L241.87,795.21 L242.94,795.10 L244.01,794.99 L245.09,794.88 L246.16,794.77 L247.24,794.66 L248.31,794.54 L251.97,794.16 L255.64,793.78 L259.30,793.40 L262.97,793.01 L266.63,792.62 L270.30,792.22 L273.96,791.82 L277.63,791.41 L281.29,791.00 L284.96,790.57 L288.62,790.14 L292.29,789.70 L295.95,789.26 L299.62,788.80 L303.28,788.34 L306.95,787.87 L310.61,787.39 L314.28,786.90 L317.94,786.40 L321.60,785.89 L325.27,785.37 L328.93,784.84 L332.60,784.31 L336.26,783.76 L339.93,783.21 L343.59,782.64 L347.26,782.07 L350.92,781.48 L354.59,780.89 L358.25,780.29 L361.92,779.68 L365.58,779.07 L369.25,778.44 L372.91,777.81 L376.58,777.16 L380.24,776.51 L383.90,775.85 L387.57,775.19 L391.23,774.52 L394.90,773.83 L398.56,773.15 L402.23,772.45 L405.89,771.75 L409.56,771.04 L413.22,770.33 L416.89,769.61 L420.55,768.88 L424.22,768.15 L427.88,767.42 L431.55,766.67 L435.21,765.93 L438.88,765.17 L442.54,764.42 L446.21,763.65 L449.87,762.89 L453.53,762.12 L457.20,761.34 L460.86,760.56 L464.53,759.78 L468.19,759.00 L471.86,758.21 L475.52,757.41 L479.19,756.62 L482.85,755.82 L486.52,755.02 L490.18,754.21 L493.85,753.40 L497.51,752.60 L501.18,751.78 L504.84,750.97 L508.51,750.15 L512.17,749.33 L515.83,748.51 L519.50,747.69 L523.16,746.87 L526.83,746.04 L530.49,745.21 L534.16,744.38 L537.82,743.55 L541.49,742.72 L545.15,741.89 L548.82,741.05 L552.48,740.22 L556.15,739.38 L559.81,738.54 L563.48,737.71 L567.14,736.87 L570.81,736.03 L574.47,735.19 L578.14,734.34 L581.80,733.50 L585.46,732.66 L589.13,731.82 L592.79,730.97 L596.46,730.13 L600.12,729.28 L603.79,728.44 L607.45,727.59 L611.12,726.74 L614.78,725.90 L618.45,725.05 L622.11,724.20 L625.78,723.35 L629.44,722.50 L633.11,721.66 L636.77,720.81 L640.44,719.96 L644.10,719.11 L647.76,718.26 L651.43,717.41 L655.09,716.56 L658.76,715.71 L662.42,714.86 L666.09,714.01 L669.75,713.16 L673.42,712.31 L677.08,711.46 L680.75,710.61 L684.41,709.76 L688.08,708.91 L691.74,708.05 L695.41,707.20 L699.07,706.35 L702.74,705.50 L706.40,704.65 L710.07,703.80 L713.73,702.95 L717.39,702.09 L721.06,701.24 L724.72,700.39 L728.39,699.54 L732.05,698.69 L735.72,697.84 L739.38,696.99 L743.05,696.13 L746.71,695.28 L750.38,694.43 L754.04,693.58 L757.71,692.73 L761.37,691.87 L765.04,691.02 L768.70,690.17 L772.37,689.32 L776.03,688.47 L779.69,687.61 L783.36,686.76 L787.02,685.91 L790.69,685.06 L794.35,684.21 L798.02,683.36 L801.68,682.50 L805.35,681.65 L809.01,680.80 L812.68,679.95 L816.34,679.10 L820.01,678.24 L823.67,677.39 L827.34,676.54 L831.00,675.69 L834.67,674.84 L838.33,673.98 L842.00,673.13 L845.66,672.28 L849.32,671.43 L852.99,670.58 L856.65,669.72 L860.32,668.87 L863.98,668.02 L867.65,667.17 L871.31,666.32 L874.98,665.46 L878.64,664.61 L882.31,663.76 L885.97,662.91 L889.64,662.05 L893.30,661.20 L896.97,660.35 L900.63,659.50 L904.30,658.65 L907.96,657.79 L911.62,656.94 L915.29,656.09 L918.95,655.24 L922.62,654.39 L926.28,653.53 L929.95,652.68 L933.61,651.83 L937.28,650.98 L940.94,650.13 L944.61,649.27 L948.27,648.42 L951.94,647.57 L955.60,646.72 L959.27,645.87 L962.93,645.01 L966.60,644.16 L970.26,643.31 L973.93,642.46 L977.59,641.61" stroke="#000" stroke-width="1.4" fill="none" stroke-linejoin="round"/>
<path d="M118.35,969.06 L977.59,881.21" stroke="#1a1a1a" stroke-width="1.4" stroke-dasharray="3.7 2.0" fill="none"/>
<path d="M118.35,969.06 L119.42,967.30 L120.50,965.62 L121.57,964.03 L122.65,962.51 L123.72,961.06 L124.79,959.68 L125.87,958.37 L126.94,957.12 L128.02,955.93 L129.09,954.80 L130.16,953.73 L131.24,952.71 L132.31,951.74 L133.39,950.82 L134.46,949.95 L135.53,949.12 L136.61,948.33 L137.68,947.59 L138.76,946.88 L139.83,946.21 L140.91,945.58 L141.98,944.98 L143.05,944.42 L144.13,943.88 L145.20,943.38 L146.28,942.90 L147.35,942.45 L148.42,942.03 L149.50,941.63 L150.57,941.26 L151.65,940.91 L152.72,940.58 L153.79,940.27 L154.87,939.98 L155.94,939.71 L157.02,939.46 L158.09,939.23 L159.16,939.01 L160.24,938.81 L161.31,938.63 L162.39,938.46 L163.46,938.30 L164.53,938.16 L165.61,938.03 L166.68,937.91 L167.76,937.80 L168.83,937.71 L169.90,937.62 L170.98,937.55 L172.05,937.48 L173.13,937.42 L174.20,937.38 L175.27,937.34 L176.35,937.31 L177.42,937.28 L178.50,937.27 L179.57,937.26 L180.64,937.26 L181.72,937.26 L182.79,937.27 L183.87,937.29 L184.94,937.31 L186.02,937.34 L187.09,937.37 L188.16,937.40 L189.24,937.45 L190.31,937.49 L191.39,937.54 L192.46,937.59 L193.53,937.65 L194.61,937.71 L195.68,937.77 L196.76,937.84 L197.83,937.91 L198.90,937.98 L199.98,938.06 L201.05,938.13 L202.13,938.21 L203.20,938.30 L204.27,938.38 L205.35,938.46 L206.42,938.55 L207.50,938.64 L208.57,938.73 L209.64,938.82 L210.72,938.91 L211.79,939.01 L212.87,939.10 L213.94,939.20 L215.01,939.30 L216.09,939.39 L217.16,939.49 L218.24,939.59 L219.31,939.69 L220.38,939.79 L221.46,939.89 L222.53,939.99 L223.61,940.09 L224.68,940.19 L225.75,940.29 L226.83,940.39 L227.90,940.49 L228.98,940.59 L230.05,940.69 L231.13,940.79 L232.20,940.88 L233.27,940.98 L234.35,941.08 L235.42,941.18 L236.50,941.27 L237.57,941.37 L238.64,941.46 L239.72,941.56 L240.79,941.65 L241.87,941.74 L242.94,941.83 L244.01,941.92 L245.09,942.01 L246.16,942.10 L247.24,942.19 L248.31,942.27 L251.97,942.56 L255.64,942.82 L259.30,943.08 L262.97,943.31 L266.63,943.53 L270.30,943.73 L273.96,943.91 L277.63,944.07 L281.29,944.21 L284.96,944.33 L288.62,944.43 L292.29,944.51 L295.95,944.58 L299.62,944.62 L303.28,944.64 L306.95,944.64 L310.61,944.62 L314.28,944.58 L317.94,944.53 L321.60,944.45 L325.27,944.36 L328.93,944.26 L332.60,944.13 L336.26,944.00 L339.93,943.84 L343.59,943.67 L347.26,943.49 L350.92,943.30 L354.59,943.09 L358.25,942.87 L361.92,942.64 L365.58,942.40 L369.25,942.15 L372.91,941.89 L376.58,941.62 L380.24,941.34 L383.90,941.05 L387.57,940.76 L391.23,940.46 L394.90,940.15 L398.56,939.84 L402.23,939.52 L405.89,939.20 L409.56,938.87 L413.22,938.54 L416.89,938.21 L420.55,937.87 L424.22,937.52 L427.88,937.18 L431.55,936.83 L435.21,936.48 L438.88,936.12 L442.54,935.77 L446.21,935.41 L449.87,935.05 L453.53,934.69 L457.20,934.33 L460.86,933.96 L464.53,933.60 L468.19,933.23 L471.86,932.86 L475.52,932.50 L479.19,932.13 L482.85,931.76 L486.52,931.39 L490.18,931.02 L493.85,930.65 L497.51,930.28 L501.18,929.90 L504.84,929.53 L508.51,929.16 L512.17,928.79 L515.83,928.41 L519.50,928.04 L523.16,927.67 L526.83,927.29 L530.49,926.92 L534.16,926.54 L537.82,926.17 L541.49,925.80 L545.15,925.42 L548.82,925.05 L552.48,924.67 L556.15,924.30 L559.81,923.92 L563.48,923.55 L567.14,923.18 L570.81,922.80 L574.47,922.43 L578.14,922.05 L581.80,921.68 L585.46,921.30 L589.13,920.93 L592.79,920.55 L596.46,920.18 L600.12,919.80 L603.79,919.43 L607.45,919.06 L611.12,918.68 L614.78,918.31 L618.45,917.93 L622.11,917.56 L625.78,917.18 L629.44,916.81 L633.11,916.43 L636.77,916.06 L640.44,915.68 L644.10,915.31 L647.76,914.93 L651.43,914.56 L655.09,914.18 L658.76,913.81 L662.42,913.44 L666.09,913.06 L669.75,912.69 L673.42,912.31 L677.08,911.94 L680.75,911.56 L684.41,911.19 L688.08,910.81 L691.74,910.44 L695.41,910.06 L699.07,909.69 L702.74,909.31 L706.40,908.94 L710.07,908.56 L713.73,908.19 L717.39,907.82 L721.06,907.44 L724.72,907.07 L728.39,906.69 L732.05,906.32 L735.72,905.94 L739.38,905.57 L743.05,905.19 L746.71,904.82 L750.38,904.44 L754.04,904.07 L757.71,903.69 L761.37,903.32 L765.04,902.94 L768.70,902.57 L772.37,902.20 L776.03,901.82 L779.69,901.45 L783.36,901.07 L787.02,900.70 L790.69,900.32 L794.35,899.95 L798.02,899.57 L801.68,899.20 L805.35,898.82 L809.01,898.45 L812.68,898.07 L816.34,897.70 L820.01,897.32 L823.67,896.95 L827.34,896.58 L831.00,896.20 L834.67,895.83 L838.33,895.45 L842.00,895.08 L845.66,894.70 L849.32,894.33 L852.99,893.95 L856.65,893.58 L860.32,893.20 L863.98,892.83 L867.65,892.45 L871.31,892.08 L874.98,891.70 L878.64,891.33 L882.31,890.95 L885.97,890.58 L889.64,890.21 L893.30,889.83 L896.97,889.46 L900.63,889.08 L904.30,888.71 L907.96,888.33 L911.62,887.96 L915.29,887.58 L918.95,887.21 L922.62,886.83 L926.28,886.46 L929.95,886.08 L933.61,885.71 L937.28,885.33 L940.94,884.96 L944.61,884.59 L948.27,884.21 L951.94,883.84 L955.60,883.46 L959.27,883.09 L962.93,882.71 L966.60,882.34 L970.26,881.96 L973.93,881.59 L977.59,881.21" stroke="#000" stroke-width="1.4" fill="none" stroke-linejoin="round"/>
<path d="M118.34,851.12 L129.05,821.09 L134.38,821.09 L139.76,807.94 L145.14,809.18 L155.84,817.78 L161.26,821.55 L166.64,821.87 L172.02,812.31 L177.40,805.27 L182.81,798.10 L188.23,806.38 L193.62,799.34 L199.05,798.56 L204.48,801.23 L209.90,801.36 L215.32,798.10 L220.73,795.57 L226.16,804.81 L247.90,785.30 L269.90,801.30 L280.90,764.00 L291.70,797.50 L313.70,770.70 L335.90,770.60 L358.00,794.40 L380.20,746.40 L391.20,769.70 L402.20,764.00 L424.50,778.20 L446.90,769.00 L503.60,744.70 L560.00,738.40 L617.60,729.40 L675.50,724.90 L733.40,701.60 L792.20,708.20 L851.30,662.00 L911.00,667.40 L971.00,689.30" stroke="#1f77b4" stroke-width="1.35" stroke-dasharray="3.4 1.6" fill="none"/>
<path d="M118.34,848.27 V854.07 M115.89,848.27 H120.79 M115.89,854.07 H120.79 M129.05,807.16 V834.84 M126.60,807.16 H131.50 M126.60,834.84 H131.50 M134.38,816.68 V825.28 M131.93,816.68 H136.83 M131.93,825.28 H136.83 M139.76,803.39 V812.63 M137.31,803.39 H142.21 M137.31,812.63 H142.21 M145.14,804.81 V813.87 M142.69,804.81 H147.59 M142.69,813.87 H147.59 M155.84,807.94 V827.49 M153.39,807.94 H158.29 M153.39,827.49 H158.29 M161.26,811.85 V831.39 M158.81,811.85 H163.71 M158.81,831.39 H163.71 M166.64,817.46 V826.38 M164.19,817.46 H169.09 M164.19,826.38 H169.09 M172.02,802.47 V822.15 M169.57,802.47 H174.47 M169.57,822.15 H174.47 M177.40,800.58 V809.64 M174.95,800.58 H179.85 M174.95,809.64 H179.85 M182.81,793.55 V802.61 M180.36,793.55 H185.26 M180.36,802.61 H185.26 M188.23,801.82 V810.93 M185.78,801.82 H190.68 M185.78,810.93 H190.68 M193.62,794.79 V804.03 M191.17,794.79 H196.07 M191.17,804.03 H196.07 M199.05,794.01 V803.25 M196.60,794.01 H201.50 M196.60,803.25 H201.50 M204.48,796.67 V805.73 M202.03,796.67 H206.93 M202.03,805.73 H206.93 M209.90,796.86 V806.05 M207.45,796.86 H212.35 M207.45,806.05 H212.35 M215.32,793.41 V802.61 M212.87,793.41 H217.77 M212.87,802.61 H217.77 M220.73,791.06 V800.26 M218.28,791.06 H223.18 M218.28,800.26 H223.18 M226.16,795.11 V814.98 M223.71,795.11 H228.61 M223.71,814.98 H228.61 M247.90,775.30 V795.00 M245.45,775.30 H250.35 M245.45,795.00 H250.35 M269.90,791.60 V810.90 M267.45,791.60 H272.35 M267.45,810.90 H272.35 M280.90,754.00 V773.70 M278.45,754.00 H283.35 M278.45,773.70 H283.35 M291.70,787.50 V807.60 M289.25,787.50 H294.15 M289.25,807.60 H294.15 M313.70,760.40 V780.70 M311.25,760.40 H316.15 M311.25,780.70 H316.15 M335.90,760.70 V780.70 M333.45,760.70 H338.35 M333.45,780.70 H338.35 M358.00,784.50 V804.00 M355.55,784.50 H360.45 M355.55,804.00 H360.45 M380.20,736.10 V756.30 M377.75,736.10 H382.65 M377.75,756.30 H382.65 M391.20,759.60 V779.40 M388.75,759.60 H393.65 M388.75,779.40 H393.65 M402.20,754.10 V773.90 M399.75,754.10 H404.65 M399.75,773.90 H404.65 M424.50,769.00 V788.50 M422.05,769.00 H426.95 M422.05,788.50 H426.95 M446.90,759.10 V778.90 M444.45,759.10 H449.35 M444.45,778.90 H449.35 M503.60,734.50 V754.90 M501.15,734.50 H506.05 M501.15,754.90 H506.05 M560.00,728.50 V748.90 M557.55,728.50 H562.45 M557.55,748.90 H562.45 M617.60,718.90 V739.90 M615.15,718.90 H620.05 M615.15,739.90 H620.05 M675.50,709.90 V739.90 M673.05,709.90 H677.95 M673.05,739.90 H677.95 M733.40,686.60 V716.60 M730.95,686.60 H735.85 M730.95,716.60 H735.85 M792.20,692.90 V723.20 M789.75,692.90 H794.65 M789.75,723.20 H794.65 M851.30,646.40 V677.60 M848.85,646.40 H853.75 M848.85,677.60 H853.75 M911.00,651.80 V683.00 M908.55,651.80 H913.45 M908.55,683.00 H913.45 M971.00,673.70 V704.90 M968.55,673.70 H973.45 M968.55,704.90 H973.45" stroke="#1f77b4" stroke-width="1.5" fill="none"/>
<g fill="#1f77b4" stroke="#000" stroke-width="1.3"><circle cx="118.34" cy="851.12" r="3.2"/><circle cx="129.05" cy="821.09" r="3.2"/><circle cx="134.38" cy="821.09" r="3.2"/><circle cx="139.76" cy="807.94" r="3.2"/><circle cx="145.14" cy="809.18" r="3.2"/><circle cx="155.84" cy="817.78" r="3.2"/><circle cx="161.26" cy="821.55" r="3.2"/><circle cx="166.64" cy="821.87" r="3.2"/><circle cx="172.02" cy="812.31" r="3.2"/><circle cx="177.40" cy="805.27" r="3.2"/><circle cx="182.81" cy="798.10" r="3.2"/><circle cx="188.23" cy="806.38" r="3.2"/><circle cx="193.62" cy="799.34" r="3.2"/><circle cx="199.05" cy="798.56" r="3.2"/><circle cx="204.48" cy="801.23" r="3.2"/><circle cx="209.90" cy="801.36" r="3.2"/><circle cx="215.32" cy="798.10" r="3.2"/><circle cx="220.73" cy="795.57" r="3.2"/><circle cx="226.16" cy="804.81" r="3.2"/><circle cx="247.90" cy="785.30" r="3.2"/><circle cx="269.90" cy="801.30" r="3.2"/><circle cx="280.90" cy="764.00" r="3.2"/><circle cx="291.70" cy="797.50" r="3.2"/><circle cx="313.70" cy="770.70" r="3.2"/><circle cx="335.90" cy="770.60" r="3.2"/><circle cx="358.00" cy="794.40" r="3.2"/><circle cx="380.20" cy="746.40" r="3.2"/><circle cx="391.20" cy="769.70" r="3.2"/><circle cx="402.20" cy="764.00" r="3.2"/><circle cx="424.50" cy="778.20" r="3.2"/><circle cx="446.90" cy="769.00" r="3.2"/><circle cx="503.60" cy="744.70" r="3.2"/><circle cx="560.00" cy="738.40" r="3.2"/><circle cx="617.60" cy="729.40" r="3.2"/><circle cx="675.50" cy="724.90" r="3.2"/><circle cx="733.40" cy="701.60" r="3.2"/><circle cx="792.20" cy="708.20" r="3.2"/><circle cx="851.30" cy="662.00" r="3.2"/><circle cx="911.00" cy="667.40" r="3.2"/><circle cx="971.00" cy="689.30" r="3.2"/></g>
<path d="M118.35,836.82 V846.02 M115.90,836.82 H120.80 M115.90,846.02 H120.80" stroke="#7f7f7f" stroke-width="1.5" fill="none"/>
<circle cx="118.35" cy="841.37" r="3.2" fill="#7f7f7f" stroke="#000" stroke-width="1.3"/>
<path d="M118.35,979.20 L129.05,947.79 L134.38,945.26 L139.76,935.28 L145.14,936.06 L155.84,948.71 L161.26,951.84 L166.64,953.40 L172.02,943.10 L177.40,939.97 L182.81,931.37 L188.23,941.21 L193.62,931.37 L199.05,932.61 L204.48,939.19 L209.90,937.63 L215.32,936.98 L220.73,933.86 L226.16,947.33 L247.90,928.70 L269.90,950.30 L280.90,913.50 L291.70,948.70 L313.70,924.50 L335.90,923.90 L358.00,954.20 L380.20,909.10 L391.20,936.00 L402.20,930.00 L424.50,945.20 L446.90,939.60 L503.60,921.00 L560.00,918.30 L617.60,913.50 L675.20,911.10 L733.40,900.10 L792.20,910.00 L851.30,871.60 L911.00,877.60 L971.00,906.40" stroke="#ff7f0e" stroke-width="1.35" stroke-dasharray="3.4 1.6" fill="none"/>
<path d="M118.35,975.93 V982.33 M115.90,975.93 H120.80 M115.90,982.33 H120.80 M129.05,933.86 V961.68 M126.60,933.86 H131.50 M126.60,961.68 H131.50 M134.38,940.75 V949.81 M131.93,940.75 H136.83 M131.93,949.81 H136.83 M139.76,930.59 V939.79 M137.31,930.59 H142.21 M137.31,939.79 H142.21 M145.14,931.37 V940.75 M142.69,931.37 H147.59 M142.69,940.75 H147.59 M155.84,938.55 V958.73 M153.39,938.55 H158.29 M153.39,958.73 H158.29 M161.26,942.00 V961.68 M158.81,942.00 H163.71 M158.81,961.68 H163.71 M166.64,947.79 V959.06 M164.19,947.79 H169.09 M164.19,959.06 H169.09 M172.02,933.07 V953.08 M169.57,933.07 H174.47 M169.57,953.08 H174.47 M177.40,935.28 V944.80 M174.95,935.28 H179.85 M174.95,944.80 H179.85 M182.81,926.04 V936.98 M180.36,926.04 H185.26 M180.36,936.98 H185.26 M188.23,936.38 V946.04 M185.78,936.38 H190.68 M185.78,946.04 H190.68 M193.62,925.72 V936.98 M191.17,925.72 H196.07 M191.17,936.98 H196.07 M199.05,926.04 V939.19 M196.60,926.04 H201.50 M196.60,939.19 H201.50 M204.48,934.18 V944.20 M202.03,934.18 H206.93 M202.03,944.20 H206.93 M209.90,932.61 V942.78 M207.45,932.61 H212.35 M207.45,942.78 H212.35 M215.32,931.97 V942.00 M212.87,931.97 H217.77 M212.87,942.00 H217.77 M220.73,929.16 V938.55 M218.28,929.16 H223.18 M218.28,938.55 H223.18 M226.16,937.17 V957.77 M223.71,937.17 H228.61 M223.71,957.77 H228.61 M247.90,918.20 V938.80 M245.45,918.20 H250.35 M245.45,938.80 H250.35 M269.90,940.20 V960.40 M267.45,940.20 H272.35 M267.45,960.40 H272.35 M280.90,903.60 V923.40 M278.45,903.60 H283.35 M278.45,923.40 H283.35 M291.70,938.80 V959.30 M289.25,938.80 H294.15 M289.25,959.30 H294.15 M313.70,913.80 V935.30 M311.25,913.80 H316.15 M311.25,935.30 H316.15 M335.90,913.50 V934.00 M333.45,913.50 H338.35 M333.45,934.00 H338.35 M358.00,944.60 V964.80 M355.55,944.60 H360.45 M355.55,964.80 H360.45 M380.20,898.40 V919.00 M377.75,898.40 H382.65 M377.75,919.00 H382.65 M391.20,925.60 V946.30 M388.75,925.60 H393.65 M388.75,946.30 H393.65 M402.20,919.30 V940.20 M399.75,919.30 H404.65 M399.75,940.20 H404.65 M424.50,934.60 V955.90 M422.05,934.60 H426.95 M422.05,955.90 H426.95 M446.90,929.10 V950.40 M444.45,929.10 H449.35 M444.45,950.40 H449.35 M503.60,910.50 V931.80 M501.15,910.50 H506.05 M501.15,931.80 H506.05 M560.00,907.80 V928.80 M557.55,907.80 H562.45 M557.55,928.80 H562.45 M617.60,902.70 V924.90 M615.15,902.70 H620.05 M615.15,924.90 H620.05 M675.20,895.80 V926.40 M672.75,895.80 H677.65 M672.75,926.40 H677.65 M733.40,884.80 V915.40 M730.95,884.80 H735.85 M730.95,915.40 H735.85 M792.20,893.50 V926.50 M789.75,893.50 H794.65 M789.75,926.50 H794.65 M851.30,855.40 V887.50 M848.85,855.40 H853.75 M848.85,887.50 H853.75 M911.00,861.70 V893.80 M908.55,861.70 H913.45 M908.55,893.80 H913.45 M971.00,890.80 V922.00 M968.55,890.80 H973.45 M968.55,922.00 H973.45" stroke="#ff7f0e" stroke-width="1.5" fill="none"/>
<g fill="#ff7f0e" stroke="#000" stroke-width="1.3"><circle cx="118.35" cy="979.20" r="3.2"/><circle cx="129.05" cy="947.79" r="3.2"/><circle cx="134.38" cy="945.26" r="3.2"/><circle cx="139.76" cy="935.28" r="3.2"/><circle cx="145.14" cy="936.06" r="3.2"/><circle cx="155.84" cy="948.71" r="3.2"/><circle cx="161.26" cy="951.84" r="3.2"/><circle cx="166.64" cy="953.40" r="3.2"/><circle cx="172.02" cy="943.10" r="3.2"/><circle cx="177.40" cy="939.97" r="3.2"/><circle cx="182.81" cy="931.37" r="3.2"/><circle cx="188.23" cy="941.21" r="3.2"/><circle cx="193.62" cy="931.37" r="3.2"/><circle cx="199.05" cy="932.61" r="3.2"/><circle cx="204.48" cy="939.19" r="3.2"/><circle cx="209.90" cy="937.63" r="3.2"/><circle cx="215.32" cy="936.98" r="3.2"/><circle cx="220.73" cy="933.86" r="3.2"/><circle cx="226.16" cy="947.33" r="3.2"/><circle cx="247.90" cy="928.70" r="3.2"/><circle cx="269.90" cy="950.30" r="3.2"/><circle cx="280.90" cy="913.50" r="3.2"/><circle cx="291.70" cy="948.70" r="3.2"/><circle cx="313.70" cy="924.50" r="3.2"/><circle cx="335.90" cy="923.90" r="3.2"/><circle cx="358.00" cy="954.20" r="3.2"/><circle cx="380.20" cy="909.10" r="3.2"/><circle cx="391.20" cy="936.00" r="3.2"/><circle cx="402.20" cy="930.00" r="3.2"/><circle cx="424.50" cy="945.20" r="3.2"/><circle cx="446.90" cy="939.60" r="3.2"/><circle cx="503.60" cy="921.00" r="3.2"/><circle cx="560.00" cy="918.30" r="3.2"/><circle cx="617.60" cy="913.50" r="3.2"/><circle cx="675.20" cy="911.10" r="3.2"/><circle cx="733.40" cy="900.10" r="3.2"/><circle cx="792.20" cy="910.00" r="3.2"/><circle cx="851.30" cy="871.60" r="3.2"/><circle cx="911.00" cy="877.60" r="3.2"/><circle cx="971.00" cy="906.40" r="3.2"/></g>
<path d="M118.35,964.81 V973.91 M115.90,964.81 H120.80 M115.90,973.91 H120.80" stroke="#000" stroke-width="1.5" fill="none"/>
<circle cx="118.35" cy="969.36" r="3.2" fill="#000" stroke="#000" stroke-width="1.3"/>
</g>
<rect x="116.30" y="612.40" width="861.30" height="455.05" fill="none" stroke="#000" stroke-width="2.8"/>
<path d="M118.35,1067.45 V1077.95 M225.75,1067.45 V1077.95 M333.16,1067.45 V1077.95 M440.57,1067.45 V1077.95 M547.97,1067.45 V1077.95 M655.38,1067.45 V1077.95 M762.78,1067.45 V1077.95 M870.19,1067.45 V1077.95 M977.59,1067.45 V1077.95 M105.50,1067.45 H116.30 M105.50,976.44 H116.30 M105.50,885.43 H116.30 M105.50,794.42 H116.30 M105.50,703.41 H116.30 M105.50,612.40 H116.30" stroke="#000" stroke-width="2.7" fill="none"/>
<text x="95.34" y="1106.80" font-size="26.30" font-style="normal" fill="#000">0.00</text>
<text x="202.76" y="1106.80" font-size="26.30" font-style="normal" fill="#000">0.05</text>
<text x="310.15" y="1106.80" font-size="26.30" font-style="normal" fill="#000">0.10</text>
<text x="417.57" y="1106.80" font-size="26.30" font-style="normal" fill="#000">0.15</text>
<text x="524.96" y="1106.80" font-size="26.30" font-style="normal" fill="#000">0.20</text>
<text x="632.38" y="1106.80" font-size="26.30" font-style="normal" fill="#000">0.25</text>
<text x="739.77" y="1106.80" font-size="26.30" font-style="normal" fill="#000">0.30</text>
<text x="847.19" y="1106.80" font-size="26.30" font-style="normal" fill="#000">0.35</text>
<text x="954.58" y="1106.80" font-size="26.30" font-style="normal" fill="#000">0.40</text>
<text x="62.43" y="1076.35" font-size="26.30" font-style="normal" fill="#000">1.0</text>
<text x="63.00" y="985.34" font-size="26.30" font-style="normal" fill="#000">1.1</text>
<text x="62.88" y="894.33" font-size="26.30" font-style="normal" fill="#000">1.2</text>
<text x="62.45" y="803.32" font-size="26.30" font-style="normal" fill="#000">1.3</text>
<text x="61.84" y="712.31" font-size="26.30" font-style="normal" fill="#000">1.4</text>
<text x="62.45" y="621.30" font-size="26.30" font-style="normal" fill="#000">1.5</text>
<defs><clipPath id="clipc"><rect x="116.30" y="1181.50" width="861.30" height="454.90"/></clipPath></defs>
<path d="M118.35,1181.50 V1636.40 M225.75,1181.50 V1636.40 M333.16,1181.50 V1636.40 M440.57,1181.50 V1636.40 M547.97,1181.50 V1636.40 M655.38,1181.50 V1636.40 M762.78,1181.50 V1636.40 M870.19,1181.50 V1636.40 M977.59,1181.50 V1636.40 M116.30,1635.05 H977.60 M116.30,1577.68 H977.60 M116.30,1520.31 H977.60 M116.30,1462.94 H977.60 M116.30,1405.57 H977.60 M116.30,1348.20 H977.60 M116.30,1290.83 H977.60 M116.30,1233.46 H977.60" stroke="#f6f6f6" stroke-width="1.8" fill="none" clip-path="url(#clipc)"/>
<g clip-path="url(#clipc)">
<path d="M118.35,1436.53 L119.42,1435.07 L120.50,1433.64 L121.57,1432.25 L122.65,1430.89 L123.72,1429.57 L124.79,1428.28 L125.87,1427.02 L126.94,1425.80 L128.02,1424.61 L129.09,1423.45 L130.16,1422.33 L131.24,1421.23 L132.31,1420.17 L133.39,1419.14 L134.46,1418.13 L135.53,1417.16 L136.61,1416.21 L137.68,1415.29 L138.76,1414.39 L139.83,1413.52 L140.91,1412.68 L141.98,1411.87 L143.05,1411.07 L144.13,1410.30 L145.20,1409.56 L146.28,1408.84 L147.35,1408.14 L148.42,1407.46 L149.50,1406.80 L150.57,1406.16 L151.65,1405.55 L152.72,1404.95 L153.79,1404.37 L154.87,1403.81 L155.94,1403.27 L157.02,1402.74 L158.09,1402.23 L159.16,1401.74 L160.24,1401.27 L161.31,1400.81 L162.39,1400.37 L163.46,1399.94 L164.53,1399.52 L165.61,1399.12 L166.68,1398.73 L167.76,1398.36 L168.83,1398.00 L169.90,1397.65 L170.98,1397.31 L172.05,1396.99 L173.13,1396.67 L174.20,1396.37 L175.27,1396.08 L176.35,1395.80 L177.42,1395.53 L178.50,1395.27 L179.57,1395.01 L180.64,1394.77 L181.72,1394.54 L182.79,1394.31 L183.87,1394.09 L184.94,1393.88 L186.02,1393.68 L187.09,1393.49 L188.16,1393.30 L189.24,1393.12 L190.31,1392.95 L191.39,1392.78 L192.46,1392.62 L193.53,1392.46 L194.61,1392.31 L195.68,1392.17 L196.76,1392.03 L197.83,1391.90 L198.90,1391.77 L199.98,1391.65 L201.05,1391.53 L202.13,1391.42 L203.20,1391.31 L204.27,1391.20 L205.35,1391.10 L206.42,1391.01 L207.50,1390.91 L208.57,1390.82 L209.64,1390.74 L210.72,1390.65 L211.79,1390.57 L212.87,1390.49 L213.94,1390.42 L215.01,1390.35 L216.09,1390.28 L217.16,1390.21 L218.24,1390.14 L219.31,1390.08 L220.38,1390.02 L221.46,1389.96 L222.53,1389.90 L223.61,1389.85 L224.68,1389.80 L225.75,1389.74 L226.83,1389.69 L227.90,1389.64 L228.98,1389.60 L230.05,1389.55 L231.13,1389.50 L232.20,1389.46 L233.27,1389.42 L234.35,1389.37 L235.42,1389.33 L236.50,1389.29 L237.57,1389.25 L238.64,1389.21 L239.72,1389.17 L240.79,1389.13 L241.87,1389.09 L242.94,1389.05 L244.01,1389.02 L245.09,1388.98 L246.16,1388.94 L247.24,1388.90 L248.31,1388.87 L251.97,1388.74 L255.64,1388.61 L259.30,1388.48 L262.97,1388.34 L266.63,1388.19 L270.30,1388.04 L273.96,1387.89 L277.63,1387.72 L281.29,1387.54 L284.96,1387.35 L288.62,1387.16 L292.29,1386.95 L295.95,1386.72 L299.62,1386.49 L303.28,1386.25 L306.95,1385.99 L310.61,1385.72 L314.28,1385.44 L317.94,1385.14 L321.60,1384.83 L325.27,1384.51 L328.93,1384.18 L332.60,1383.83 L336.26,1383.48 L339.93,1383.11 L343.59,1382.72 L347.26,1382.33 L350.92,1381.92 L354.59,1381.51 L358.25,1381.08 L361.92,1380.64 L365.58,1380.19 L369.25,1379.73 L372.91,1379.26 L376.58,1378.78 L380.24,1378.28 L383.90,1377.78 L387.57,1377.27 L391.23,1376.75 L394.90,1376.23 L398.56,1375.69 L402.23,1375.15 L405.89,1374.59 L409.56,1374.03 L413.22,1373.47 L416.89,1372.89 L420.55,1372.31 L424.22,1371.72 L427.88,1371.12 L431.55,1370.52 L435.21,1369.91 L438.88,1369.30 L442.54,1368.68 L446.21,1368.06 L449.87,1367.42 L453.53,1366.79 L457.20,1366.15 L460.86,1365.50 L464.53,1364.85 L468.19,1364.20 L471.86,1363.54 L475.52,1362.88 L479.19,1362.22 L482.85,1361.55 L486.52,1360.87 L490.18,1360.20 L493.85,1359.52 L497.51,1358.83 L501.18,1358.15 L504.84,1357.46 L508.51,1356.77 L512.17,1356.08 L515.83,1355.38 L519.50,1354.68 L523.16,1353.98 L526.83,1353.28 L530.49,1352.57 L534.16,1351.87 L537.82,1351.16 L541.49,1350.45 L545.15,1349.74 L548.82,1349.02 L552.48,1348.31 L556.15,1347.59 L559.81,1346.88 L563.48,1346.16 L567.14,1345.44 L570.81,1344.71 L574.47,1343.99 L578.14,1343.27 L581.80,1342.54 L585.46,1341.82 L589.13,1341.09 L592.79,1340.37 L596.46,1339.64 L600.12,1338.91 L603.79,1338.18 L607.45,1337.45 L611.12,1336.72 L614.78,1335.99 L618.45,1335.25 L622.11,1334.52 L625.78,1333.79 L629.44,1333.06 L633.11,1332.32 L636.77,1331.59 L640.44,1330.85 L644.10,1330.12 L647.76,1329.38 L651.43,1328.65 L655.09,1327.91 L658.76,1327.17 L662.42,1326.44 L666.09,1325.70 L669.75,1324.96 L673.42,1324.22 L677.08,1323.49 L680.75,1322.75 L684.41,1322.01 L688.08,1321.27 L691.74,1320.53 L695.41,1319.79 L699.07,1319.05 L702.74,1318.32 L706.40,1317.58 L710.07,1316.84 L713.73,1316.10 L717.39,1315.36 L721.06,1314.62 L724.72,1313.88 L728.39,1313.14 L732.05,1312.40 L735.72,1311.66 L739.38,1310.92 L743.05,1310.18 L746.71,1309.44 L750.38,1308.70 L754.04,1307.96 L757.71,1307.22 L761.37,1306.48 L765.04,1305.74 L768.70,1305.00 L772.37,1304.25 L776.03,1303.51 L779.69,1302.77 L783.36,1302.03 L787.02,1301.29 L790.69,1300.55 L794.35,1299.81 L798.02,1299.07 L801.68,1298.33 L805.35,1297.59 L809.01,1296.85 L812.68,1296.11 L816.34,1295.37 L820.01,1294.62 L823.67,1293.88 L827.34,1293.14 L831.00,1292.40 L834.67,1291.66 L838.33,1290.92 L842.00,1290.18 L845.66,1289.44 L849.32,1288.70 L852.99,1287.96 L856.65,1287.21 L860.32,1286.47 L863.98,1285.73 L867.65,1284.99 L871.31,1284.25 L874.98,1283.51 L878.64,1282.77 L882.31,1282.03 L885.97,1281.29 L889.64,1280.54 L893.30,1279.80 L896.97,1279.06 L900.63,1278.32 L904.30,1277.58 L907.96,1276.84 L911.62,1276.10 L915.29,1275.36 L918.95,1274.62 L922.62,1273.87 L926.28,1273.13 L929.95,1272.39 L933.61,1271.65 L937.28,1270.91 L940.94,1270.17 L944.61,1269.43 L948.27,1268.69 L951.94,1267.94 L955.60,1267.20 L959.27,1266.46 L962.93,1265.72 L966.60,1264.98 L970.26,1264.24 L973.93,1263.50 L977.59,1262.76 L977.59,1262.76 L973.93,1263.50 L970.26,1264.24 L966.60,1264.98 L962.93,1265.72 L959.27,1266.46 L955.60,1267.20 L951.94,1267.94 L948.27,1268.69 L944.61,1269.43 L940.94,1270.17 L937.28,1270.91 L933.61,1271.65 L929.95,1272.39 L926.28,1273.13 L922.62,1273.87 L918.95,1274.62 L915.29,1275.36 L911.62,1276.10 L907.96,1276.84 L904.30,1277.58 L900.63,1278.32 L896.97,1279.06 L893.30,1279.80 L889.64,1280.54 L885.97,1281.29 L882.31,1282.03 L878.64,1282.77 L874.98,1283.51 L871.31,1284.25 L867.65,1284.99 L863.98,1285.73 L860.32,1286.47 L856.65,1287.22 L852.99,1287.96 L849.32,1288.70 L845.66,1289.44 L842.00,1290.18 L838.33,1290.92 L834.67,1291.66 L831.00,1292.40 L827.34,1293.14 L823.67,1293.89 L820.01,1294.63 L816.34,1295.37 L812.68,1296.11 L809.01,1296.85 L805.35,1297.59 L801.68,1298.33 L798.02,1299.07 L794.35,1299.82 L790.69,1300.56 L787.02,1301.30 L783.36,1302.04 L779.69,1302.78 L776.03,1303.52 L772.37,1304.26 L768.70,1305.00 L765.04,1305.74 L761.37,1306.49 L757.71,1307.23 L754.04,1307.97 L750.38,1308.71 L746.71,1309.45 L743.05,1310.19 L739.38,1310.93 L735.72,1311.67 L732.05,1312.42 L728.39,1313.16 L724.72,1313.90 L721.06,1314.64 L717.39,1315.38 L713.73,1316.12 L710.07,1316.86 L706.40,1317.60 L702.74,1318.34 L699.07,1319.09 L695.41,1319.83 L691.74,1320.57 L688.08,1321.31 L684.41,1322.05 L680.75,1322.79 L677.08,1323.53 L673.42,1324.27 L669.75,1325.02 L666.09,1325.76 L662.42,1326.50 L658.76,1327.24 L655.09,1327.98 L651.43,1328.72 L647.76,1329.46 L644.10,1330.20 L640.44,1330.94 L636.77,1331.69 L633.11,1332.43 L629.44,1333.17 L625.78,1333.91 L622.11,1334.65 L618.45,1335.39 L614.78,1336.13 L611.12,1336.87 L607.45,1337.62 L603.79,1338.36 L600.12,1339.10 L596.46,1339.84 L592.79,1340.58 L589.13,1341.32 L585.46,1342.06 L581.80,1342.80 L578.14,1343.54 L574.47,1344.29 L570.81,1345.03 L567.14,1345.77 L563.48,1346.51 L559.81,1347.25 L556.15,1347.99 L552.48,1348.73 L548.82,1349.47 L545.15,1350.21 L541.49,1350.96 L537.82,1351.70 L534.16,1352.44 L530.49,1353.18 L526.83,1353.92 L523.16,1354.66 L519.50,1355.40 L515.83,1356.14 L512.17,1356.89 L508.51,1357.63 L504.84,1358.37 L501.18,1359.11 L497.51,1359.85 L493.85,1360.59 L490.18,1361.33 L486.52,1362.07 L482.85,1362.81 L479.19,1363.56 L475.52,1364.30 L471.86,1365.04 L468.19,1365.78 L464.53,1366.52 L460.86,1367.26 L457.20,1368.00 L453.53,1368.74 L449.87,1369.49 L446.21,1370.23 L442.54,1370.97 L438.88,1371.71 L435.21,1372.45 L431.55,1373.19 L427.88,1373.93 L424.22,1374.67 L420.55,1375.41 L416.89,1376.16 L413.22,1376.90 L409.56,1377.64 L405.89,1378.38 L402.23,1379.12 L398.56,1379.86 L394.90,1380.60 L391.23,1381.34 L387.57,1382.09 L383.90,1382.83 L380.24,1383.57 L376.58,1384.31 L372.91,1385.05 L369.25,1385.79 L365.58,1386.53 L361.92,1387.27 L358.25,1388.01 L354.59,1388.76 L350.92,1389.50 L347.26,1390.24 L343.59,1390.98 L339.93,1391.72 L336.26,1392.46 L332.60,1393.20 L328.93,1393.94 L325.27,1394.69 L321.60,1395.43 L317.94,1396.17 L314.28,1396.91 L310.61,1397.65 L306.95,1398.39 L303.28,1399.13 L299.62,1399.87 L295.95,1400.61 L292.29,1401.36 L288.62,1402.10 L284.96,1402.84 L281.29,1403.58 L277.63,1404.32 L273.96,1405.06 L270.30,1405.80 L266.63,1406.54 L262.97,1407.29 L259.30,1408.03 L255.64,1408.77 L251.97,1409.51 L248.31,1410.25 L247.24,1410.47 L246.16,1410.68 L245.09,1410.90 L244.01,1411.12 L242.94,1411.34 L241.87,1411.55 L240.79,1411.77 L239.72,1411.99 L238.64,1412.20 L237.57,1412.42 L236.50,1412.64 L235.42,1412.86 L234.35,1413.07 L233.27,1413.29 L232.20,1413.51 L231.13,1413.73 L230.05,1413.94 L228.98,1414.16 L227.90,1414.38 L226.83,1414.59 L225.75,1414.81 L224.68,1415.03 L223.61,1415.25 L222.53,1415.46 L221.46,1415.68 L220.38,1415.90 L219.31,1416.11 L218.24,1416.33 L217.16,1416.55 L216.09,1416.77 L215.01,1416.98 L213.94,1417.20 L212.87,1417.42 L211.79,1417.64 L210.72,1417.85 L209.64,1418.07 L208.57,1418.29 L207.50,1418.50 L206.42,1418.72 L205.35,1418.94 L204.27,1419.16 L203.20,1419.37 L202.13,1419.59 L201.05,1419.81 L199.98,1420.02 L198.90,1420.24 L197.83,1420.46 L196.76,1420.68 L195.68,1420.89 L194.61,1421.11 L193.53,1421.33 L192.46,1421.55 L191.39,1421.76 L190.31,1421.98 L189.24,1422.20 L188.16,1422.41 L187.09,1422.63 L186.02,1422.85 L184.94,1423.07 L183.87,1423.28 L182.79,1423.50 L181.72,1423.72 L180.64,1423.93 L179.57,1424.15 L178.50,1424.37 L177.42,1424.59 L176.35,1424.80 L175.27,1425.02 L174.20,1425.24 L173.13,1425.46 L172.05,1425.67 L170.98,1425.89 L169.90,1426.11 L168.83,1426.32 L167.76,1426.54 L166.68,1426.76 L165.61,1426.98 L164.53,1427.19 L163.46,1427.41 L162.39,1427.63 L161.31,1427.84 L160.24,1428.06 L159.16,1428.28 L158.09,1428.50 L157.02,1428.71 L155.94,1428.93 L154.87,1429.15 L153.79,1429.37 L152.72,1429.58 L151.65,1429.80 L150.57,1430.02 L149.50,1430.23 L148.42,1430.45 L147.35,1430.67 L146.28,1430.89 L145.20,1431.10 L144.13,1431.32 L143.05,1431.54 L141.98,1431.75 L140.91,1431.97 L139.83,1432.19 L138.76,1432.41 L137.68,1432.62 L136.61,1432.84 L135.53,1433.06 L134.46,1433.28 L133.39,1433.49 L132.31,1433.71 L131.24,1433.93 L130.16,1434.14 L129.09,1434.36 L128.02,1434.58 L126.94,1434.80 L125.87,1435.01 L124.79,1435.23 L123.72,1435.45 L122.65,1435.66 L121.57,1435.88 L120.50,1436.10 L119.42,1436.32 L118.35,1436.53 Z" fill="#d2e4f0" stroke="none"/>
<path d="M118.35,1599.88 L119.42,1597.93 L120.50,1596.05 L121.57,1594.22 L122.65,1592.46 L123.72,1590.76 L124.79,1589.12 L125.87,1587.53 L126.94,1586.01 L128.02,1584.55 L129.09,1583.14 L130.16,1581.79 L131.24,1580.49 L132.31,1579.25 L133.39,1578.06 L134.46,1576.92 L135.53,1575.84 L136.61,1574.80 L137.68,1573.81 L138.76,1572.86 L139.83,1571.96 L140.91,1571.11 L141.98,1570.30 L143.05,1569.53 L144.13,1568.80 L145.20,1568.11 L146.28,1567.45 L147.35,1566.84 L148.42,1566.26 L149.50,1565.71 L150.57,1565.20 L151.65,1564.72 L152.72,1564.27 L153.79,1563.85 L154.87,1563.46 L155.94,1563.10 L157.02,1562.77 L158.09,1562.46 L159.16,1562.18 L160.24,1561.92 L161.31,1561.69 L162.39,1561.48 L163.46,1561.29 L164.53,1561.13 L165.61,1560.98 L166.68,1560.85 L167.76,1560.74 L168.83,1560.65 L169.90,1560.58 L170.98,1560.53 L172.05,1560.49 L173.13,1560.46 L174.20,1560.45 L175.27,1560.46 L176.35,1560.47 L177.42,1560.51 L178.50,1560.55 L179.57,1560.60 L180.64,1560.67 L181.72,1560.75 L182.79,1560.84 L183.87,1560.93 L184.94,1561.04 L186.02,1561.15 L187.09,1561.28 L188.16,1561.41 L189.24,1561.55 L190.31,1561.69 L191.39,1561.85 L192.46,1562.01 L193.53,1562.17 L194.61,1562.34 L195.68,1562.52 L196.76,1562.70 L197.83,1562.88 L198.90,1563.07 L199.98,1563.27 L201.05,1563.47 L202.13,1563.67 L203.20,1563.87 L204.27,1564.08 L205.35,1564.29 L206.42,1564.50 L207.50,1564.71 L208.57,1564.93 L209.64,1565.15 L210.72,1565.37 L211.79,1565.59 L212.87,1565.81 L213.94,1566.03 L215.01,1566.26 L216.09,1566.48 L217.16,1566.71 L218.24,1566.93 L219.31,1567.16 L220.38,1567.38 L221.46,1567.61 L222.53,1567.84 L223.61,1568.06 L224.68,1568.28 L225.75,1568.51 L226.83,1568.73 L227.90,1568.95 L228.98,1569.18 L230.05,1569.40 L231.13,1569.61 L232.20,1569.83 L233.27,1570.05 L234.35,1570.26 L235.42,1570.48 L236.50,1570.69 L237.57,1570.90 L238.64,1571.11 L239.72,1571.32 L240.79,1571.52 L241.87,1571.73 L242.94,1571.93 L244.01,1572.13 L245.09,1572.33 L246.16,1572.53 L247.24,1572.72 L248.31,1572.91 L251.97,1573.55 L255.64,1574.17 L259.30,1574.76 L262.97,1575.32 L266.63,1575.85 L270.30,1576.36 L273.96,1576.84 L277.63,1577.29 L281.29,1577.72 L284.96,1578.12 L288.62,1578.49 L292.29,1578.84 L295.95,1579.16 L299.62,1579.46 L303.28,1579.74 L306.95,1579.99 L310.61,1580.22 L314.28,1580.42 L317.94,1580.61 L321.60,1580.78 L325.27,1580.92 L328.93,1581.05 L332.60,1581.16 L336.26,1581.26 L339.93,1581.34 L343.59,1581.40 L347.26,1581.45 L350.92,1581.48 L354.59,1581.50 L358.25,1581.50 L361.92,1581.50 L365.58,1581.48 L369.25,1581.45 L372.91,1581.41 L376.58,1581.36 L380.24,1581.30 L383.90,1581.23 L387.57,1581.15 L391.23,1581.07 L394.90,1580.97 L398.56,1580.87 L402.23,1580.77 L405.89,1580.65 L409.56,1580.53 L413.22,1580.40 L416.89,1580.27 L420.55,1580.13 L424.22,1579.99 L427.88,1579.84 L431.55,1579.69 L435.21,1579.53 L438.88,1579.37 L442.54,1579.21 L446.21,1579.04 L449.87,1578.87 L453.53,1578.69 L457.20,1578.52 L460.86,1578.34 L464.53,1578.15 L468.19,1577.97 L471.86,1577.78 L475.52,1577.59 L479.19,1577.40 L482.85,1577.21 L486.52,1577.01 L490.18,1576.81 L493.85,1576.61 L497.51,1576.41 L501.18,1576.21 L504.84,1576.01 L508.51,1575.80 L512.17,1575.60 L515.83,1575.39 L519.50,1575.18 L523.16,1574.97 L526.83,1574.76 L530.49,1574.55 L534.16,1574.34 L537.82,1574.13 L541.49,1573.91 L545.15,1573.70 L548.82,1573.49 L552.48,1573.27 L556.15,1573.06 L559.81,1572.84 L563.48,1572.62 L567.14,1572.41 L570.81,1572.19 L574.47,1571.97 L578.14,1571.75 L581.80,1571.53 L585.46,1571.31 L589.13,1571.09 L592.79,1570.88 L596.46,1570.66 L600.12,1570.44 L603.79,1570.22 L607.45,1569.99 L611.12,1569.77 L614.78,1569.55 L618.45,1569.33 L622.11,1569.11 L625.78,1568.89 L629.44,1568.67 L633.11,1568.45 L636.77,1568.22 L640.44,1568.00 L644.10,1567.78 L647.76,1567.56 L651.43,1567.34 L655.09,1567.11 L658.76,1566.89 L662.42,1566.67 L666.09,1566.45 L669.75,1566.22 L673.42,1566.00 L677.08,1565.78 L680.75,1565.56 L684.41,1565.33 L688.08,1565.11 L691.74,1564.89 L695.41,1564.66 L699.07,1564.44 L702.74,1564.22 L706.40,1563.99 L710.07,1563.77 L713.73,1563.55 L717.39,1563.32 L721.06,1563.10 L724.72,1562.88 L728.39,1562.65 L732.05,1562.43 L735.72,1562.21 L739.38,1561.98 L743.05,1561.76 L746.71,1561.54 L750.38,1561.31 L754.04,1561.09 L757.71,1560.87 L761.37,1560.64 L765.04,1560.42 L768.70,1560.20 L772.37,1559.97 L776.03,1559.75 L779.69,1559.53 L783.36,1559.30 L787.02,1559.08 L790.69,1558.86 L794.35,1558.63 L798.02,1558.41 L801.68,1558.19 L805.35,1557.96 L809.01,1557.74 L812.68,1557.52 L816.34,1557.29 L820.01,1557.07 L823.67,1556.84 L827.34,1556.62 L831.00,1556.40 L834.67,1556.17 L838.33,1555.95 L842.00,1555.73 L845.66,1555.50 L849.32,1555.28 L852.99,1555.06 L856.65,1554.83 L860.32,1554.61 L863.98,1554.39 L867.65,1554.16 L871.31,1553.94 L874.98,1553.71 L878.64,1553.49 L882.31,1553.27 L885.97,1553.04 L889.64,1552.82 L893.30,1552.60 L896.97,1552.37 L900.63,1552.15 L904.30,1551.93 L907.96,1551.70 L911.62,1551.48 L915.29,1551.26 L918.95,1551.03 L922.62,1550.81 L926.28,1550.58 L929.95,1550.36 L933.61,1550.14 L937.28,1549.91 L940.94,1549.69 L944.61,1549.47 L948.27,1549.24 L951.94,1549.02 L955.60,1548.80 L959.27,1548.57 L962.93,1548.35 L966.60,1548.13 L970.26,1547.90 L973.93,1547.68 L977.59,1547.45 L977.59,1547.45 L973.93,1547.68 L970.26,1547.90 L966.60,1548.13 L962.93,1548.35 L959.27,1548.57 L955.60,1548.80 L951.94,1549.02 L948.27,1549.24 L944.61,1549.47 L940.94,1549.69 L937.28,1549.91 L933.61,1550.14 L929.95,1550.36 L926.28,1550.58 L922.62,1550.81 L918.95,1551.03 L915.29,1551.26 L911.62,1551.48 L907.96,1551.70 L904.30,1551.93 L900.63,1552.15 L896.97,1552.37 L893.30,1552.60 L889.64,1552.82 L885.97,1553.04 L882.31,1553.27 L878.64,1553.49 L874.98,1553.71 L871.31,1553.94 L867.65,1554.16 L863.98,1554.39 L860.32,1554.61 L856.65,1554.83 L852.99,1555.06 L849.32,1555.28 L845.66,1555.50 L842.00,1555.73 L838.33,1555.95 L834.67,1556.17 L831.00,1556.40 L827.34,1556.62 L823.67,1556.85 L820.01,1557.07 L816.34,1557.29 L812.68,1557.52 L809.01,1557.74 L805.35,1557.96 L801.68,1558.19 L798.02,1558.41 L794.35,1558.63 L790.69,1558.86 L787.02,1559.08 L783.36,1559.30 L779.69,1559.53 L776.03,1559.75 L772.37,1559.98 L768.70,1560.20 L765.04,1560.42 L761.37,1560.65 L757.71,1560.87 L754.04,1561.09 L750.38,1561.32 L746.71,1561.54 L743.05,1561.76 L739.38,1561.99 L735.72,1562.21 L732.05,1562.43 L728.39,1562.66 L724.72,1562.88 L721.06,1563.11 L717.39,1563.33 L713.73,1563.55 L710.07,1563.78 L706.40,1564.00 L702.74,1564.22 L699.07,1564.45 L695.41,1564.67 L691.74,1564.89 L688.08,1565.12 L684.41,1565.34 L680.75,1565.57 L677.08,1565.79 L673.42,1566.01 L669.75,1566.24 L666.09,1566.46 L662.42,1566.68 L658.76,1566.91 L655.09,1567.13 L651.43,1567.35 L647.76,1567.58 L644.10,1567.80 L640.44,1568.02 L636.77,1568.25 L633.11,1568.47 L629.44,1568.70 L625.78,1568.92 L622.11,1569.14 L618.45,1569.37 L614.78,1569.59 L611.12,1569.81 L607.45,1570.04 L603.79,1570.26 L600.12,1570.48 L596.46,1570.71 L592.79,1570.93 L589.13,1571.15 L585.46,1571.38 L581.80,1571.60 L578.14,1571.83 L574.47,1572.05 L570.81,1572.27 L567.14,1572.50 L563.48,1572.72 L559.81,1572.94 L556.15,1573.17 L552.48,1573.39 L548.82,1573.61 L545.15,1573.84 L541.49,1574.06 L537.82,1574.29 L534.16,1574.51 L530.49,1574.73 L526.83,1574.96 L523.16,1575.18 L519.50,1575.40 L515.83,1575.63 L512.17,1575.85 L508.51,1576.07 L504.84,1576.30 L501.18,1576.52 L497.51,1576.74 L493.85,1576.97 L490.18,1577.19 L486.52,1577.42 L482.85,1577.64 L479.19,1577.86 L475.52,1578.09 L471.86,1578.31 L468.19,1578.53 L464.53,1578.76 L460.86,1578.98 L457.20,1579.20 L453.53,1579.43 L449.87,1579.65 L446.21,1579.87 L442.54,1580.10 L438.88,1580.32 L435.21,1580.55 L431.55,1580.77 L427.88,1580.99 L424.22,1581.22 L420.55,1581.44 L416.89,1581.66 L413.22,1581.89 L409.56,1582.11 L405.89,1582.33 L402.23,1582.56 L398.56,1582.78 L394.90,1583.01 L391.23,1583.23 L387.57,1583.45 L383.90,1583.68 L380.24,1583.90 L376.58,1584.12 L372.91,1584.35 L369.25,1584.57 L365.58,1584.79 L361.92,1585.02 L358.25,1585.24 L354.59,1585.46 L350.92,1585.69 L347.26,1585.91 L343.59,1586.14 L339.93,1586.36 L336.26,1586.58 L332.60,1586.81 L328.93,1587.03 L325.27,1587.25 L321.60,1587.48 L317.94,1587.70 L314.28,1587.92 L310.61,1588.15 L306.95,1588.37 L303.28,1588.59 L299.62,1588.82 L295.95,1589.04 L292.29,1589.27 L288.62,1589.49 L284.96,1589.71 L281.29,1589.94 L277.63,1590.16 L273.96,1590.38 L270.30,1590.61 L266.63,1590.83 L262.97,1591.05 L259.30,1591.28 L255.64,1591.50 L251.97,1591.73 L248.31,1591.95 L247.24,1592.01 L246.16,1592.08 L245.09,1592.15 L244.01,1592.21 L242.94,1592.28 L241.87,1592.34 L240.79,1592.41 L239.72,1592.47 L238.64,1592.54 L237.57,1592.60 L236.50,1592.67 L235.42,1592.73 L234.35,1592.80 L233.27,1592.87 L232.20,1592.93 L231.13,1593.00 L230.05,1593.06 L228.98,1593.13 L227.90,1593.19 L226.83,1593.26 L225.75,1593.32 L224.68,1593.39 L223.61,1593.46 L222.53,1593.52 L221.46,1593.59 L220.38,1593.65 L219.31,1593.72 L218.24,1593.78 L217.16,1593.85 L216.09,1593.91 L215.01,1593.98 L213.94,1594.05 L212.87,1594.11 L211.79,1594.18 L210.72,1594.24 L209.64,1594.31 L208.57,1594.37 L207.50,1594.44 L206.42,1594.50 L205.35,1594.57 L204.27,1594.64 L203.20,1594.70 L202.13,1594.77 L201.05,1594.83 L199.98,1594.90 L198.90,1594.96 L197.83,1595.03 L196.76,1595.09 L195.68,1595.16 L194.61,1595.23 L193.53,1595.29 L192.46,1595.36 L191.39,1595.42 L190.31,1595.49 L189.24,1595.55 L188.16,1595.62 L187.09,1595.68 L186.02,1595.75 L184.94,1595.81 L183.87,1595.88 L182.79,1595.95 L181.72,1596.01 L180.64,1596.08 L179.57,1596.14 L178.50,1596.21 L177.42,1596.27 L176.35,1596.34 L175.27,1596.40 L174.20,1596.47 L173.13,1596.54 L172.05,1596.60 L170.98,1596.67 L169.90,1596.73 L168.83,1596.80 L167.76,1596.86 L166.68,1596.93 L165.61,1596.99 L164.53,1597.06 L163.46,1597.13 L162.39,1597.19 L161.31,1597.26 L160.24,1597.32 L159.16,1597.39 L158.09,1597.45 L157.02,1597.52 L155.94,1597.58 L154.87,1597.65 L153.79,1597.72 L152.72,1597.78 L151.65,1597.85 L150.57,1597.91 L149.50,1597.98 L148.42,1598.04 L147.35,1598.11 L146.28,1598.17 L145.20,1598.24 L144.13,1598.30 L143.05,1598.37 L141.98,1598.44 L140.91,1598.50 L139.83,1598.57 L138.76,1598.63 L137.68,1598.70 L136.61,1598.76 L135.53,1598.83 L134.46,1598.89 L133.39,1598.96 L132.31,1599.03 L131.24,1599.09 L130.16,1599.16 L129.09,1599.22 L128.02,1599.29 L126.94,1599.35 L125.87,1599.42 L124.79,1599.48 L123.72,1599.55 L122.65,1599.62 L121.57,1599.68 L120.50,1599.75 L119.42,1599.81 L118.35,1599.88 Z" fill="#ffe5cf" stroke="none"/>
<path d="M118.35,1436.53 L977.59,1262.76" stroke="#1a1a1a" stroke-width="1.4" stroke-dasharray="3.7 2.0" fill="none"/>
<path d="M118.35,1436.53 L119.42,1435.07 L120.50,1433.64 L121.57,1432.25 L122.65,1430.89 L123.72,1429.57 L124.79,1428.28 L125.87,1427.02 L126.94,1425.80 L128.02,1424.61 L129.09,1423.45 L130.16,1422.33 L131.24,1421.23 L132.31,1420.17 L133.39,1419.14 L134.46,1418.13 L135.53,1417.16 L136.61,1416.21 L137.68,1415.29 L138.76,1414.39 L139.83,1413.52 L140.91,1412.68 L141.98,1411.87 L143.05,1411.07 L144.13,1410.30 L145.20,1409.56 L146.28,1408.84 L147.35,1408.14 L148.42,1407.46 L149.50,1406.80 L150.57,1406.16 L151.65,1405.55 L152.72,1404.95 L153.79,1404.37 L154.87,1403.81 L155.94,1403.27 L157.02,1402.74 L158.09,1402.23 L159.16,1401.74 L160.24,1401.27 L161.31,1400.81 L162.39,1400.37 L163.46,1399.94 L164.53,1399.52 L165.61,1399.12 L166.68,1398.73 L167.76,1398.36 L168.83,1398.00 L169.90,1397.65 L170.98,1397.31 L172.05,1396.99 L173.13,1396.67 L174.20,1396.37 L175.27,1396.08 L176.35,1395.80 L177.42,1395.53 L178.50,1395.27 L179.57,1395.01 L180.64,1394.77 L181.72,1394.54 L182.79,1394.31 L183.87,1394.09 L184.94,1393.88 L186.02,1393.68 L187.09,1393.49 L188.16,1393.30 L189.24,1393.12 L190.31,1392.95 L191.39,1392.78 L192.46,1392.62 L193.53,1392.46 L194.61,1392.31 L195.68,1392.17 L196.76,1392.03 L197.83,1391.90 L198.90,1391.77 L199.98,1391.65 L201.05,1391.53 L202.13,1391.42 L203.20,1391.31 L204.27,1391.20 L205.35,1391.10 L206.42,1391.01 L207.50,1390.91 L208.57,1390.82 L209.64,1390.74 L210.72,1390.65 L211.79,1390.57 L212.87,1390.49 L213.94,1390.42 L215.01,1390.35 L216.09,1390.28 L217.16,1390.21 L218.24,1390.14 L219.31,1390.08 L220.38,1390.02 L221.46,1389.96 L222.53,1389.90 L223.61,1389.85 L224.68,1389.80 L225.75,1389.74 L226.83,1389.69 L227.90,1389.64 L228.98,1389.60 L230.05,1389.55 L231.13,1389.50 L232.20,1389.46 L233.27,1389.42 L234.35,1389.37 L235.42,1389.33 L236.50,1389.29 L237.57,1389.25 L238.64,1389.21 L239.72,1389.17 L240.79,1389.13 L241.87,1389.09 L242.94,1389.05 L244.01,1389.02 L245.09,1388.98 L246.16,1388.94 L247.24,1388.90 L248.31,1388.87 L251.97,1388.74 L255.64,1388.61 L259.30,1388.48 L262.97,1388.34 L266.63,1388.19 L270.30,1388.04 L273.96,1387.89 L277.63,1387.72 L281.29,1387.54 L284.96,1387.35 L288.62,1387.16 L292.29,1386.95 L295.95,1386.72 L299.62,1386.49 L303.28,1386.25 L306.95,1385.99 L310.61,1385.72 L314.28,1385.44 L317.94,1385.14 L321.60,1384.83 L325.27,1384.51 L328.93,1384.18 L332.60,1383.83 L336.26,1383.48 L339.93,1383.11 L343.59,1382.72 L347.26,1382.33 L350.92,1381.92 L354.59,1381.51 L358.25,1381.08 L361.92,1380.64 L365.58,1380.19 L369.25,1379.73 L372.91,1379.26 L376.58,1378.78 L380.24,1378.28 L383.90,1377.78 L387.57,1377.27 L391.23,1376.75 L394.90,1376.23 L398.56,1375.69 L402.23,1375.15 L405.89,1374.59 L409.56,1374.03 L413.22,1373.47 L416.89,1372.89 L420.55,1372.31 L424.22,1371.72 L427.88,1371.12 L431.55,1370.52 L435.21,1369.91 L438.88,1369.30 L442.54,1368.68 L446.21,1368.06 L449.87,1367.42 L453.53,1366.79 L457.20,1366.15 L460.86,1365.50 L464.53,1364.85 L468.19,1364.20 L471.86,1363.54 L475.52,1362.88 L479.19,1362.22 L482.85,1361.55 L486.52,1360.87 L490.18,1360.20 L493.85,1359.52 L497.51,1358.83 L501.18,1358.15 L504.84,1357.46 L508.51,1356.77 L512.17,1356.08 L515.83,1355.38 L519.50,1354.68 L523.16,1353.98 L526.83,1353.28 L530.49,1352.57 L534.16,1351.87 L537.82,1351.16 L541.49,1350.45 L545.15,1349.74 L548.82,1349.02 L552.48,1348.31 L556.15,1347.59 L559.81,1346.88 L563.48,1346.16 L567.14,1345.44 L570.81,1344.71 L574.47,1343.99 L578.14,1343.27 L581.80,1342.54 L585.46,1341.82 L589.13,1341.09 L592.79,1340.37 L596.46,1339.64 L600.12,1338.91 L603.79,1338.18 L607.45,1337.45 L611.12,1336.72 L614.78,1335.99 L618.45,1335.25 L622.11,1334.52 L625.78,1333.79 L629.44,1333.06 L633.11,1332.32 L636.77,1331.59 L640.44,1330.85 L644.10,1330.12 L647.76,1329.38 L651.43,1328.65 L655.09,1327.91 L658.76,1327.17 L662.42,1326.44 L666.09,1325.70 L669.75,1324.96 L673.42,1324.22 L677.08,1323.49 L680.75,1322.75 L684.41,1322.01 L688.08,1321.27 L691.74,1320.53 L695.41,1319.79 L699.07,1319.05 L702.74,1318.32 L706.40,1317.58 L710.07,1316.84 L713.73,1316.10 L717.39,1315.36 L721.06,1314.62 L724.72,1313.88 L728.39,1313.14 L732.05,1312.40 L735.72,1311.66 L739.38,1310.92 L743.05,1310.18 L746.71,1309.44 L750.38,1308.70 L754.04,1307.96 L757.71,1307.22 L761.37,1306.48 L765.04,1305.74 L768.70,1305.00 L772.37,1304.25 L776.03,1303.51 L779.69,1302.77 L783.36,1302.03 L787.02,1301.29 L790.69,1300.55 L794.35,1299.81 L798.02,1299.07 L801.68,1298.33 L805.35,1297.59 L809.01,1296.85 L812.68,1296.11 L816.34,1295.37 L820.01,1294.62 L823.67,1293.88 L827.34,1293.14 L831.00,1292.40 L834.67,1291.66 L838.33,1290.92 L842.00,1290.18 L845.66,1289.44 L849.32,1288.70 L852.99,1287.96 L856.65,1287.21 L860.32,1286.47 L863.98,1285.73 L867.65,1284.99 L871.31,1284.25 L874.98,1283.51 L878.64,1282.77 L882.31,1282.03 L885.97,1281.29 L889.64,1280.54 L893.30,1279.80 L896.97,1279.06 L900.63,1278.32 L904.30,1277.58 L907.96,1276.84 L911.62,1276.10 L915.29,1275.36 L918.95,1274.62 L922.62,1273.87 L926.28,1273.13 L929.95,1272.39 L933.61,1271.65 L937.28,1270.91 L940.94,1270.17 L944.61,1269.43 L948.27,1268.69 L951.94,1267.94 L955.60,1267.20 L959.27,1266.46 L962.93,1265.72 L966.60,1264.98 L970.26,1264.24 L973.93,1263.50 L977.59,1262.76" stroke="#000" stroke-width="1.4" fill="none" stroke-linejoin="round"/>
<path d="M118.35,1599.88 L977.59,1547.45" stroke="#1a1a1a" stroke-width="1.4" stroke-dasharray="3.7 2.0" fill="none"/>
<path d="M118.35,1599.88 L119.42,1597.93 L120.50,1596.05 L121.57,1594.22 L122.65,1592.46 L123.72,1590.76 L124.79,1589.12 L125.87,1587.53 L126.94,1586.01 L128.02,1584.55 L129.09,1583.14 L130.16,1581.79 L131.24,1580.49 L132.31,1579.25 L133.39,1578.06 L134.46,1576.92 L135.53,1575.84 L136.61,1574.80 L137.68,1573.81 L138.76,1572.86 L139.83,1571.96 L140.91,1571.11 L141.98,1570.30 L143.05,1569.53 L144.13,1568.80 L145.20,1568.11 L146.28,1567.45 L147.35,1566.84 L148.42,1566.26 L149.50,1565.71 L150.57,1565.20 L151.65,1564.72 L152.72,1564.27 L153.79,1563.85 L154.87,1563.46 L155.94,1563.10 L157.02,1562.77 L158.09,1562.46 L159.16,1562.18 L160.24,1561.92 L161.31,1561.69 L162.39,1561.48 L163.46,1561.29 L164.53,1561.13 L165.61,1560.98 L166.68,1560.85 L167.76,1560.74 L168.83,1560.65 L169.90,1560.58 L170.98,1560.53 L172.05,1560.49 L173.13,1560.46 L174.20,1560.45 L175.27,1560.46 L176.35,1560.47 L177.42,1560.51 L178.50,1560.55 L179.57,1560.60 L180.64,1560.67 L181.72,1560.75 L182.79,1560.84 L183.87,1560.93 L184.94,1561.04 L186.02,1561.15 L187.09,1561.28 L188.16,1561.41 L189.24,1561.55 L190.31,1561.69 L191.39,1561.85 L192.46,1562.01 L193.53,1562.17 L194.61,1562.34 L195.68,1562.52 L196.76,1562.70 L197.83,1562.88 L198.90,1563.07 L199.98,1563.27 L201.05,1563.47 L202.13,1563.67 L203.20,1563.87 L204.27,1564.08 L205.35,1564.29 L206.42,1564.50 L207.50,1564.71 L208.57,1564.93 L209.64,1565.15 L210.72,1565.37 L211.79,1565.59 L212.87,1565.81 L213.94,1566.03 L215.01,1566.26 L216.09,1566.48 L217.16,1566.71 L218.24,1566.93 L219.31,1567.16 L220.38,1567.38 L221.46,1567.61 L222.53,1567.84 L223.61,1568.06 L224.68,1568.28 L225.75,1568.51 L226.83,1568.73 L227.90,1568.95 L228.98,1569.18 L230.05,1569.40 L231.13,1569.61 L232.20,1569.83 L233.27,1570.05 L234.35,1570.26 L235.42,1570.48 L236.50,1570.69 L237.57,1570.90 L238.64,1571.11 L239.72,1571.32 L240.79,1571.52 L241.87,1571.73 L242.94,1571.93 L244.01,1572.13 L245.09,1572.33 L246.16,1572.53 L247.24,1572.72 L248.31,1572.91 L251.97,1573.55 L255.64,1574.17 L259.30,1574.76 L262.97,1575.32 L266.63,1575.85 L270.30,1576.36 L273.96,1576.84 L277.63,1577.29 L281.29,1577.72 L284.96,1578.12 L288.62,1578.49 L292.29,1578.84 L295.95,1579.16 L299.62,1579.46 L303.28,1579.74 L306.95,1579.99 L310.61,1580.22 L314.28,1580.42 L317.94,1580.61 L321.60,1580.78 L325.27,1580.92 L328.93,1581.05 L332.60,1581.16 L336.26,1581.26 L339.93,1581.34 L343.59,1581.40 L347.26,1581.45 L350.92,1581.48 L354.59,1581.50 L358.25,1581.50 L361.92,1581.50 L365.58,1581.48 L369.25,1581.45 L372.91,1581.41 L376.58,1581.36 L380.24,1581.30 L383.90,1581.23 L387.57,1581.15 L391.23,1581.07 L394.90,1580.97 L398.56,1580.87 L402.23,1580.77 L405.89,1580.65 L409.56,1580.53 L413.22,1580.40 L416.89,1580.27 L420.55,1580.13 L424.22,1579.99 L427.88,1579.84 L431.55,1579.69 L435.21,1579.53 L438.88,1579.37 L442.54,1579.21 L446.21,1579.04 L449.87,1578.87 L453.53,1578.69 L457.20,1578.52 L460.86,1578.34 L464.53,1578.15 L468.19,1577.97 L471.86,1577.78 L475.52,1577.59 L479.19,1577.40 L482.85,1577.21 L486.52,1577.01 L490.18,1576.81 L493.85,1576.61 L497.51,1576.41 L501.18,1576.21 L504.84,1576.01 L508.51,1575.80 L512.17,1575.60 L515.83,1575.39 L519.50,1575.18 L523.16,1574.97 L526.83,1574.76 L530.49,1574.55 L534.16,1574.34 L537.82,1574.13 L541.49,1573.91 L545.15,1573.70 L548.82,1573.49 L552.48,1573.27 L556.15,1573.06 L559.81,1572.84 L563.48,1572.62 L567.14,1572.41 L570.81,1572.19 L574.47,1571.97 L578.14,1571.75 L581.80,1571.53 L585.46,1571.31 L589.13,1571.09 L592.79,1570.88 L596.46,1570.66 L600.12,1570.44 L603.79,1570.22 L607.45,1569.99 L611.12,1569.77 L614.78,1569.55 L618.45,1569.33 L622.11,1569.11 L625.78,1568.89 L629.44,1568.67 L633.11,1568.45 L636.77,1568.22 L640.44,1568.00 L644.10,1567.78 L647.76,1567.56 L651.43,1567.34 L655.09,1567.11 L658.76,1566.89 L662.42,1566.67 L666.09,1566.45 L669.75,1566.22 L673.42,1566.00 L677.08,1565.78 L680.75,1565.56 L684.41,1565.33 L688.08,1565.11 L691.74,1564.89 L695.41,1564.66 L699.07,1564.44 L702.74,1564.22 L706.40,1563.99 L710.07,1563.77 L713.73,1563.55 L717.39,1563.32 L721.06,1563.10 L724.72,1562.88 L728.39,1562.65 L732.05,1562.43 L735.72,1562.21 L739.38,1561.98 L743.05,1561.76 L746.71,1561.54 L750.38,1561.31 L754.04,1561.09 L757.71,1560.87 L761.37,1560.64 L765.04,1560.42 L768.70,1560.20 L772.37,1559.97 L776.03,1559.75 L779.69,1559.53 L783.36,1559.30 L787.02,1559.08 L790.69,1558.86 L794.35,1558.63 L798.02,1558.41 L801.68,1558.19 L805.35,1557.96 L809.01,1557.74 L812.68,1557.52 L816.34,1557.29 L820.01,1557.07 L823.67,1556.84 L827.34,1556.62 L831.00,1556.40 L834.67,1556.17 L838.33,1555.95 L842.00,1555.73 L845.66,1555.50 L849.32,1555.28 L852.99,1555.06 L856.65,1554.83 L860.32,1554.61 L863.98,1554.39 L867.65,1554.16 L871.31,1553.94 L874.98,1553.71 L878.64,1553.49 L882.31,1553.27 L885.97,1553.04 L889.64,1552.82 L893.30,1552.60 L896.97,1552.37 L900.63,1552.15 L904.30,1551.93 L907.96,1551.70 L911.62,1551.48 L915.29,1551.26 L918.95,1551.03 L922.62,1550.81 L926.28,1550.58 L929.95,1550.36 L933.61,1550.14 L937.28,1549.91 L940.94,1549.69 L944.61,1549.47 L948.27,1549.24 L951.94,1549.02 L955.60,1548.80 L959.27,1548.57 L962.93,1548.35 L966.60,1548.13 L970.26,1547.90 L973.93,1547.68 L977.59,1547.45" stroke="#000" stroke-width="1.4" fill="none" stroke-linejoin="round"/>
<path d="M118.34,1449.00 L129.05,1412.00 L134.38,1412.70 L139.76,1396.60 L145.14,1398.40 L155.84,1410.10 L161.26,1415.30 L166.64,1416.40 L172.02,1404.60 L177.40,1396.60 L182.81,1387.80 L188.23,1398.60 L193.62,1390.30 L199.05,1389.80 L204.48,1394.00 L209.90,1394.70 L215.32,1390.70 L220.73,1388.50 L226.16,1400.50 L247.90,1377.80 L269.90,1399.90 L280.90,1354.00 L291.70,1397.20 L313.70,1365.40 L335.90,1367.20 L358.00,1399.10 L380.20,1340.80 L391.20,1371.20 L402.20,1365.00 L424.50,1385.30 L446.90,1375.60 L503.60,1350.40 L560.00,1347.40 L617.60,1341.40 L675.50,1340.50 L733.40,1317.40 L792.20,1330.00 L851.30,1277.80 L911.00,1290.10 L971.00,1323.10" stroke="#1f77b4" stroke-width="1.35" stroke-dasharray="3.4 1.6" fill="none"/>
<path d="M118.34,1445.30 V1452.70 M115.89,1445.30 H120.79 M115.89,1452.70 H120.79 M129.05,1394.40 V1428.80 M126.60,1394.40 H131.50 M126.60,1428.80 H131.50 M134.38,1406.80 V1418.20 M131.93,1406.80 H136.83 M131.93,1418.20 H136.83 M139.76,1390.70 V1402.80 M137.31,1390.70 H142.21 M137.31,1402.80 H142.21 M145.14,1392.50 V1404.60 M142.69,1392.50 H147.59 M142.69,1404.60 H147.59 M155.84,1397.70 V1422.60 M153.39,1397.70 H158.29 M153.39,1422.60 H158.29 M161.26,1402.80 V1428.10 M158.81,1402.80 H163.71 M158.81,1428.10 H163.71 M166.64,1410.50 V1421.90 M164.19,1410.50 H169.09 M164.19,1421.90 H169.09 M172.02,1392.20 V1417.10 M169.57,1392.20 H174.47 M169.57,1417.10 H174.47 M177.40,1390.70 V1402.80 M174.95,1390.70 H179.85 M174.95,1402.80 H179.85 M182.81,1382.30 V1394.00 M180.36,1382.30 H185.26 M180.36,1394.00 H185.26 M188.23,1392.90 V1404.60 M185.78,1392.90 H190.68 M185.78,1404.60 H190.68 M193.62,1384.50 V1396.20 M191.17,1384.50 H196.07 M191.17,1396.20 H196.07 M199.05,1384.10 V1395.50 M196.60,1384.10 H201.50 M196.60,1395.50 H201.50 M204.48,1388.50 V1399.70 M202.03,1388.50 H206.93 M202.03,1399.70 H206.93 M209.90,1389.20 V1400.20 M207.45,1389.20 H212.35 M207.45,1400.20 H212.35 M215.32,1384.80 V1396.40 M212.87,1384.80 H217.77 M212.87,1396.40 H217.77 M220.73,1383.00 V1394.00 M218.28,1383.00 H223.18 M218.28,1394.00 H223.18 M226.16,1387.80 V1413.60 M223.71,1387.80 H228.61 M223.71,1413.60 H228.61 M247.90,1365.20 V1390.90 M245.45,1365.20 H250.35 M245.45,1390.90 H250.35 M269.90,1387.80 V1412.30 M267.45,1387.80 H272.35 M267.45,1412.30 H272.35 M280.90,1341.50 V1366.80 M278.45,1341.50 H283.35 M278.45,1366.80 H283.35 M291.70,1384.50 V1410.00 M289.25,1384.50 H294.15 M289.25,1410.00 H294.15 M313.70,1352.40 V1378.40 M311.25,1352.40 H316.15 M311.25,1378.40 H316.15 M335.90,1354.40 V1380.40 M333.45,1354.40 H338.35 M333.45,1380.40 H338.35 M358.00,1386.60 V1411.70 M355.55,1386.60 H360.45 M355.55,1411.70 H360.45 M380.20,1327.20 V1352.90 M377.75,1327.20 H382.65 M377.75,1352.90 H382.65 M391.20,1358.00 V1384.40 M388.75,1358.00 H393.65 M388.75,1384.40 H393.65 M402.20,1352.20 V1378.20 M399.75,1352.20 H404.65 M399.75,1378.20 H404.65 M424.50,1373.50 V1398.20 M422.05,1373.50 H426.95 M422.05,1398.20 H426.95 M446.90,1363.00 V1387.90 M444.45,1363.00 H449.35 M444.45,1387.90 H449.35 M503.60,1337.50 V1363.00 M501.15,1337.50 H506.05 M501.15,1363.00 H506.05 M560.00,1335.10 V1360.90 M557.55,1335.10 H562.45 M557.55,1360.90 H562.45 M617.60,1330.00 V1354.60 M615.15,1330.00 H620.05 M615.15,1354.60 H620.05 M675.50,1323.50 V1357.50 M673.05,1323.50 H677.95 M673.05,1357.50 H677.95 M733.40,1297.60 V1336.00 M730.95,1297.60 H735.85 M730.95,1336.00 H735.85 M792.20,1311.40 V1349.50 M789.75,1311.40 H794.65 M789.75,1349.50 H794.65 M851.30,1258.00 V1297.90 M848.85,1258.00 H853.75 M848.85,1297.90 H853.75 M911.00,1270.30 V1309.90 M908.55,1270.30 H913.45 M908.55,1309.90 H913.45 M971.00,1303.60 V1342.60 M968.55,1303.60 H973.45 M968.55,1342.60 H973.45" stroke="#1f77b4" stroke-width="1.5" fill="none"/>
<g fill="#1f77b4" stroke="#000" stroke-width="1.3"><circle cx="118.34" cy="1449.00" r="3.2"/><circle cx="129.05" cy="1412.00" r="3.2"/><circle cx="134.38" cy="1412.70" r="3.2"/><circle cx="139.76" cy="1396.60" r="3.2"/><circle cx="145.14" cy="1398.40" r="3.2"/><circle cx="155.84" cy="1410.10" r="3.2"/><circle cx="161.26" cy="1415.30" r="3.2"/><circle cx="166.64" cy="1416.40" r="3.2"/><circle cx="172.02" cy="1404.60" r="3.2"/><circle cx="177.40" cy="1396.60" r="3.2"/><circle cx="182.81" cy="1387.80" r="3.2"/><circle cx="188.23" cy="1398.60" r="3.2"/><circle cx="193.62" cy="1390.30" r="3.2"/><circle cx="199.05" cy="1389.80" r="3.2"/><circle cx="204.48" cy="1394.00" r="3.2"/><circle cx="209.90" cy="1394.70" r="3.2"/><circle cx="215.32" cy="1390.70" r="3.2"/><circle cx="220.73" cy="1388.50" r="3.2"/><circle cx="226.16" cy="1400.50" r="3.2"/><circle cx="247.90" cy="1377.80" r="3.2"/><circle cx="269.90" cy="1399.90" r="3.2"/><circle cx="280.90" cy="1354.00" r="3.2"/><circle cx="291.70" cy="1397.20" r="3.2"/><circle cx="313.70" cy="1365.40" r="3.2"/><circle cx="335.90" cy="1367.20" r="3.2"/><circle cx="358.00" cy="1399.10" r="3.2"/><circle cx="380.20" cy="1340.80" r="3.2"/><circle cx="391.20" cy="1371.20" r="3.2"/><circle cx="402.20" cy="1365.00" r="3.2"/><circle cx="424.50" cy="1385.30" r="3.2"/><circle cx="446.90" cy="1375.60" r="3.2"/><circle cx="503.60" cy="1350.40" r="3.2"/><circle cx="560.00" cy="1347.40" r="3.2"/><circle cx="617.60" cy="1341.40" r="3.2"/><circle cx="675.50" cy="1340.50" r="3.2"/><circle cx="733.40" cy="1317.40" r="3.2"/><circle cx="792.20" cy="1330.00" r="3.2"/><circle cx="851.30" cy="1277.80" r="3.2"/><circle cx="911.00" cy="1290.10" r="3.2"/><circle cx="971.00" cy="1323.10" r="3.2"/></g>
<path d="M118.35,1430.70 V1442.30 M115.90,1430.70 H120.80 M115.90,1442.30 H120.80" stroke="#7f7f7f" stroke-width="1.5" fill="none"/>
<circle cx="118.35" cy="1436.50" r="3.2" fill="#7f7f7f" stroke="#000" stroke-width="1.3"/>
<path d="M118.34,1610.50 L129.05,1571.70 L134.38,1568.90 L139.76,1556.80 L145.14,1558.30 L155.84,1575.20 L161.26,1579.90 L166.64,1582.50 L172.02,1570.00 L177.40,1566.00 L182.81,1556.10 L188.23,1568.90 L193.62,1557.20 L199.05,1559.00 L204.48,1567.80 L209.90,1566.20 L215.32,1566.00 L220.73,1562.50 L226.16,1580.00 L247.90,1558.40 L269.90,1587.50 L280.90,1542.30 L291.70,1587.50 L313.70,1559.30 L335.90,1560.40 L358.00,1600.70 L380.20,1545.70 L391.20,1580.20 L402.20,1574.00 L424.50,1595.30 L446.90,1590.60 L503.60,1572.60 L560.00,1573.80 L617.60,1573.50 L675.50,1575.60 L733.40,1567.00 L792.20,1584.40 L851.30,1541.50 L911.00,1555.00 L971.00,1596.40" stroke="#ff7f0e" stroke-width="1.35" stroke-dasharray="3.4 1.6" fill="none"/>
<path d="M118.34,1606.50 V1614.50 M115.89,1606.50 H120.79 M115.89,1614.50 H120.79 M129.05,1553.90 V1589.10 M126.60,1553.90 H131.50 M126.60,1589.10 H131.50 M134.38,1563.50 V1574.50 M131.93,1563.50 H136.83 M131.93,1574.50 H136.83 M139.76,1551.00 V1562.70 M137.31,1551.00 H142.21 M137.31,1562.70 H142.21 M145.14,1552.80 V1564.20 M142.69,1552.80 H147.59 M142.69,1564.20 H147.59 M155.84,1564.90 V1588.00 M153.39,1564.90 H158.29 M153.39,1588.00 H158.29 M161.26,1567.10 V1592.00 M158.81,1567.10 H163.71 M158.81,1592.00 H163.71 M166.64,1575.90 V1589.10 M164.19,1575.90 H169.09 M164.19,1589.10 H169.09 M172.02,1557.20 V1582.50 M169.57,1557.20 H174.47 M169.57,1582.50 H174.47 M177.40,1560.50 V1572.20 M174.95,1560.50 H179.85 M174.95,1572.20 H179.85 M182.81,1549.50 V1562.00 M180.36,1549.50 H185.26 M180.36,1562.00 H185.26 M188.23,1563.10 V1574.80 M185.78,1563.10 H190.68 M185.78,1574.80 H190.68 M193.62,1550.00 V1563.40 M191.17,1550.00 H196.07 M191.17,1563.40 H196.07 M199.05,1551.00 V1566.00 M196.60,1551.00 H201.50 M196.60,1566.00 H201.50 M204.48,1561.60 V1573.70 M202.03,1561.60 H206.93 M202.03,1573.70 H206.93 M209.90,1560.10 V1572.60 M207.45,1560.10 H212.35 M207.45,1572.60 H212.35 M215.32,1559.80 V1572.20 M212.87,1559.80 H217.77 M212.87,1572.20 H217.77 M220.73,1556.80 V1568.60 M218.28,1556.80 H223.18 M218.28,1568.60 H223.18 M226.16,1567.00 V1592.90 M223.71,1567.00 H228.61 M223.71,1592.90 H228.61 M247.90,1545.40 V1571.40 M245.45,1545.40 H250.35 M245.45,1571.40 H250.35 M269.90,1574.70 V1600.30 M267.45,1574.70 H272.35 M267.45,1600.30 H272.35 M280.90,1529.50 V1555.00 M278.45,1529.50 H283.35 M278.45,1555.00 H283.35 M291.70,1574.70 V1600.90 M289.25,1574.70 H294.15 M289.25,1600.90 H294.15 M313.70,1546.00 V1572.80 M311.25,1546.00 H316.15 M311.25,1572.80 H316.15 M335.90,1547.60 V1572.90 M333.45,1547.60 H338.35 M333.45,1572.90 H338.35 M358.00,1588.30 V1613.00 M355.55,1588.30 H360.45 M355.55,1613.00 H360.45 M380.20,1532.20 V1558.90 M377.75,1532.20 H382.65 M377.75,1558.90 H382.65 M391.20,1567.40 V1593.40 M388.75,1567.40 H393.65 M388.75,1593.40 H393.65 M402.20,1561.10 V1586.80 M399.75,1561.10 H404.65 M399.75,1586.80 H404.65 M424.50,1581.80 V1608.50 M422.05,1581.80 H426.95 M422.05,1608.50 H426.95 M446.90,1577.40 V1604.10 M444.45,1577.40 H449.35 M444.45,1604.10 H449.35 M503.60,1559.10 V1586.40 M501.15,1559.10 H506.05 M501.15,1586.40 H506.05 M560.00,1560.60 V1587.60 M557.55,1560.60 H562.45 M557.55,1587.60 H562.45 M617.60,1559.40 V1587.60 M615.15,1559.40 H620.05 M615.15,1587.60 H620.05 M675.50,1556.10 V1594.80 M673.05,1556.10 H677.95 M673.05,1594.80 H677.95 M733.40,1547.80 V1585.90 M730.95,1547.80 H735.85 M730.95,1585.90 H735.85 M792.20,1564.00 V1605.40 M789.75,1564.00 H794.65 M789.75,1605.40 H794.65 M851.30,1521.10 V1561.60 M848.85,1521.10 H853.75 M848.85,1561.60 H853.75 M911.00,1534.60 V1575.40 M908.55,1534.60 H913.45 M908.55,1575.40 H913.45 M971.00,1576.90 V1615.90 M968.55,1576.90 H973.45 M968.55,1615.90 H973.45" stroke="#ff7f0e" stroke-width="1.5" fill="none"/>
<g fill="#ff7f0e" stroke="#000" stroke-width="1.3"><circle cx="118.34" cy="1610.50" r="3.2"/><circle cx="129.05" cy="1571.70" r="3.2"/><circle cx="134.38" cy="1568.90" r="3.2"/><circle cx="139.76" cy="1556.80" r="3.2"/><circle cx="145.14" cy="1558.30" r="3.2"/><circle cx="155.84" cy="1575.20" r="3.2"/><circle cx="161.26" cy="1579.90" r="3.2"/><circle cx="166.64" cy="1582.50" r="3.2"/><circle cx="172.02" cy="1570.00" r="3.2"/><circle cx="177.40" cy="1566.00" r="3.2"/><circle cx="182.81" cy="1556.10" r="3.2"/><circle cx="188.23" cy="1568.90" r="3.2"/><circle cx="193.62" cy="1557.20" r="3.2"/><circle cx="199.05" cy="1559.00" r="3.2"/><circle cx="204.48" cy="1567.80" r="3.2"/><circle cx="209.90" cy="1566.20" r="3.2"/><circle cx="215.32" cy="1566.00" r="3.2"/><circle cx="220.73" cy="1562.50" r="3.2"/><circle cx="226.16" cy="1580.00" r="3.2"/><circle cx="247.90" cy="1558.40" r="3.2"/><circle cx="269.90" cy="1587.50" r="3.2"/><circle cx="280.90" cy="1542.30" r="3.2"/><circle cx="291.70" cy="1587.50" r="3.2"/><circle cx="313.70" cy="1559.30" r="3.2"/><circle cx="335.90" cy="1560.40" r="3.2"/><circle cx="358.00" cy="1600.70" r="3.2"/><circle cx="380.20" cy="1545.70" r="3.2"/><circle cx="391.20" cy="1580.20" r="3.2"/><circle cx="402.20" cy="1574.00" r="3.2"/><circle cx="424.50" cy="1595.30" r="3.2"/><circle cx="446.90" cy="1590.60" r="3.2"/><circle cx="503.60" cy="1572.60" r="3.2"/><circle cx="560.00" cy="1573.80" r="3.2"/><circle cx="617.60" cy="1573.50" r="3.2"/><circle cx="675.50" cy="1575.60" r="3.2"/><circle cx="733.40" cy="1567.00" r="3.2"/><circle cx="792.20" cy="1584.40" r="3.2"/><circle cx="851.30" cy="1541.50" r="3.2"/><circle cx="911.00" cy="1555.00" r="3.2"/><circle cx="971.00" cy="1596.40" r="3.2"/></g>
<path d="M118.35,1593.60 V1605.20 M115.90,1593.60 H120.80 M115.90,1605.20 H120.80" stroke="#000" stroke-width="1.5" fill="none"/>
<circle cx="118.35" cy="1599.40" r="3.2" fill="#000" stroke="#000" stroke-width="1.3"/>
</g>
<rect x="116.30" y="1181.50" width="861.30" height="454.90" fill="none" stroke="#000" stroke-width="2.8"/>
<path d="M118.35,1636.40 V1646.90 M225.75,1636.40 V1646.90 M333.16,1636.40 V1646.90 M440.57,1636.40 V1646.90 M547.97,1636.40 V1646.90 M655.38,1636.40 V1646.90 M762.78,1636.40 V1646.90 M870.19,1636.40 V1646.90 M977.59,1636.40 V1646.90 M105.50,1635.05 H116.30 M105.50,1577.68 H116.30 M105.50,1520.31 H116.30 M105.50,1462.94 H116.30 M105.50,1405.57 H116.30 M105.50,1348.20 H116.30 M105.50,1290.83 H116.30 M105.50,1233.46 H116.30" stroke="#000" stroke-width="2.7" fill="none"/>
<text x="95.34" y="1676.00" font-size="26.30" font-style="normal" fill="#000">0.00</text>
<text x="202.76" y="1676.00" font-size="26.30" font-style="normal" fill="#000">0.05</text>
<text x="310.15" y="1676.00" font-size="26.30" font-style="normal" fill="#000">0.10</text>
<text x="417.57" y="1676.00" font-size="26.30" font-style="normal" fill="#000">0.15</text>
<text x="524.96" y="1676.00" font-size="26.30" font-style="normal" fill="#000">0.20</text>
<text x="632.38" y="1676.00" font-size="26.30" font-style="normal" fill="#000">0.25</text>
<text x="739.77" y="1676.00" font-size="26.30" font-style="normal" fill="#000">0.30</text>
<text x="847.19" y="1676.00" font-size="26.30" font-style="normal" fill="#000">0.35</text>
<text x="954.58" y="1676.00" font-size="26.30" font-style="normal" fill="#000">0.40</text>
<text x="49.28" y="1643.95" font-size="26.30" font-style="normal" fill="#000">1.30</text>
<text x="49.30" y="1586.58" font-size="26.30" font-style="normal" fill="#000">1.35</text>
<text x="49.28" y="1529.21" font-size="26.30" font-style="normal" fill="#000">1.40</text>
<text x="49.30" y="1471.84" font-size="26.30" font-style="normal" fill="#000">1.45</text>
<text x="49.28" y="1414.47" font-size="26.30" font-style="normal" fill="#000">1.50</text>
<text x="49.30" y="1357.10" font-size="26.30" font-style="normal" fill="#000">1.55</text>
<text x="49.28" y="1299.73" font-size="26.30" font-style="normal" fill="#000">1.60</text>
<text x="49.30" y="1242.36" font-size="26.30" font-style="normal" fill="#000">1.65</text>
<rect x="288.00" y="194.40" width="677.60" height="153.40" rx="3" ry="3" fill="#f6f6f6" fill-opacity="0.82"/>
<path d="M304.80,248.20 H340.00" stroke="#1f77b4" stroke-width="1.3" stroke-dasharray="3.4 1.6" fill="none"/>
<path d="M304.80,235.80 V260.60 M302.35,235.80 H307.25 M302.35,260.60 H307.25 M340.00,235.80 V260.60 M337.55,235.80 H342.45 M337.55,260.60 H342.45 " stroke="#1f77b4" stroke-width="1.5" fill="none"/>
<g fill="#1f77b4" stroke="#000" stroke-width="1.3"><circle cx="304.80" cy="248.20" r="3.2"/><circle cx="340.00" cy="248.20" r="3.2"/></g>
<path d="M304.80,324.20 H340.00" stroke="#ff7f0e" stroke-width="1.3" stroke-dasharray="3.4 1.6" fill="none"/>
<path d="M304.80,311.80 V336.60 M302.35,311.80 H307.25 M302.35,336.60 H307.25 M340.00,311.80 V336.60 M337.55,311.80 H342.45 M337.55,336.60 H342.45 " stroke="#ff7f0e" stroke-width="1.5" fill="none"/>
<g fill="#ff7f0e" stroke="#000" stroke-width="1.3"><circle cx="304.80" cy="324.20" r="3.2"/><circle cx="340.00" cy="324.20" r="3.2"/></g>
<path d="M705.40,248.70 H740.40" stroke="#000" stroke-width="1.6" fill="none"/>
<path d="M705.40,319.90 H739.00" stroke="#1a1a1a" stroke-width="1.3" stroke-dasharray="3.8 2.05" fill="none"/>
<text x="412.76" y="211.80" font-size="26.50" font-style="italic" fill="#000" textLength="12.13" lengthAdjust="spacingAndGlyphs">c</text>
<text x="424.80" y="215.70" font-size="19.00" font-style="italic" fill="#000" textLength="13.99" lengthAdjust="spacingAndGlyphs">V</text>
<text x="440.00" y="215.70" font-size="19.00" font-style="normal" fill="#000" textLength="28.75" lengthAdjust="spacingAndGlyphs">,cl.</text>
<text x="412.76" y="286.70" font-size="26.50" font-style="italic" fill="#000" textLength="12.13" lengthAdjust="spacingAndGlyphs">c</text>
<text x="424.80" y="290.60" font-size="19.00" font-style="italic" fill="#000" textLength="13.99" lengthAdjust="spacingAndGlyphs">V</text>
<text x="440.00" y="290.60" font-size="19.00" font-style="normal" fill="#000" textLength="28.75" lengthAdjust="spacingAndGlyphs">,cl.</text>
<text x="476.08" y="287.20" font-size="26.50" font-style="normal" fill="#000" textLength="20.60" lengthAdjust="spacingAndGlyphs">+</text>
<text x="502.10" y="286.70" font-size="26.50" font-style="normal" fill="#000" textLength="21.99" lengthAdjust="spacingAndGlyphs">Δ</text>
<text x="523.45" y="286.70" font-size="26.50" font-style="italic" fill="#000" textLength="13.68" lengthAdjust="spacingAndGlyphs">c</text>
<text x="536.49" y="290.60" font-size="19.00" font-style="italic" fill="#000" textLength="12.97" lengthAdjust="spacingAndGlyphs">V</text>
<text x="368.12" y="248.60" font-size="26.50" font-style="normal" fill="#000" textLength="8.17" lengthAdjust="spacingAndGlyphs">(</text>
<text x="382.21" y="236.90" font-size="14.80" font-style="normal" fill="#000" textLength="16.66" lengthAdjust="spacingAndGlyphs">Δ</text>
<rect x="380.40" y="241.30" width="18.90" height="1.6" fill="#000"/>
<text x="383.34" y="257.90" font-size="20.30" font-style="italic" fill="#000" textLength="15.69" lengthAdjust="spacingAndGlyphs">R</text>
<text x="409.25" y="250.70" font-size="26.50" font-style="normal" fill="#000" textLength="22.06" lengthAdjust="spacingAndGlyphs">=</text>
<text x="437.42" y="248.10" font-size="26.50" font-style="normal" fill="#000" textLength="53.56" lengthAdjust="spacingAndGlyphs">2.15,</text>
<text x="495.34" y="248.10" font-size="26.50" font-style="italic" fill="#000" textLength="16.49" lengthAdjust="spacingAndGlyphs">κ</text>
<text x="511.25" y="251.40" font-size="19.00" font-style="italic" fill="#000" textLength="43.64" lengthAdjust="spacingAndGlyphs">max</text>
<text x="563.89" y="250.70" font-size="26.50" font-style="normal" fill="#000" textLength="21.57" lengthAdjust="spacingAndGlyphs">=</text>
<text x="591.50" y="248.10" font-size="26.50" font-style="normal" fill="#000" textLength="45.88" lengthAdjust="spacingAndGlyphs">1.09</text>
<text x="637.03" y="248.60" font-size="26.50" font-style="normal" fill="#000" textLength="9.98" lengthAdjust="spacingAndGlyphs">)</text>
<text x="368.12" y="323.90" font-size="26.50" font-style="normal" fill="#000" textLength="8.17" lengthAdjust="spacingAndGlyphs">(</text>
<text x="382.21" y="312.20" font-size="14.80" font-style="normal" fill="#000" textLength="16.66" lengthAdjust="spacingAndGlyphs">Δ</text>
<rect x="380.40" y="316.60" width="18.90" height="1.6" fill="#000"/>
<text x="383.34" y="333.20" font-size="20.30" font-style="italic" fill="#000" textLength="15.69" lengthAdjust="spacingAndGlyphs">R</text>
<text x="409.25" y="326.00" font-size="26.50" font-style="normal" fill="#000" textLength="22.06" lengthAdjust="spacingAndGlyphs">=</text>
<text x="437.42" y="323.40" font-size="26.50" font-style="normal" fill="#000" textLength="53.56" lengthAdjust="spacingAndGlyphs">2.46,</text>
<text x="495.34" y="323.40" font-size="26.50" font-style="italic" fill="#000" textLength="16.49" lengthAdjust="spacingAndGlyphs">κ</text>
<text x="511.25" y="326.70" font-size="19.00" font-style="italic" fill="#000" textLength="43.64" lengthAdjust="spacingAndGlyphs">max</text>
<text x="563.89" y="326.00" font-size="26.50" font-style="normal" fill="#000" textLength="21.57" lengthAdjust="spacingAndGlyphs">=</text>
<text x="591.47" y="323.40" font-size="26.50" font-style="normal" fill="#000" textLength="46.42" lengthAdjust="spacingAndGlyphs">1.11</text>
<text x="637.03" y="323.90" font-size="26.50" font-style="normal" fill="#000" textLength="9.98" lengthAdjust="spacingAndGlyphs">)</text>
<text x="812.59" y="221.60" font-size="26.50" font-style="normal" fill="#000" textLength="123.56" lengthAdjust="spacingAndGlyphs">interacting</text>
<text x="767.22" y="257.20" font-size="26.50" font-style="normal" fill="#000" textLength="187.92" lengthAdjust="spacingAndGlyphs">mesolayer model</text>
<text x="812.64" y="291.60" font-size="26.50" font-style="normal" fill="#000" textLength="63.81" lengthAdjust="spacingAndGlyphs">linear</text>
<text x="767.20" y="328.00" font-size="26.50" font-style="normal" fill="#000" textLength="145.83" lengthAdjust="spacingAndGlyphs">interpolation</text>
<rect x="128.60" y="1194.90" width="677.60" height="153.40" rx="3" ry="3" fill="#f6f6f6" fill-opacity="0.82"/>
<path d="M145.40,1248.70 H180.60" stroke="#1f77b4" stroke-width="1.3" stroke-dasharray="3.4 1.6" fill="none"/>
<path d="M145.40,1236.30 V1261.10 M142.95,1236.30 H147.85 M142.95,1261.10 H147.85 M180.60,1236.30 V1261.10 M178.15,1236.30 H183.05 M178.15,1261.10 H183.05 " stroke="#1f77b4" stroke-width="1.5" fill="none"/>
<g fill="#1f77b4" stroke="#000" stroke-width="1.3"><circle cx="145.40" cy="1248.70" r="3.2"/><circle cx="180.60" cy="1248.70" r="3.2"/></g>
<path d="M145.40,1324.70 H180.60" stroke="#ff7f0e" stroke-width="1.3" stroke-dasharray="3.4 1.6" fill="none"/>
<path d="M145.40,1312.30 V1337.10 M142.95,1312.30 H147.85 M142.95,1337.10 H147.85 M180.60,1312.30 V1337.10 M178.15,1312.30 H183.05 M178.15,1337.10 H183.05 " stroke="#ff7f0e" stroke-width="1.5" fill="none"/>
<g fill="#ff7f0e" stroke="#000" stroke-width="1.3"><circle cx="145.40" cy="1324.70" r="3.2"/><circle cx="180.60" cy="1324.70" r="3.2"/></g>
<path d="M546.00,1249.20 H581.00" stroke="#000" stroke-width="1.6" fill="none"/>
<path d="M546.00,1320.40 H579.60" stroke="#1a1a1a" stroke-width="1.3" stroke-dasharray="3.8 2.05" fill="none"/>
<text x="253.36" y="1212.30" font-size="26.50" font-style="italic" fill="#000" textLength="12.13" lengthAdjust="spacingAndGlyphs">c</text>
<text x="266.74" y="1216.20" font-size="19.00" font-style="italic" fill="#000" textLength="15.51" lengthAdjust="spacingAndGlyphs">P</text>
<text x="280.60" y="1216.20" font-size="19.00" font-style="normal" fill="#000" textLength="28.75" lengthAdjust="spacingAndGlyphs">,cl.</text>
<text x="253.36" y="1287.20" font-size="26.50" font-style="italic" fill="#000" textLength="12.13" lengthAdjust="spacingAndGlyphs">c</text>
<text x="266.74" y="1291.10" font-size="19.00" font-style="italic" fill="#000" textLength="15.51" lengthAdjust="spacingAndGlyphs">P</text>
<text x="280.60" y="1291.10" font-size="19.00" font-style="normal" fill="#000" textLength="28.75" lengthAdjust="spacingAndGlyphs">,cl.</text>
<text x="316.68" y="1287.70" font-size="26.50" font-style="normal" fill="#000" textLength="20.60" lengthAdjust="spacingAndGlyphs">+</text>
<text x="342.70" y="1287.20" font-size="26.50" font-style="normal" fill="#000" textLength="21.99" lengthAdjust="spacingAndGlyphs">Δ</text>
<text x="364.05" y="1287.20" font-size="26.50" font-style="italic" fill="#000" textLength="13.68" lengthAdjust="spacingAndGlyphs">c</text>
<text x="377.09" y="1291.10" font-size="19.00" font-style="italic" fill="#000" textLength="12.97" lengthAdjust="spacingAndGlyphs">V</text>
<text x="208.72" y="1249.10" font-size="26.50" font-style="normal" fill="#000" textLength="8.17" lengthAdjust="spacingAndGlyphs">(</text>
<text x="222.81" y="1237.40" font-size="14.80" font-style="normal" fill="#000" textLength="16.66" lengthAdjust="spacingAndGlyphs">Δ</text>
<rect x="221.00" y="1241.80" width="18.90" height="1.6" fill="#000"/>
<text x="223.94" y="1258.40" font-size="20.30" font-style="italic" fill="#000" textLength="15.69" lengthAdjust="spacingAndGlyphs">R</text>
<text x="249.85" y="1251.20" font-size="26.50" font-style="normal" fill="#000" textLength="22.06" lengthAdjust="spacingAndGlyphs">=</text>
<text x="278.02" y="1248.60" font-size="26.50" font-style="normal" fill="#000" textLength="53.56" lengthAdjust="spacingAndGlyphs">2.15,</text>
<text x="335.94" y="1248.60" font-size="26.50" font-style="italic" fill="#000" textLength="16.49" lengthAdjust="spacingAndGlyphs">κ</text>
<text x="351.85" y="1251.90" font-size="19.00" font-style="italic" fill="#000" textLength="43.64" lengthAdjust="spacingAndGlyphs">max</text>
<text x="404.49" y="1251.20" font-size="26.50" font-style="normal" fill="#000" textLength="21.57" lengthAdjust="spacingAndGlyphs">=</text>
<text x="432.10" y="1248.60" font-size="26.50" font-style="normal" fill="#000" textLength="45.80" lengthAdjust="spacingAndGlyphs">1.08</text>
<text x="477.63" y="1249.10" font-size="26.50" font-style="normal" fill="#000" textLength="9.98" lengthAdjust="spacingAndGlyphs">)</text>
<text x="208.72" y="1324.40" font-size="26.50" font-style="normal" fill="#000" textLength="8.17" lengthAdjust="spacingAndGlyphs">(</text>
<text x="222.81" y="1312.70" font-size="14.80" font-style="normal" fill="#000" textLength="16.66" lengthAdjust="spacingAndGlyphs">Δ</text>
<rect x="221.00" y="1317.10" width="18.90" height="1.6" fill="#000"/>
<text x="223.94" y="1333.70" font-size="20.30" font-style="italic" fill="#000" textLength="15.69" lengthAdjust="spacingAndGlyphs">R</text>
<text x="249.85" y="1326.50" font-size="26.50" font-style="normal" fill="#000" textLength="22.06" lengthAdjust="spacingAndGlyphs">=</text>
<text x="278.02" y="1323.90" font-size="26.50" font-style="normal" fill="#000" textLength="53.56" lengthAdjust="spacingAndGlyphs">2.41,</text>
<text x="335.94" y="1323.90" font-size="26.50" font-style="italic" fill="#000" textLength="16.49" lengthAdjust="spacingAndGlyphs">κ</text>
<text x="351.85" y="1327.20" font-size="19.00" font-style="italic" fill="#000" textLength="43.64" lengthAdjust="spacingAndGlyphs">max</text>
<text x="404.49" y="1326.50" font-size="26.50" font-style="normal" fill="#000" textLength="21.57" lengthAdjust="spacingAndGlyphs">=</text>
<text x="432.10" y="1323.90" font-size="26.50" font-style="normal" fill="#000" textLength="45.80" lengthAdjust="spacingAndGlyphs">1.10</text>
<text x="477.63" y="1324.40" font-size="26.50" font-style="normal" fill="#000" textLength="9.98" lengthAdjust="spacingAndGlyphs">)</text>
<text x="653.19" y="1222.10" font-size="26.50" font-style="normal" fill="#000" textLength="123.56" lengthAdjust="spacingAndGlyphs">interacting</text>
<text x="607.82" y="1257.70" font-size="26.50" font-style="normal" fill="#000" textLength="187.92" lengthAdjust="spacingAndGlyphs">mesolayer model</text>
<text x="653.24" y="1292.10" font-size="26.50" font-style="normal" fill="#000" textLength="63.81" lengthAdjust="spacingAndGlyphs">linear</text>
<text x="607.80" y="1328.50" font-size="26.50" font-style="normal" fill="#000" textLength="145.83" lengthAdjust="spacingAndGlyphs">interpolation</text>
<g transform="translate(25.90,0) rotate(-90)">
<text x="-408.75" y="-0.29" font-size="29.73" font-style="italic" fill="#000" textLength="13.68" lengthAdjust="spacingAndGlyphs">c</text>
<text x="-394.92" y="4.05" font-size="22.99" font-style="italic" fill="#000" textLength="15.49" lengthAdjust="spacingAndGlyphs">V</text>
<text x="-372.20" y="-0.08" font-size="34.19" font-style="normal" fill="#000" textLength="9.08" lengthAdjust="spacingAndGlyphs">(</text>
<text x="-362.89" y="-0.30" font-size="30.51" font-style="italic" fill="#000" textLength="22.14" lengthAdjust="spacingAndGlyphs">w</text>
<text x="-340.82" y="3.88" font-size="20.76" font-style="italic" fill="#000" textLength="28.69" lengthAdjust="spacingAndGlyphs">np</text>
<text x="-310.33" y="-0.10" font-size="34.30" font-style="normal" fill="#000" textLength="9.59" lengthAdjust="spacingAndGlyphs">)</text>
<text x="-287.00" y="6.65" font-size="46.04" font-style="normal" fill="#000" textLength="11.90" lengthAdjust="spacingAndGlyphs">/</text>
<text x="-262.46" y="-0.32" font-size="32.65" font-style="normal" fill="#000" textLength="14.01" lengthAdjust="spacingAndGlyphs">J</text>
<text x="-242.84" y="-0.18" font-size="27.71" font-style="normal" fill="#000" textLength="15.64" lengthAdjust="spacingAndGlyphs">g</text>
<text x="-225.85" y="-9.66" font-size="22.40" font-style="normal" fill="#000" textLength="17.57" lengthAdjust="spacingAndGlyphs">−</text>
<text x="-207.50" y="-11.50" font-size="21.81" font-style="normal" fill="#000" textLength="11.93" lengthAdjust="spacingAndGlyphs">1</text>
<text x="-189.06" y="-0.10" font-size="32.99" font-style="normal" fill="#000" textLength="24.00" lengthAdjust="spacingAndGlyphs">K</text>
<text x="-163.40" y="-9.66" font-size="22.40" font-style="normal" fill="#000" textLength="16.97" lengthAdjust="spacingAndGlyphs">−</text>
<text x="-145.17" y="-11.50" font-size="21.81" font-style="normal" fill="#000" textLength="11.79" lengthAdjust="spacingAndGlyphs">1</text>
</g>
<g transform="translate(39.20,0) rotate(-90)">
<text x="-977.65" y="-0.29" font-size="29.73" font-style="italic" fill="#000" textLength="13.68" lengthAdjust="spacingAndGlyphs">c</text>
<text x="-963.82" y="4.05" font-size="22.99" font-style="italic" fill="#000" textLength="15.49" lengthAdjust="spacingAndGlyphs">V</text>
<text x="-941.10" y="-0.08" font-size="34.19" font-style="normal" fill="#000" textLength="9.08" lengthAdjust="spacingAndGlyphs">(</text>
<text x="-931.79" y="-0.30" font-size="30.51" font-style="italic" fill="#000" textLength="22.14" lengthAdjust="spacingAndGlyphs">w</text>
<text x="-909.72" y="3.88" font-size="20.76" font-style="italic" fill="#000" textLength="28.69" lengthAdjust="spacingAndGlyphs">np</text>
<text x="-879.23" y="-0.10" font-size="34.30" font-style="normal" fill="#000" textLength="9.59" lengthAdjust="spacingAndGlyphs">)</text>
<text x="-855.90" y="6.65" font-size="46.04" font-style="normal" fill="#000" textLength="11.90" lengthAdjust="spacingAndGlyphs">/</text>
<text x="-831.36" y="-0.32" font-size="32.65" font-style="normal" fill="#000" textLength="14.01" lengthAdjust="spacingAndGlyphs">J</text>
<text x="-811.74" y="-0.18" font-size="27.71" font-style="normal" fill="#000" textLength="15.64" lengthAdjust="spacingAndGlyphs">g</text>
<text x="-794.75" y="-9.66" font-size="22.40" font-style="normal" fill="#000" textLength="17.57" lengthAdjust="spacingAndGlyphs">−</text>
<text x="-776.40" y="-11.50" font-size="21.81" font-style="normal" fill="#000" textLength="11.93" lengthAdjust="spacingAndGlyphs">1</text>
<text x="-757.96" y="-0.10" font-size="32.99" font-style="normal" fill="#000" textLength="24.00" lengthAdjust="spacingAndGlyphs">K</text>
<text x="-732.30" y="-9.66" font-size="22.40" font-style="normal" fill="#000" textLength="16.97" lengthAdjust="spacingAndGlyphs">−</text>
<text x="-714.07" y="-11.50" font-size="21.81" font-style="normal" fill="#000" textLength="11.79" lengthAdjust="spacingAndGlyphs">1</text>
</g>
<g transform="translate(26.00,0) rotate(-90)">
<text x="-1546.75" y="-0.29" font-size="29.73" font-style="italic" fill="#000" textLength="13.68" lengthAdjust="spacingAndGlyphs">c</text>
<text x="-1531.45" y="4.40" font-size="23.52" font-style="italic" fill="#000" textLength="17.16" lengthAdjust="spacingAndGlyphs">P</text>
<text x="-1510.20" y="-0.08" font-size="34.19" font-style="normal" fill="#000" textLength="9.08" lengthAdjust="spacingAndGlyphs">(</text>
<text x="-1500.89" y="-0.30" font-size="30.51" font-style="italic" fill="#000" textLength="22.14" lengthAdjust="spacingAndGlyphs">w</text>
<text x="-1478.82" y="3.88" font-size="20.76" font-style="italic" fill="#000" textLength="28.69" lengthAdjust="spacingAndGlyphs">np</text>
<text x="-1448.33" y="-0.10" font-size="34.30" font-style="normal" fill="#000" textLength="9.59" lengthAdjust="spacingAndGlyphs">)</text>
<text x="-1425.00" y="6.65" font-size="46.04" font-style="normal" fill="#000" textLength="11.90" lengthAdjust="spacingAndGlyphs">/</text>
<text x="-1400.46" y="-0.32" font-size="32.65" font-style="normal" fill="#000" textLength="14.01" lengthAdjust="spacingAndGlyphs">J</text>
<text x="-1380.84" y="-0.18" font-size="27.71" font-style="normal" fill="#000" textLength="15.64" lengthAdjust="spacingAndGlyphs">g</text>
<text x="-1363.85" y="-9.66" font-size="22.40" font-style="normal" fill="#000" textLength="17.57" lengthAdjust="spacingAndGlyphs">−</text>
<text x="-1345.50" y="-11.50" font-size="21.81" font-style="normal" fill="#000" textLength="11.93" lengthAdjust="spacingAndGlyphs">1</text>
<text x="-1327.06" y="-0.10" font-size="32.99" font-style="normal" fill="#000" textLength="24.00" lengthAdjust="spacingAndGlyphs">K</text>
<text x="-1301.40" y="-9.66" font-size="22.40" font-style="normal" fill="#000" textLength="16.97" lengthAdjust="spacingAndGlyphs">−</text>
<text x="-1283.17" y="-11.50" font-size="21.81" font-style="normal" fill="#000" textLength="11.79" lengthAdjust="spacingAndGlyphs">1</text>
</g>
<text x="522.61" y="571.11" font-size="29.87" font-style="italic" fill="#000" textLength="22.03" lengthAdjust="spacingAndGlyphs">w</text>
<text x="543.57" y="575.23" font-size="21.49" font-style="italic" fill="#000" textLength="29.01" lengthAdjust="spacingAndGlyphs">np</text>
<text x="522.61" y="1140.71" font-size="29.87" font-style="italic" fill="#000" textLength="22.03" lengthAdjust="spacingAndGlyphs">w</text>
<text x="543.57" y="1144.83" font-size="21.49" font-style="italic" fill="#000" textLength="29.01" lengthAdjust="spacingAndGlyphs">np</text>
<text x="522.61" y="1709.01" font-size="29.87" font-style="italic" fill="#000" textLength="22.03" lengthAdjust="spacingAndGlyphs">w</text>
<text x="543.57" y="1713.13" font-size="21.49" font-style="italic" fill="#000" textLength="29.01" lengthAdjust="spacingAndGlyphs">np</text>
<rect x="4.40" y="1.60" width="57.60" height="48.80" rx="6.5" ry="6.5" fill="#fff" stroke="#000" stroke-width="3.2"/>
<text x="14.72" y="34.60" font-size="34.74" font-style="normal" fill="#000" textLength="10.44" lengthAdjust="spacingAndGlyphs">(</text>
<text x="25.32" y="34.01" font-size="29.85" font-style="normal" fill="#000" textLength="16.12" lengthAdjust="spacingAndGlyphs">a</text>
<text x="41.00" y="34.60" font-size="34.74" font-style="normal" fill="#000" textLength="10.37" lengthAdjust="spacingAndGlyphs">)</text>
<rect x="3.50" y="555.95" width="59.15" height="48.30" rx="6.5" ry="6.5" fill="#fff" stroke="#000" stroke-width="3.2"/>
<text x="14.08" y="588.57" font-size="34.41" font-style="normal" fill="#000" textLength="9.98" lengthAdjust="spacingAndGlyphs">(</text>
<text x="25.55" y="588.19" font-size="31.84" font-style="normal" fill="#000" textLength="16.67" lengthAdjust="spacingAndGlyphs">b</text>
<text x="42.08" y="588.57" font-size="34.41" font-style="normal" fill="#000" textLength="9.98" lengthAdjust="spacingAndGlyphs">)</text>
<rect x="5.30" y="1144.65" width="55.70" height="48.75" rx="6.5" ry="6.5" fill="#fff" stroke="#000" stroke-width="3.2"/>
<text x="15.83" y="1177.47" font-size="34.41" font-style="normal" fill="#000" textLength="9.98" lengthAdjust="spacingAndGlyphs">(</text>
<text x="26.09" y="1176.47" font-size="28.38" font-style="normal" fill="#000" textLength="14.08" lengthAdjust="spacingAndGlyphs">c</text>
<text x="40.33" y="1177.47" font-size="34.41" font-style="normal" fill="#000" textLength="9.98" lengthAdjust="spacingAndGlyphs">)</text>
</svg>
</body></html>
